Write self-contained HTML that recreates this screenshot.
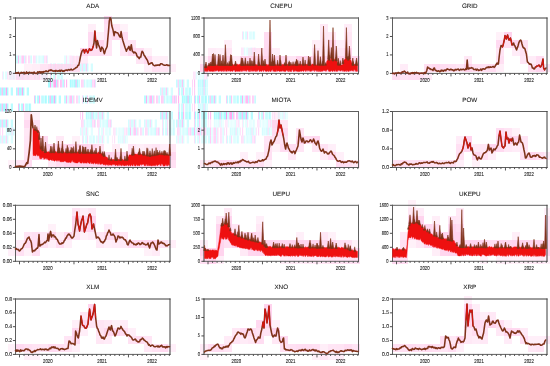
<!DOCTYPE html>
<html><head><meta charset="utf-8"><style>
html,body{margin:0;padding:0;background:#fff;width:550px;height:366px;overflow:hidden}
svg{display:block}
text{text-rendering:geometricPrecision}
</style></head><body>
<svg style="will-change:transform" width="550" height="366" viewBox="0 0 550 366">
<rect width="550" height="366" fill="#fff"/>
<defs><pattern id="art0" width="16" height="8" patternUnits="userSpaceOnUse"><rect x="0.0" y="0" width="1.7" height="8" fill="#9cfbff"/><rect x="1.7" y="0" width="1.1" height="8" fill="#ff9cee"/><rect x="2.9" y="0" width="1.2" height="8" fill="#9cfbff"/><rect x="4.0" y="0" width="1.7" height="8" fill="#9cfbff"/><rect x="5.8" y="0" width="1.1" height="8" fill="#ff86ea"/><rect x="6.9" y="0" width="1.5" height="8" fill="#9cfbff"/><rect x="10.7" y="0" width="2.3" height="8" fill="#aefcff"/></pattern><pattern id="art1" width="16" height="8" patternUnits="userSpaceOnUse"><rect x="0.0" y="0" width="0.8" height="8" fill="#ffb4f4"/><rect x="2.3" y="0" width="0.8" height="8" fill="#ff86ea"/><rect x="5.8" y="0" width="1.4" height="8" fill="#9cfbff"/><rect x="7.2" y="0" width="2.2" height="8" fill="#aefcff"/><rect x="9.5" y="0" width="2.3" height="8" fill="#9cfbff"/><rect x="11.7" y="0" width="0.9" height="8" fill="#ff86ea"/><rect x="12.7" y="0" width="1.7" height="8" fill="#9cfbff"/><rect x="14.4" y="0" width="1.6" height="8" fill="#c2feff"/></pattern><pattern id="art2" width="16" height="8" patternUnits="userSpaceOnUse"><rect x="0.0" y="0" width="2.0" height="8" fill="#9cfbff"/><rect x="2.0" y="0" width="1.1" height="8" fill="#ff86ea"/><rect x="3.1" y="0" width="2.0" height="8" fill="#c2feff"/><rect x="5.1" y="0" width="1.1" height="8" fill="#ffb4f4"/><rect x="6.2" y="0" width="1.0" height="8" fill="#ff86ea"/><rect x="7.2" y="0" width="0.9" height="8" fill="#ff86ea"/><rect x="8.1" y="0" width="1.1" height="8" fill="#9cfbff"/><rect x="9.3" y="0" width="1.1" height="8" fill="#ff9cee"/><rect x="12.3" y="0" width="1.0" height="8" fill="#ff9cee"/><rect x="13.3" y="0" width="1.1" height="8" fill="#ffb4f4"/><rect x="14.4" y="0" width="1.6" height="8" fill="#aefcff"/></pattern><pattern id="art3" width="16" height="8" patternUnits="userSpaceOnUse"><rect x="1.4" y="0" width="1.1" height="8" fill="#ff86ea"/><rect x="2.6" y="0" width="1.2" height="8" fill="#ffb4f4"/><rect x="3.8" y="0" width="1.6" height="8" fill="#aefcff"/><rect x="6.4" y="0" width="1.4" height="8" fill="#9cfbff"/><rect x="7.8" y="0" width="2.5" height="8" fill="#c2feff"/><rect x="10.3" y="0" width="1.8" height="8" fill="#9cfbff"/><rect x="12.1" y="0" width="1.2" height="8" fill="#ffb4f4"/><rect x="13.4" y="0" width="0.9" height="8" fill="#ffb4f4"/><rect x="14.3" y="0" width="1.2" height="8" fill="#ff86ea"/><rect x="15.5" y="0" width="0.5" height="8" fill="#9cfbff"/></pattern><pattern id="art4" width="16" height="8" patternUnits="userSpaceOnUse"><rect x="2.0" y="0" width="0.8" height="8" fill="#ff9cee"/><rect x="2.9" y="0" width="1.2" height="8" fill="#9cfbff"/><rect x="5.0" y="0" width="1.1" height="8" fill="#aefcff"/><rect x="6.1" y="0" width="1.1" height="8" fill="#9cfbff"/><rect x="7.2" y="0" width="0.9" height="8" fill="#ff9cee"/><rect x="9.2" y="0" width="1.1" height="8" fill="#aefcff"/><rect x="10.3" y="0" width="1.4" height="8" fill="#9cfbff"/><rect x="12.5" y="0" width="2.3" height="8" fill="#9cfbff"/><rect x="15.9" y="0" width="0.1" height="8" fill="#aefcff"/></pattern></defs>
<rect x="48" y="79.5" width="16" height="8" fill="url(#art2)" opacity="0.85"/>
<rect x="64" y="79.5" width="16" height="8" fill="url(#art1)" opacity="0.85"/>
<rect x="80" y="79.5" width="16" height="8" fill="url(#art3)" opacity="0.59"/>
<rect x="0" y="87.5" width="16" height="8" fill="url(#art0)" opacity="0.85"/>
<rect x="16" y="87.5" width="16" height="8" fill="url(#art0)" opacity="0.85"/>
<rect x="32" y="95.5" width="16" height="8" fill="url(#art4)" opacity="0.85"/>
<rect x="48" y="95.5" width="16" height="8" fill="url(#art0)" opacity="0.85"/>
<rect x="64" y="95.5" width="16" height="8" fill="url(#art2)" opacity="0.59"/>
<rect x="80" y="95.5" width="16" height="8" fill="url(#art4)" opacity="0.59"/>
<rect x="0" y="103.5" width="16" height="8" fill="url(#art0)" opacity="0.85"/>
<rect x="16" y="103.5" width="16" height="8" fill="url(#art4)" opacity="0.85"/>
<rect x="80" y="111.5" width="16" height="8" fill="url(#art1)" opacity="0.68"/>
<rect x="96" y="111.5" width="16" height="8" fill="url(#art0)" opacity="0.51"/>
<rect x="0" y="119.5" width="16" height="8" fill="url(#art0)" opacity="0.68"/>
<rect x="80" y="119.5" width="16" height="8" fill="url(#art3)" opacity="0.51"/>
<rect x="96" y="119.5" width="16" height="8" fill="url(#art3)" opacity="0.51"/>
<rect x="128" y="119.5" width="16" height="8" fill="url(#art0)" opacity="0.42"/>
<rect x="0" y="127.5" width="16" height="8" fill="url(#art1)" opacity="0.42"/>
<rect x="80" y="127.5" width="16" height="8" fill="url(#art0)" opacity="0.34"/>
<rect x="96" y="127.5" width="16" height="8" fill="url(#art4)" opacity="0.34"/>
<rect x="112" y="127.5" width="16" height="8" fill="url(#art3)" opacity="0.34"/>
<rect x="0" y="135.5" width="16" height="8" fill="url(#art0)" opacity="0.42"/>
<rect x="80" y="135.5" width="16" height="8" fill="url(#art4)" opacity="0.42"/>
<rect x="96" y="135.5" width="16" height="8" fill="url(#art0)" opacity="0.34"/>
<rect x="112" y="135.5" width="16" height="8" fill="url(#art1)" opacity="0.34"/>
<rect x="0" y="71.5" width="16" height="8" fill="url(#art4)" opacity="0.34"/>
<rect x="16" y="71.5" width="16" height="8" fill="url(#art0)" opacity="0.34"/>
<rect x="32" y="71.5" width="16" height="8" fill="url(#art4)" opacity="0.34"/>
<rect x="48" y="71.5" width="16" height="8" fill="url(#art4)" opacity="0.51"/>
<rect x="192" y="71.5" width="16" height="8" fill="url(#art3)" opacity="0.34"/>
<rect x="176" y="79.5" width="16" height="8" fill="url(#art0)" opacity="0.59"/>
<rect x="192" y="79.5" width="16" height="8" fill="url(#art1)" opacity="0.68"/>
<rect x="160" y="87.5" width="16" height="8" fill="url(#art0)" opacity="0.51"/>
<rect x="176" y="87.5" width="16" height="8" fill="url(#art4)" opacity="0.68"/>
<rect x="192" y="87.5" width="16" height="8" fill="url(#art1)" opacity="0.59"/>
<rect x="144" y="95.5" width="16" height="8" fill="url(#art2)" opacity="0.68"/>
<rect x="160" y="95.5" width="16" height="8" fill="url(#art3)" opacity="0.68"/>
<rect x="176" y="95.5" width="16" height="8" fill="url(#art1)" opacity="0.85"/>
<rect x="192" y="95.5" width="16" height="8" fill="url(#art4)" opacity="0.85"/>
<rect x="208" y="95.5" width="16" height="8" fill="url(#art0)" opacity="0.68"/>
<rect x="224" y="95.5" width="16" height="8" fill="url(#art4)" opacity="0.68"/>
<rect x="240" y="95.5" width="16" height="8" fill="url(#art2)" opacity="0.68"/>
<rect x="176" y="103.5" width="16" height="8" fill="url(#art4)" opacity="0.59"/>
<rect x="192" y="103.5" width="16" height="8" fill="url(#art1)" opacity="0.51"/>
<rect x="160" y="111.5" width="16" height="8" fill="url(#art0)" opacity="0.68"/>
<rect x="176" y="111.5" width="16" height="8" fill="url(#art4)" opacity="0.85"/>
<rect x="192" y="111.5" width="16" height="8" fill="url(#art4)" opacity="0.85"/>
<rect x="208" y="111.5" width="16" height="8" fill="url(#art1)" opacity="0.85"/>
<rect x="224" y="111.5" width="16" height="8" fill="url(#art2)" opacity="0.85"/>
<rect x="240" y="111.5" width="16" height="8" fill="url(#art0)" opacity="0.85"/>
<rect x="256" y="111.5" width="16" height="8" fill="url(#art4)" opacity="0.68"/>
<rect x="144" y="119.5" width="16" height="8" fill="url(#art0)" opacity="0.42"/>
<rect x="160" y="119.5" width="16" height="8" fill="url(#art4)" opacity="0.42"/>
<rect x="176" y="119.5" width="16" height="8" fill="url(#art0)" opacity="0.59"/>
<rect x="192" y="119.5" width="16" height="8" fill="url(#art4)" opacity="0.59"/>
<rect x="208" y="119.5" width="16" height="8" fill="url(#art1)" opacity="0.3"/>
<rect x="224" y="119.5" width="16" height="8" fill="url(#art3)" opacity="0.3"/>
<rect x="240" y="119.5" width="16" height="8" fill="url(#art4)" opacity="0.3"/>
<rect x="256" y="119.5" width="16" height="8" fill="url(#art3)" opacity="0.34"/>
<rect x="128" y="127.5" width="16" height="8" fill="url(#art2)" opacity="0.51"/>
<rect x="144" y="127.5" width="16" height="8" fill="url(#art3)" opacity="0.51"/>
<rect x="160" y="127.5" width="16" height="8" fill="url(#art4)" opacity="0.51"/>
<rect x="176" y="127.5" width="16" height="8" fill="url(#art3)" opacity="0.51"/>
<rect x="192" y="127.5" width="16" height="8" fill="url(#art2)" opacity="0.59"/>
<rect x="208" y="127.5" width="16" height="8" fill="url(#art2)" opacity="0.42"/>
<rect x="224" y="127.5" width="16" height="8" fill="url(#art1)" opacity="0.42"/>
<rect x="240" y="127.5" width="16" height="8" fill="url(#art1)" opacity="0.42"/>
<rect x="256" y="127.5" width="16" height="8" fill="url(#art1)" opacity="0.42"/>
<rect x="176" y="135.5" width="16" height="8" fill="url(#art0)" opacity="0.34"/>
<rect x="192" y="135.5" width="16" height="8" fill="url(#art4)" opacity="0.42"/>
<rect x="208" y="135.5" width="16" height="8" fill="url(#art2)" opacity="0.42"/>
<rect x="224" y="135.5" width="16" height="8" fill="url(#art4)" opacity="0.42"/>
<rect x="240" y="135.5" width="16" height="8" fill="url(#art3)" opacity="0.42"/>
<rect x="16" y="55.5" width="16" height="8" fill="url(#art2)" opacity="0.51"/>
<rect x="32" y="55.5" width="16" height="8" fill="url(#art3)" opacity="0.42"/>
<rect x="64" y="55.5" width="16" height="8" fill="url(#art2)" opacity="0.26"/>
<rect x="48" y="63.5" width="16" height="8" fill="url(#art4)" opacity="0.51"/>
<rect x="64" y="63.5" width="16" height="8" fill="url(#art0)" opacity="0.42"/>
<rect x="80" y="63.5" width="16" height="8" fill="url(#art0)" opacity="0.51"/>
<rect x="240" y="31.5" width="16" height="8" fill="url(#art4)" opacity="0.42"/>
<rect x="240" y="47.5" width="16" height="8" fill="url(#art3)" opacity="0.34"/>
<rect x="272" y="111.5" width="16" height="8" fill="url(#art1)" opacity="0.34"/>
<rect x="104" y="16" width="8" height="8" fill="#ffd4ee" opacity="0.85"/>
<rect x="88" y="24" width="8" height="8" fill="#ffd4ee" opacity="0.40"/>
<rect x="104" y="24" width="8" height="8" fill="#ffd4ee" opacity="0.75"/>
<rect x="112" y="24" width="8" height="8" fill="#ffd4ee" opacity="0.64"/>
<rect x="120" y="24" width="8" height="8" fill="#ffd4ee" opacity="0.33"/>
<rect x="320" y="24" width="8" height="8" fill="#ffd4ee" opacity="0.51"/>
<rect x="344" y="24" width="8" height="8" fill="#ffd4ee" opacity="0.44"/>
<rect x="88" y="32" width="8" height="8" fill="#ffd4ee" opacity="0.85"/>
<rect x="96" y="32" width="8" height="8" fill="#ffd4ee" opacity="0.33"/>
<rect x="104" y="32" width="8" height="8" fill="#ffd4ee" opacity="0.68"/>
<rect x="112" y="32" width="8" height="8" fill="#ffd4ee" opacity="0.88"/>
<rect x="120" y="32" width="8" height="8" fill="#ffd4ee" opacity="0.82"/>
<rect x="264" y="32" width="8" height="8" fill="#ffd4ee" opacity="0.82"/>
<rect x="320" y="32" width="8" height="8" fill="#ffd4ee" opacity="0.57"/>
<rect x="328" y="32" width="8" height="8" fill="#ffd4ee" opacity="0.51"/>
<rect x="344" y="32" width="8" height="8" fill="#ffd4ee" opacity="0.57"/>
<rect x="496" y="32" width="8" height="8" fill="#ffd4ee" opacity="0.33"/>
<rect x="504" y="32" width="8" height="8" fill="#ffd4ee" opacity="1.00"/>
<rect x="88" y="40" width="8" height="8" fill="#ffd4ee" opacity="0.88"/>
<rect x="96" y="40" width="8" height="8" fill="#ffd4ee" opacity="1.00"/>
<rect x="104" y="40" width="8" height="8" fill="#ffd4ee" opacity="0.61"/>
<rect x="120" y="40" width="8" height="8" fill="#ffd4ee" opacity="0.64"/>
<rect x="128" y="40" width="8" height="8" fill="#ffd4ee" opacity="0.64"/>
<rect x="224" y="40" width="8" height="8" fill="#ffd4ee" opacity="0.40"/>
<rect x="264" y="40" width="8" height="8" fill="#ffd4ee" opacity="0.85"/>
<rect x="312" y="40" width="8" height="8" fill="#ffd4ee" opacity="0.40"/>
<rect x="320" y="40" width="8" height="8" fill="#ffd4ee" opacity="0.57"/>
<rect x="328" y="40" width="8" height="8" fill="#ffd4ee" opacity="1.00"/>
<rect x="336" y="40" width="8" height="8" fill="#ffd4ee" opacity="0.37"/>
<rect x="344" y="40" width="8" height="8" fill="#ffd4ee" opacity="0.64"/>
<rect x="496" y="40" width="8" height="8" fill="#ffd4ee" opacity="0.85"/>
<rect x="504" y="40" width="8" height="8" fill="#ffd4ee" opacity="0.75"/>
<rect x="512" y="40" width="8" height="8" fill="#ffd4ee" opacity="0.99"/>
<rect x="520" y="40" width="8" height="8" fill="#ffd4ee" opacity="0.71"/>
<rect x="80" y="48" width="8" height="8" fill="#ffd4ee" opacity="1.00"/>
<rect x="88" y="48" width="8" height="8" fill="#ffd4ee" opacity="0.78"/>
<rect x="96" y="48" width="8" height="8" fill="#ffd4ee" opacity="0.78"/>
<rect x="104" y="48" width="8" height="8" fill="#ffd4ee" opacity="0.61"/>
<rect x="120" y="48" width="8" height="8" fill="#ffd4ee" opacity="0.57"/>
<rect x="128" y="48" width="8" height="8" fill="#ffd4ee" opacity="0.88"/>
<rect x="136" y="48" width="8" height="8" fill="#ffd4ee" opacity="0.82"/>
<rect x="144" y="48" width="8" height="8" fill="#ffd4ee" opacity="0.33"/>
<rect x="208" y="48" width="8" height="8" fill="#ffd4ee" opacity="0.44"/>
<rect x="216" y="48" width="8" height="8" fill="#ffd4ee" opacity="0.37"/>
<rect x="224" y="48" width="8" height="8" fill="#ffd4ee" opacity="0.64"/>
<rect x="248" y="48" width="8" height="8" fill="#ffd4ee" opacity="0.44"/>
<rect x="256" y="48" width="8" height="8" fill="#ffd4ee" opacity="0.64"/>
<rect x="264" y="48" width="8" height="8" fill="#ffd4ee" opacity="0.85"/>
<rect x="272" y="48" width="8" height="8" fill="#ffd4ee" opacity="0.40"/>
<rect x="312" y="48" width="8" height="8" fill="#ffd4ee" opacity="0.64"/>
<rect x="320" y="48" width="8" height="8" fill="#ffd4ee" opacity="0.57"/>
<rect x="328" y="48" width="8" height="8" fill="#ffd4ee" opacity="1.00"/>
<rect x="336" y="48" width="8" height="8" fill="#ffd4ee" opacity="0.57"/>
<rect x="344" y="48" width="8" height="8" fill="#ffd4ee" opacity="1.00"/>
<rect x="496" y="48" width="8" height="8" fill="#ffd4ee" opacity="0.64"/>
<rect x="512" y="48" width="8" height="8" fill="#ffd4ee" opacity="0.44"/>
<rect x="520" y="48" width="8" height="8" fill="#ffd4ee" opacity="0.68"/>
<rect x="72" y="56" width="8" height="8" fill="#ffd4ee" opacity="0.51"/>
<rect x="80" y="56" width="8" height="8" fill="#ffd4ee" opacity="0.44"/>
<rect x="136" y="56" width="8" height="8" fill="#ffd4ee" opacity="0.61"/>
<rect x="144" y="56" width="8" height="8" fill="#ffd4ee" opacity="0.85"/>
<rect x="152" y="56" width="8" height="8" fill="#ffd4ee" opacity="0.37"/>
<rect x="160" y="56" width="8" height="8" fill="#ffd4ee" opacity="0.40"/>
<rect x="200" y="56" width="8" height="8" fill="#ffd4ee" opacity="0.33"/>
<rect x="208" y="56" width="8" height="8" fill="#ffd4ee" opacity="1.00"/>
<rect x="216" y="56" width="8" height="8" fill="#ffd4ee" opacity="1.00"/>
<rect x="224" y="56" width="8" height="8" fill="#ffd4ee" opacity="1.00"/>
<rect x="232" y="56" width="8" height="8" fill="#ffd4ee" opacity="0.44"/>
<rect x="240" y="56" width="8" height="8" fill="#ffd4ee" opacity="1.00"/>
<rect x="248" y="56" width="8" height="8" fill="#ffd4ee" opacity="1.00"/>
<rect x="256" y="56" width="8" height="8" fill="#ffd4ee" opacity="1.00"/>
<rect x="264" y="56" width="8" height="8" fill="#ffd4ee" opacity="1.00"/>
<rect x="272" y="56" width="8" height="8" fill="#ffd4ee" opacity="1.00"/>
<rect x="280" y="56" width="8" height="8" fill="#ffd4ee" opacity="0.95"/>
<rect x="288" y="56" width="8" height="8" fill="#ffd4ee" opacity="0.61"/>
<rect x="296" y="56" width="8" height="8" fill="#ffd4ee" opacity="1.00"/>
<rect x="304" y="56" width="8" height="8" fill="#ffd4ee" opacity="1.00"/>
<rect x="312" y="56" width="8" height="8" fill="#ffd4ee" opacity="1.00"/>
<rect x="320" y="56" width="8" height="8" fill="#ffd4ee" opacity="1.00"/>
<rect x="328" y="56" width="8" height="8" fill="#ffd4ee" opacity="1.00"/>
<rect x="336" y="56" width="8" height="8" fill="#ffd4ee" opacity="1.00"/>
<rect x="344" y="56" width="8" height="8" fill="#ffd4ee" opacity="1.00"/>
<rect x="352" y="56" width="8" height="8" fill="#ffd4ee" opacity="0.88"/>
<rect x="464" y="56" width="8" height="8" fill="#ffd4ee" opacity="0.54"/>
<rect x="496" y="56" width="8" height="8" fill="#ffd4ee" opacity="0.75"/>
<rect x="520" y="56" width="8" height="8" fill="#ffd4ee" opacity="0.61"/>
<rect x="528" y="56" width="8" height="8" fill="#ffd4ee" opacity="0.44"/>
<rect x="536" y="56" width="8" height="8" fill="#ffd4ee" opacity="0.78"/>
<rect x="24" y="64" width="8" height="8" fill="#ffd4ee" opacity="0.33"/>
<rect x="32" y="64" width="8" height="8" fill="#ffd4ee" opacity="0.40"/>
<rect x="40" y="64" width="8" height="8" fill="#ffd4ee" opacity="0.64"/>
<rect x="48" y="64" width="8" height="8" fill="#ffd4ee" opacity="0.78"/>
<rect x="56" y="64" width="8" height="8" fill="#ffd4ee" opacity="0.82"/>
<rect x="64" y="64" width="8" height="8" fill="#ffd4ee" opacity="0.75"/>
<rect x="72" y="64" width="8" height="8" fill="#ffd4ee" opacity="0.78"/>
<rect x="144" y="64" width="8" height="8" fill="#ffd4ee" opacity="0.37"/>
<rect x="152" y="64" width="8" height="8" fill="#ffd4ee" opacity="0.71"/>
<rect x="160" y="64" width="8" height="8" fill="#ffd4ee" opacity="0.64"/>
<rect x="168" y="64" width="8" height="8" fill="#ffd4ee" opacity="0.37"/>
<rect x="200" y="64" width="8" height="8" fill="#ffd4ee" opacity="1.00"/>
<rect x="208" y="64" width="8" height="8" fill="#ffd4ee" opacity="1.00"/>
<rect x="216" y="64" width="8" height="8" fill="#ffd4ee" opacity="1.00"/>
<rect x="224" y="64" width="8" height="8" fill="#ffd4ee" opacity="1.00"/>
<rect x="232" y="64" width="8" height="8" fill="#ffd4ee" opacity="1.00"/>
<rect x="240" y="64" width="8" height="8" fill="#ffd4ee" opacity="1.00"/>
<rect x="248" y="64" width="8" height="8" fill="#ffd4ee" opacity="1.00"/>
<rect x="256" y="64" width="8" height="8" fill="#ffd4ee" opacity="1.00"/>
<rect x="264" y="64" width="8" height="8" fill="#ffd4ee" opacity="1.00"/>
<rect x="272" y="64" width="8" height="8" fill="#ffd4ee" opacity="1.00"/>
<rect x="280" y="64" width="8" height="8" fill="#ffd4ee" opacity="1.00"/>
<rect x="288" y="64" width="8" height="8" fill="#ffd4ee" opacity="1.00"/>
<rect x="296" y="64" width="8" height="8" fill="#ffd4ee" opacity="1.00"/>
<rect x="304" y="64" width="8" height="8" fill="#ffd4ee" opacity="1.00"/>
<rect x="312" y="64" width="8" height="8" fill="#ffd4ee" opacity="1.00"/>
<rect x="320" y="64" width="8" height="8" fill="#ffd4ee" opacity="1.00"/>
<rect x="328" y="64" width="8" height="8" fill="#ffd4ee" opacity="1.00"/>
<rect x="336" y="64" width="8" height="8" fill="#ffd4ee" opacity="1.00"/>
<rect x="344" y="64" width="8" height="8" fill="#ffd4ee" opacity="1.00"/>
<rect x="352" y="64" width="8" height="8" fill="#ffd4ee" opacity="1.00"/>
<rect x="400" y="64" width="8" height="8" fill="#ffd4ee" opacity="0.44"/>
<rect x="424" y="64" width="8" height="8" fill="#ffd4ee" opacity="0.75"/>
<rect x="432" y="64" width="8" height="8" fill="#ffd4ee" opacity="0.88"/>
<rect x="440" y="64" width="8" height="8" fill="#ffd4ee" opacity="0.78"/>
<rect x="448" y="64" width="8" height="8" fill="#ffd4ee" opacity="0.71"/>
<rect x="456" y="64" width="8" height="8" fill="#ffd4ee" opacity="0.61"/>
<rect x="464" y="64" width="8" height="8" fill="#ffd4ee" opacity="1.00"/>
<rect x="472" y="64" width="8" height="8" fill="#ffd4ee" opacity="0.75"/>
<rect x="480" y="64" width="8" height="8" fill="#ffd4ee" opacity="0.71"/>
<rect x="488" y="64" width="8" height="8" fill="#ffd4ee" opacity="0.82"/>
<rect x="496" y="64" width="8" height="8" fill="#ffd4ee" opacity="0.40"/>
<rect x="528" y="64" width="8" height="8" fill="#ffd4ee" opacity="0.75"/>
<rect x="536" y="64" width="8" height="8" fill="#ffd4ee" opacity="1.00"/>
<rect x="544" y="64" width="8" height="8" fill="#ffd4ee" opacity="0.53"/>
<rect x="8" y="72" width="8" height="8" fill="#ffd4ee" opacity="0.37"/>
<rect x="16" y="72" width="8" height="8" fill="#ffd4ee" opacity="0.71"/>
<rect x="24" y="72" width="8" height="8" fill="#ffd4ee" opacity="0.71"/>
<rect x="32" y="72" width="8" height="8" fill="#ffd4ee" opacity="0.68"/>
<rect x="40" y="72" width="8" height="8" fill="#ffd4ee" opacity="0.44"/>
<rect x="392" y="72" width="8" height="8" fill="#ffd4ee" opacity="0.75"/>
<rect x="400" y="72" width="8" height="8" fill="#ffd4ee" opacity="0.64"/>
<rect x="408" y="72" width="8" height="8" fill="#ffd4ee" opacity="0.71"/>
<rect x="416" y="72" width="8" height="8" fill="#ffd4ee" opacity="0.75"/>
<rect x="424" y="72" width="8" height="8" fill="#ffd4ee" opacity="0.47"/>
<rect x="24" y="112" width="8" height="8" fill="#ffd4ee" opacity="0.57"/>
<rect x="32" y="112" width="8" height="8" fill="#ffd4ee" opacity="0.33"/>
<rect x="272" y="112" width="8" height="8" fill="#ffd4ee" opacity="0.37"/>
<rect x="24" y="120" width="8" height="8" fill="#ffd4ee" opacity="0.85"/>
<rect x="32" y="120" width="8" height="8" fill="#ffd4ee" opacity="0.71"/>
<rect x="272" y="120" width="8" height="8" fill="#ffd4ee" opacity="0.92"/>
<rect x="280" y="120" width="8" height="8" fill="#ffd4ee" opacity="0.57"/>
<rect x="24" y="128" width="8" height="8" fill="#ffd4ee" opacity="0.57"/>
<rect x="32" y="128" width="8" height="8" fill="#ffd4ee" opacity="1.00"/>
<rect x="272" y="128" width="8" height="8" fill="#ffd4ee" opacity="0.82"/>
<rect x="280" y="128" width="8" height="8" fill="#ffd4ee" opacity="0.85"/>
<rect x="296" y="128" width="8" height="8" fill="#ffd4ee" opacity="0.68"/>
<rect x="496" y="128" width="8" height="8" fill="#ffd4ee" opacity="0.78"/>
<rect x="504" y="128" width="8" height="8" fill="#ffd4ee" opacity="0.64"/>
<rect x="512" y="128" width="8" height="8" fill="#ffd4ee" opacity="0.33"/>
<rect x="24" y="136" width="8" height="8" fill="#ffd4ee" opacity="0.61"/>
<rect x="32" y="136" width="8" height="8" fill="#ffd4ee" opacity="1.00"/>
<rect x="40" y="136" width="8" height="8" fill="#ffd4ee" opacity="0.85"/>
<rect x="56" y="136" width="8" height="8" fill="#ffd4ee" opacity="0.51"/>
<rect x="72" y="136" width="8" height="8" fill="#ffd4ee" opacity="0.33"/>
<rect x="264" y="136" width="8" height="8" fill="#ffd4ee" opacity="0.61"/>
<rect x="272" y="136" width="8" height="8" fill="#ffd4ee" opacity="0.68"/>
<rect x="280" y="136" width="8" height="8" fill="#ffd4ee" opacity="0.68"/>
<rect x="296" y="136" width="8" height="8" fill="#ffd4ee" opacity="1.00"/>
<rect x="304" y="136" width="8" height="8" fill="#ffd4ee" opacity="0.82"/>
<rect x="312" y="136" width="8" height="8" fill="#ffd4ee" opacity="0.92"/>
<rect x="456" y="136" width="8" height="8" fill="#ffd4ee" opacity="0.44"/>
<rect x="464" y="136" width="8" height="8" fill="#ffd4ee" opacity="1.00"/>
<rect x="496" y="136" width="8" height="8" fill="#ffd4ee" opacity="1.00"/>
<rect x="504" y="136" width="8" height="8" fill="#ffd4ee" opacity="1.00"/>
<rect x="512" y="136" width="8" height="8" fill="#ffd4ee" opacity="1.00"/>
<rect x="520" y="136" width="8" height="8" fill="#ffd4ee" opacity="0.64"/>
<rect x="24" y="144" width="8" height="8" fill="#ffd4ee" opacity="0.64"/>
<rect x="32" y="144" width="8" height="8" fill="#ffd4ee" opacity="1.00"/>
<rect x="40" y="144" width="8" height="8" fill="#ffd4ee" opacity="1.00"/>
<rect x="48" y="144" width="8" height="8" fill="#ffd4ee" opacity="1.00"/>
<rect x="56" y="144" width="8" height="8" fill="#ffd4ee" opacity="1.00"/>
<rect x="64" y="144" width="8" height="8" fill="#ffd4ee" opacity="0.99"/>
<rect x="72" y="144" width="8" height="8" fill="#ffd4ee" opacity="1.00"/>
<rect x="80" y="144" width="8" height="8" fill="#ffd4ee" opacity="1.00"/>
<rect x="88" y="144" width="8" height="8" fill="#ffd4ee" opacity="0.88"/>
<rect x="96" y="144" width="8" height="8" fill="#ffd4ee" opacity="0.68"/>
<rect x="112" y="144" width="8" height="8" fill="#ffd4ee" opacity="0.40"/>
<rect x="128" y="144" width="8" height="8" fill="#ffd4ee" opacity="0.61"/>
<rect x="136" y="144" width="8" height="8" fill="#ffd4ee" opacity="0.40"/>
<rect x="144" y="144" width="8" height="8" fill="#ffd4ee" opacity="0.51"/>
<rect x="152" y="144" width="8" height="8" fill="#ffd4ee" opacity="0.61"/>
<rect x="160" y="144" width="8" height="8" fill="#ffd4ee" opacity="0.40"/>
<rect x="168" y="144" width="8" height="8" fill="#ffd4ee" opacity="0.57"/>
<rect x="264" y="144" width="8" height="8" fill="#ffd4ee" opacity="0.68"/>
<rect x="272" y="144" width="8" height="8" fill="#ffd4ee" opacity="0.33"/>
<rect x="280" y="144" width="8" height="8" fill="#ffd4ee" opacity="0.82"/>
<rect x="288" y="144" width="8" height="8" fill="#ffd4ee" opacity="0.78"/>
<rect x="296" y="144" width="8" height="8" fill="#ffd4ee" opacity="0.61"/>
<rect x="312" y="144" width="8" height="8" fill="#ffd4ee" opacity="0.61"/>
<rect x="320" y="144" width="8" height="8" fill="#ffd4ee" opacity="0.68"/>
<rect x="328" y="144" width="8" height="8" fill="#ffd4ee" opacity="0.37"/>
<rect x="456" y="144" width="8" height="8" fill="#ffd4ee" opacity="0.71"/>
<rect x="464" y="144" width="8" height="8" fill="#ffd4ee" opacity="1.00"/>
<rect x="472" y="144" width="8" height="8" fill="#ffd4ee" opacity="0.47"/>
<rect x="480" y="144" width="8" height="8" fill="#ffd4ee" opacity="0.57"/>
<rect x="488" y="144" width="8" height="8" fill="#ffd4ee" opacity="1.00"/>
<rect x="496" y="144" width="8" height="8" fill="#ffd4ee" opacity="0.88"/>
<rect x="504" y="144" width="8" height="8" fill="#ffd4ee" opacity="0.54"/>
<rect x="512" y="144" width="8" height="8" fill="#ffd4ee" opacity="0.44"/>
<rect x="520" y="144" width="8" height="8" fill="#ffd4ee" opacity="0.64"/>
<rect x="24" y="152" width="8" height="8" fill="#ffd4ee" opacity="0.68"/>
<rect x="32" y="152" width="8" height="8" fill="#ffd4ee" opacity="1.00"/>
<rect x="40" y="152" width="8" height="8" fill="#ffd4ee" opacity="1.00"/>
<rect x="48" y="152" width="8" height="8" fill="#ffd4ee" opacity="1.00"/>
<rect x="56" y="152" width="8" height="8" fill="#ffd4ee" opacity="1.00"/>
<rect x="64" y="152" width="8" height="8" fill="#ffd4ee" opacity="1.00"/>
<rect x="72" y="152" width="8" height="8" fill="#ffd4ee" opacity="1.00"/>
<rect x="80" y="152" width="8" height="8" fill="#ffd4ee" opacity="1.00"/>
<rect x="88" y="152" width="8" height="8" fill="#ffd4ee" opacity="1.00"/>
<rect x="96" y="152" width="8" height="8" fill="#ffd4ee" opacity="1.00"/>
<rect x="104" y="152" width="8" height="8" fill="#ffd4ee" opacity="1.00"/>
<rect x="112" y="152" width="8" height="8" fill="#ffd4ee" opacity="0.92"/>
<rect x="120" y="152" width="8" height="8" fill="#ffd4ee" opacity="1.00"/>
<rect x="128" y="152" width="8" height="8" fill="#ffd4ee" opacity="1.00"/>
<rect x="136" y="152" width="8" height="8" fill="#ffd4ee" opacity="1.00"/>
<rect x="144" y="152" width="8" height="8" fill="#ffd4ee" opacity="1.00"/>
<rect x="152" y="152" width="8" height="8" fill="#ffd4ee" opacity="1.00"/>
<rect x="160" y="152" width="8" height="8" fill="#ffd4ee" opacity="1.00"/>
<rect x="168" y="152" width="8" height="8" fill="#ffd4ee" opacity="0.92"/>
<rect x="240" y="152" width="8" height="8" fill="#ffd4ee" opacity="0.37"/>
<rect x="256" y="152" width="8" height="8" fill="#ffd4ee" opacity="0.37"/>
<rect x="264" y="152" width="8" height="8" fill="#ffd4ee" opacity="0.71"/>
<rect x="288" y="152" width="8" height="8" fill="#ffd4ee" opacity="0.51"/>
<rect x="320" y="152" width="8" height="8" fill="#ffd4ee" opacity="0.47"/>
<rect x="328" y="152" width="8" height="8" fill="#ffd4ee" opacity="0.85"/>
<rect x="336" y="152" width="8" height="8" fill="#ffd4ee" opacity="0.37"/>
<rect x="456" y="152" width="8" height="8" fill="#ffd4ee" opacity="0.71"/>
<rect x="472" y="152" width="8" height="8" fill="#ffd4ee" opacity="0.88"/>
<rect x="480" y="152" width="8" height="8" fill="#ffd4ee" opacity="0.71"/>
<rect x="488" y="152" width="8" height="8" fill="#ffd4ee" opacity="0.37"/>
<rect x="520" y="152" width="8" height="8" fill="#ffd4ee" opacity="0.75"/>
<rect x="528" y="152" width="8" height="8" fill="#ffd4ee" opacity="0.92"/>
<rect x="536" y="152" width="8" height="8" fill="#ffd4ee" opacity="0.75"/>
<rect x="544" y="152" width="8" height="8" fill="#ffd4ee" opacity="0.48"/>
<rect x="8" y="160" width="8" height="8" fill="#ffd4ee" opacity="0.33"/>
<rect x="16" y="160" width="8" height="8" fill="#ffd4ee" opacity="0.64"/>
<rect x="24" y="160" width="8" height="8" fill="#ffd4ee" opacity="0.78"/>
<rect x="48" y="160" width="8" height="8" fill="#ffd4ee" opacity="0.57"/>
<rect x="56" y="160" width="8" height="8" fill="#ffd4ee" opacity="0.82"/>
<rect x="64" y="160" width="8" height="8" fill="#ffd4ee" opacity="1.00"/>
<rect x="72" y="160" width="8" height="8" fill="#ffd4ee" opacity="1.00"/>
<rect x="80" y="160" width="8" height="8" fill="#ffd4ee" opacity="1.00"/>
<rect x="88" y="160" width="8" height="8" fill="#ffd4ee" opacity="1.00"/>
<rect x="96" y="160" width="8" height="8" fill="#ffd4ee" opacity="1.00"/>
<rect x="104" y="160" width="8" height="8" fill="#ffd4ee" opacity="1.00"/>
<rect x="112" y="160" width="8" height="8" fill="#ffd4ee" opacity="1.00"/>
<rect x="120" y="160" width="8" height="8" fill="#ffd4ee" opacity="1.00"/>
<rect x="128" y="160" width="8" height="8" fill="#ffd4ee" opacity="1.00"/>
<rect x="136" y="160" width="8" height="8" fill="#ffd4ee" opacity="1.00"/>
<rect x="144" y="160" width="8" height="8" fill="#ffd4ee" opacity="1.00"/>
<rect x="152" y="160" width="8" height="8" fill="#ffd4ee" opacity="1.00"/>
<rect x="160" y="160" width="8" height="8" fill="#ffd4ee" opacity="1.00"/>
<rect x="168" y="160" width="8" height="8" fill="#ffd4ee" opacity="0.71"/>
<rect x="200" y="160" width="8" height="8" fill="#ffd4ee" opacity="0.47"/>
<rect x="208" y="160" width="8" height="8" fill="#ffd4ee" opacity="0.68"/>
<rect x="216" y="160" width="8" height="8" fill="#ffd4ee" opacity="0.85"/>
<rect x="224" y="160" width="8" height="8" fill="#ffd4ee" opacity="0.88"/>
<rect x="232" y="160" width="8" height="8" fill="#ffd4ee" opacity="0.78"/>
<rect x="240" y="160" width="8" height="8" fill="#ffd4ee" opacity="0.68"/>
<rect x="248" y="160" width="8" height="8" fill="#ffd4ee" opacity="0.71"/>
<rect x="256" y="160" width="8" height="8" fill="#ffd4ee" opacity="0.71"/>
<rect x="264" y="160" width="8" height="8" fill="#ffd4ee" opacity="0.33"/>
<rect x="336" y="160" width="8" height="8" fill="#ffd4ee" opacity="0.78"/>
<rect x="344" y="160" width="8" height="8" fill="#ffd4ee" opacity="0.75"/>
<rect x="352" y="160" width="8" height="8" fill="#ffd4ee" opacity="0.57"/>
<rect x="392" y="160" width="8" height="8" fill="#ffd4ee" opacity="0.68"/>
<rect x="400" y="160" width="8" height="8" fill="#ffd4ee" opacity="0.78"/>
<rect x="408" y="160" width="8" height="8" fill="#ffd4ee" opacity="0.71"/>
<rect x="416" y="160" width="8" height="8" fill="#ffd4ee" opacity="0.78"/>
<rect x="424" y="160" width="8" height="8" fill="#ffd4ee" opacity="0.71"/>
<rect x="432" y="160" width="8" height="8" fill="#ffd4ee" opacity="0.68"/>
<rect x="440" y="160" width="8" height="8" fill="#ffd4ee" opacity="0.64"/>
<rect x="448" y="160" width="8" height="8" fill="#ffd4ee" opacity="0.71"/>
<rect x="456" y="160" width="8" height="8" fill="#ffd4ee" opacity="0.37"/>
<rect x="472" y="160" width="8" height="8" fill="#ffd4ee" opacity="0.33"/>
<rect x="408" y="200" width="8" height="8" fill="#ffd4ee" opacity="0.33"/>
<rect x="72" y="208" width="8" height="8" fill="#ffd4ee" opacity="0.64"/>
<rect x="80" y="208" width="8" height="8" fill="#ffd4ee" opacity="0.37"/>
<rect x="88" y="208" width="8" height="8" fill="#ffd4ee" opacity="0.57"/>
<rect x="224" y="208" width="8" height="8" fill="#ffd4ee" opacity="0.51"/>
<rect x="408" y="208" width="8" height="8" fill="#ffd4ee" opacity="0.57"/>
<rect x="416" y="208" width="8" height="8" fill="#ffd4ee" opacity="0.44"/>
<rect x="456" y="208" width="8" height="8" fill="#ffd4ee" opacity="0.51"/>
<rect x="544" y="208" width="8" height="8" fill="#ffd4ee" opacity="0.35"/>
<rect x="72" y="216" width="8" height="8" fill="#ffd4ee" opacity="1.00"/>
<rect x="80" y="216" width="8" height="8" fill="#ffd4ee" opacity="1.00"/>
<rect x="88" y="216" width="8" height="8" fill="#ffd4ee" opacity="1.00"/>
<rect x="216" y="216" width="8" height="8" fill="#ffd4ee" opacity="0.54"/>
<rect x="224" y="216" width="8" height="8" fill="#ffd4ee" opacity="1.00"/>
<rect x="256" y="216" width="8" height="8" fill="#ffd4ee" opacity="0.37"/>
<rect x="408" y="216" width="8" height="8" fill="#ffd4ee" opacity="1.00"/>
<rect x="416" y="216" width="8" height="8" fill="#ffd4ee" opacity="1.00"/>
<rect x="432" y="216" width="8" height="8" fill="#ffd4ee" opacity="0.40"/>
<rect x="448" y="216" width="8" height="8" fill="#ffd4ee" opacity="0.61"/>
<rect x="456" y="216" width="8" height="8" fill="#ffd4ee" opacity="0.57"/>
<rect x="544" y="216" width="8" height="8" fill="#ffd4ee" opacity="0.67"/>
<rect x="48" y="224" width="8" height="8" fill="#ffd4ee" opacity="0.33"/>
<rect x="72" y="224" width="8" height="8" fill="#ffd4ee" opacity="1.00"/>
<rect x="80" y="224" width="8" height="8" fill="#ffd4ee" opacity="1.00"/>
<rect x="88" y="224" width="8" height="8" fill="#ffd4ee" opacity="1.00"/>
<rect x="104" y="224" width="8" height="8" fill="#ffd4ee" opacity="0.44"/>
<rect x="216" y="224" width="8" height="8" fill="#ffd4ee" opacity="1.00"/>
<rect x="224" y="224" width="8" height="8" fill="#ffd4ee" opacity="1.00"/>
<rect x="232" y="224" width="8" height="8" fill="#ffd4ee" opacity="0.61"/>
<rect x="256" y="224" width="8" height="8" fill="#ffd4ee" opacity="0.57"/>
<rect x="408" y="224" width="8" height="8" fill="#ffd4ee" opacity="1.00"/>
<rect x="416" y="224" width="8" height="8" fill="#ffd4ee" opacity="1.00"/>
<rect x="424" y="224" width="8" height="8" fill="#ffd4ee" opacity="0.95"/>
<rect x="432" y="224" width="8" height="8" fill="#ffd4ee" opacity="0.78"/>
<rect x="448" y="224" width="8" height="8" fill="#ffd4ee" opacity="0.95"/>
<rect x="456" y="224" width="8" height="8" fill="#ffd4ee" opacity="0.78"/>
<rect x="544" y="224" width="8" height="8" fill="#ffd4ee" opacity="0.67"/>
<rect x="24" y="232" width="8" height="8" fill="#ffd4ee" opacity="0.64"/>
<rect x="32" y="232" width="8" height="8" fill="#ffd4ee" opacity="0.71"/>
<rect x="40" y="232" width="8" height="8" fill="#ffd4ee" opacity="0.51"/>
<rect x="48" y="232" width="8" height="8" fill="#ffd4ee" opacity="1.00"/>
<rect x="56" y="232" width="8" height="8" fill="#ffd4ee" opacity="0.40"/>
<rect x="64" y="232" width="8" height="8" fill="#ffd4ee" opacity="0.92"/>
<rect x="72" y="232" width="8" height="8" fill="#ffd4ee" opacity="0.61"/>
<rect x="80" y="232" width="8" height="8" fill="#ffd4ee" opacity="0.33"/>
<rect x="88" y="232" width="8" height="8" fill="#ffd4ee" opacity="0.47"/>
<rect x="96" y="232" width="8" height="8" fill="#ffd4ee" opacity="0.61"/>
<rect x="104" y="232" width="8" height="8" fill="#ffd4ee" opacity="0.88"/>
<rect x="112" y="232" width="8" height="8" fill="#ffd4ee" opacity="0.95"/>
<rect x="120" y="232" width="8" height="8" fill="#ffd4ee" opacity="0.57"/>
<rect x="216" y="232" width="8" height="8" fill="#ffd4ee" opacity="1.00"/>
<rect x="224" y="232" width="8" height="8" fill="#ffd4ee" opacity="1.00"/>
<rect x="232" y="232" width="8" height="8" fill="#ffd4ee" opacity="1.00"/>
<rect x="240" y="232" width="8" height="8" fill="#ffd4ee" opacity="1.00"/>
<rect x="248" y="232" width="8" height="8" fill="#ffd4ee" opacity="1.00"/>
<rect x="256" y="232" width="8" height="8" fill="#ffd4ee" opacity="0.78"/>
<rect x="296" y="232" width="8" height="8" fill="#ffd4ee" opacity="0.37"/>
<rect x="320" y="232" width="8" height="8" fill="#ffd4ee" opacity="0.57"/>
<rect x="328" y="232" width="8" height="8" fill="#ffd4ee" opacity="0.33"/>
<rect x="400" y="232" width="8" height="8" fill="#ffd4ee" opacity="0.57"/>
<rect x="408" y="232" width="8" height="8" fill="#ffd4ee" opacity="1.00"/>
<rect x="416" y="232" width="8" height="8" fill="#ffd4ee" opacity="1.00"/>
<rect x="424" y="232" width="8" height="8" fill="#ffd4ee" opacity="1.00"/>
<rect x="432" y="232" width="8" height="8" fill="#ffd4ee" opacity="1.00"/>
<rect x="440" y="232" width="8" height="8" fill="#ffd4ee" opacity="1.00"/>
<rect x="448" y="232" width="8" height="8" fill="#ffd4ee" opacity="1.00"/>
<rect x="456" y="232" width="8" height="8" fill="#ffd4ee" opacity="1.00"/>
<rect x="512" y="232" width="8" height="8" fill="#ffd4ee" opacity="0.40"/>
<rect x="544" y="232" width="8" height="8" fill="#ffd4ee" opacity="0.71"/>
<rect x="16" y="240" width="8" height="8" fill="#ffd4ee" opacity="0.44"/>
<rect x="24" y="240" width="8" height="8" fill="#ffd4ee" opacity="0.85"/>
<rect x="32" y="240" width="8" height="8" fill="#ffd4ee" opacity="0.85"/>
<rect x="40" y="240" width="8" height="8" fill="#ffd4ee" opacity="0.68"/>
<rect x="48" y="240" width="8" height="8" fill="#ffd4ee" opacity="0.37"/>
<rect x="56" y="240" width="8" height="8" fill="#ffd4ee" opacity="0.78"/>
<rect x="64" y="240" width="8" height="8" fill="#ffd4ee" opacity="0.37"/>
<rect x="96" y="240" width="8" height="8" fill="#ffd4ee" opacity="0.54"/>
<rect x="104" y="240" width="8" height="8" fill="#ffd4ee" opacity="0.37"/>
<rect x="112" y="240" width="8" height="8" fill="#ffd4ee" opacity="0.44"/>
<rect x="120" y="240" width="8" height="8" fill="#ffd4ee" opacity="0.51"/>
<rect x="128" y="240" width="8" height="8" fill="#ffd4ee" opacity="0.85"/>
<rect x="136" y="240" width="8" height="8" fill="#ffd4ee" opacity="0.85"/>
<rect x="144" y="240" width="8" height="8" fill="#ffd4ee" opacity="0.95"/>
<rect x="152" y="240" width="8" height="8" fill="#ffd4ee" opacity="1.00"/>
<rect x="160" y="240" width="8" height="8" fill="#ffd4ee" opacity="0.75"/>
<rect x="168" y="240" width="8" height="8" fill="#ffd4ee" opacity="0.40"/>
<rect x="200" y="240" width="8" height="8" fill="#ffd4ee" opacity="0.37"/>
<rect x="216" y="240" width="8" height="8" fill="#ffd4ee" opacity="0.99"/>
<rect x="224" y="240" width="8" height="8" fill="#ffd4ee" opacity="0.71"/>
<rect x="232" y="240" width="8" height="8" fill="#ffd4ee" opacity="1.00"/>
<rect x="240" y="240" width="8" height="8" fill="#ffd4ee" opacity="1.00"/>
<rect x="248" y="240" width="8" height="8" fill="#ffd4ee" opacity="1.00"/>
<rect x="256" y="240" width="8" height="8" fill="#ffd4ee" opacity="1.00"/>
<rect x="264" y="240" width="8" height="8" fill="#ffd4ee" opacity="1.00"/>
<rect x="272" y="240" width="8" height="8" fill="#ffd4ee" opacity="1.00"/>
<rect x="280" y="240" width="8" height="8" fill="#ffd4ee" opacity="0.95"/>
<rect x="288" y="240" width="8" height="8" fill="#ffd4ee" opacity="0.99"/>
<rect x="296" y="240" width="8" height="8" fill="#ffd4ee" opacity="1.00"/>
<rect x="304" y="240" width="8" height="8" fill="#ffd4ee" opacity="0.99"/>
<rect x="312" y="240" width="8" height="8" fill="#ffd4ee" opacity="1.00"/>
<rect x="320" y="240" width="8" height="8" fill="#ffd4ee" opacity="0.95"/>
<rect x="328" y="240" width="8" height="8" fill="#ffd4ee" opacity="1.00"/>
<rect x="336" y="240" width="8" height="8" fill="#ffd4ee" opacity="0.71"/>
<rect x="344" y="240" width="8" height="8" fill="#ffd4ee" opacity="0.75"/>
<rect x="352" y="240" width="8" height="8" fill="#ffd4ee" opacity="0.33"/>
<rect x="400" y="240" width="8" height="8" fill="#ffd4ee" opacity="0.71"/>
<rect x="408" y="240" width="8" height="8" fill="#ffd4ee" opacity="0.33"/>
<rect x="416" y="240" width="8" height="8" fill="#ffd4ee" opacity="0.57"/>
<rect x="424" y="240" width="8" height="8" fill="#ffd4ee" opacity="1.00"/>
<rect x="432" y="240" width="8" height="8" fill="#ffd4ee" opacity="1.00"/>
<rect x="440" y="240" width="8" height="8" fill="#ffd4ee" opacity="1.00"/>
<rect x="448" y="240" width="8" height="8" fill="#ffd4ee" opacity="1.00"/>
<rect x="456" y="240" width="8" height="8" fill="#ffd4ee" opacity="1.00"/>
<rect x="464" y="240" width="8" height="8" fill="#ffd4ee" opacity="1.00"/>
<rect x="472" y="240" width="8" height="8" fill="#ffd4ee" opacity="1.00"/>
<rect x="480" y="240" width="8" height="8" fill="#ffd4ee" opacity="1.00"/>
<rect x="488" y="240" width="8" height="8" fill="#ffd4ee" opacity="0.78"/>
<rect x="496" y="240" width="8" height="8" fill="#ffd4ee" opacity="1.00"/>
<rect x="504" y="240" width="8" height="8" fill="#ffd4ee" opacity="0.95"/>
<rect x="512" y="240" width="8" height="8" fill="#ffd4ee" opacity="1.00"/>
<rect x="520" y="240" width="8" height="8" fill="#ffd4ee" opacity="1.00"/>
<rect x="528" y="240" width="8" height="8" fill="#ffd4ee" opacity="0.99"/>
<rect x="536" y="240" width="8" height="8" fill="#ffd4ee" opacity="1.00"/>
<rect x="544" y="240" width="8" height="8" fill="#ffd4ee" opacity="1.00"/>
<rect x="8" y="248" width="8" height="8" fill="#ffd4ee" opacity="0.37"/>
<rect x="16" y="248" width="8" height="8" fill="#ffd4ee" opacity="0.71"/>
<rect x="24" y="248" width="8" height="8" fill="#ffd4ee" opacity="0.33"/>
<rect x="32" y="248" width="8" height="8" fill="#ffd4ee" opacity="0.75"/>
<rect x="144" y="248" width="8" height="8" fill="#ffd4ee" opacity="0.33"/>
<rect x="152" y="248" width="8" height="8" fill="#ffd4ee" opacity="0.47"/>
<rect x="200" y="248" width="8" height="8" fill="#ffd4ee" opacity="1.00"/>
<rect x="208" y="248" width="8" height="8" fill="#ffd4ee" opacity="1.00"/>
<rect x="216" y="248" width="8" height="8" fill="#ffd4ee" opacity="1.00"/>
<rect x="240" y="248" width="8" height="8" fill="#ffd4ee" opacity="0.51"/>
<rect x="248" y="248" width="8" height="8" fill="#ffd4ee" opacity="0.95"/>
<rect x="256" y="248" width="8" height="8" fill="#ffd4ee" opacity="1.00"/>
<rect x="264" y="248" width="8" height="8" fill="#ffd4ee" opacity="1.00"/>
<rect x="272" y="248" width="8" height="8" fill="#ffd4ee" opacity="1.00"/>
<rect x="280" y="248" width="8" height="8" fill="#ffd4ee" opacity="1.00"/>
<rect x="288" y="248" width="8" height="8" fill="#ffd4ee" opacity="1.00"/>
<rect x="296" y="248" width="8" height="8" fill="#ffd4ee" opacity="1.00"/>
<rect x="304" y="248" width="8" height="8" fill="#ffd4ee" opacity="1.00"/>
<rect x="312" y="248" width="8" height="8" fill="#ffd4ee" opacity="1.00"/>
<rect x="320" y="248" width="8" height="8" fill="#ffd4ee" opacity="1.00"/>
<rect x="328" y="248" width="8" height="8" fill="#ffd4ee" opacity="1.00"/>
<rect x="336" y="248" width="8" height="8" fill="#ffd4ee" opacity="1.00"/>
<rect x="344" y="248" width="8" height="8" fill="#ffd4ee" opacity="1.00"/>
<rect x="352" y="248" width="8" height="8" fill="#ffd4ee" opacity="1.00"/>
<rect x="392" y="248" width="8" height="8" fill="#ffd4ee" opacity="1.00"/>
<rect x="400" y="248" width="8" height="8" fill="#ffd4ee" opacity="1.00"/>
<rect x="432" y="248" width="8" height="8" fill="#ffd4ee" opacity="0.40"/>
<rect x="440" y="248" width="8" height="8" fill="#ffd4ee" opacity="0.95"/>
<rect x="448" y="248" width="8" height="8" fill="#ffd4ee" opacity="1.00"/>
<rect x="456" y="248" width="8" height="8" fill="#ffd4ee" opacity="1.00"/>
<rect x="464" y="248" width="8" height="8" fill="#ffd4ee" opacity="1.00"/>
<rect x="472" y="248" width="8" height="8" fill="#ffd4ee" opacity="1.00"/>
<rect x="480" y="248" width="8" height="8" fill="#ffd4ee" opacity="1.00"/>
<rect x="488" y="248" width="8" height="8" fill="#ffd4ee" opacity="1.00"/>
<rect x="496" y="248" width="8" height="8" fill="#ffd4ee" opacity="1.00"/>
<rect x="504" y="248" width="8" height="8" fill="#ffd4ee" opacity="1.00"/>
<rect x="512" y="248" width="8" height="8" fill="#ffd4ee" opacity="1.00"/>
<rect x="520" y="248" width="8" height="8" fill="#ffd4ee" opacity="1.00"/>
<rect x="528" y="248" width="8" height="8" fill="#ffd4ee" opacity="1.00"/>
<rect x="536" y="248" width="8" height="8" fill="#ffd4ee" opacity="1.00"/>
<rect x="544" y="248" width="8" height="8" fill="#ffd4ee" opacity="1.00"/>
<rect x="200" y="256" width="8" height="8" fill="#ffd4ee" opacity="0.71"/>
<rect x="208" y="256" width="8" height="8" fill="#ffd4ee" opacity="1.00"/>
<rect x="216" y="256" width="8" height="8" fill="#ffd4ee" opacity="0.40"/>
<rect x="280" y="256" width="8" height="8" fill="#ffd4ee" opacity="0.40"/>
<rect x="288" y="256" width="8" height="8" fill="#ffd4ee" opacity="0.47"/>
<rect x="296" y="256" width="8" height="8" fill="#ffd4ee" opacity="0.44"/>
<rect x="304" y="256" width="8" height="8" fill="#ffd4ee" opacity="0.51"/>
<rect x="312" y="256" width="8" height="8" fill="#ffd4ee" opacity="0.51"/>
<rect x="320" y="256" width="8" height="8" fill="#ffd4ee" opacity="0.57"/>
<rect x="328" y="256" width="8" height="8" fill="#ffd4ee" opacity="0.68"/>
<rect x="336" y="256" width="8" height="8" fill="#ffd4ee" opacity="0.68"/>
<rect x="344" y="256" width="8" height="8" fill="#ffd4ee" opacity="0.71"/>
<rect x="352" y="256" width="8" height="8" fill="#ffd4ee" opacity="0.71"/>
<rect x="392" y="256" width="8" height="8" fill="#ffd4ee" opacity="0.85"/>
<rect x="400" y="256" width="8" height="8" fill="#ffd4ee" opacity="0.78"/>
<rect x="480" y="256" width="8" height="8" fill="#ffd4ee" opacity="0.37"/>
<rect x="496" y="256" width="8" height="8" fill="#ffd4ee" opacity="0.37"/>
<rect x="504" y="256" width="8" height="8" fill="#ffd4ee" opacity="0.40"/>
<rect x="512" y="256" width="8" height="8" fill="#ffd4ee" opacity="0.33"/>
<rect x="520" y="256" width="8" height="8" fill="#ffd4ee" opacity="0.40"/>
<rect x="528" y="256" width="8" height="8" fill="#ffd4ee" opacity="0.47"/>
<rect x="536" y="256" width="8" height="8" fill="#ffd4ee" opacity="0.54"/>
<rect x="544" y="256" width="8" height="8" fill="#ffd4ee" opacity="0.35"/>
<rect x="464" y="296" width="8" height="8" fill="#ffd4ee" opacity="0.37"/>
<rect x="88" y="304" width="8" height="8" fill="#ffd4ee" opacity="1.00"/>
<rect x="264" y="304" width="8" height="8" fill="#ffd4ee" opacity="1.00"/>
<rect x="464" y="304" width="8" height="8" fill="#ffd4ee" opacity="1.00"/>
<rect x="472" y="304" width="8" height="8" fill="#ffd4ee" opacity="0.40"/>
<rect x="80" y="312" width="8" height="8" fill="#ffd4ee" opacity="0.64"/>
<rect x="88" y="312" width="8" height="8" fill="#ffd4ee" opacity="1.00"/>
<rect x="264" y="312" width="8" height="8" fill="#ffd4ee" opacity="1.00"/>
<rect x="464" y="312" width="8" height="8" fill="#ffd4ee" opacity="1.00"/>
<rect x="472" y="312" width="8" height="8" fill="#ffd4ee" opacity="0.57"/>
<rect x="480" y="312" width="8" height="8" fill="#ffd4ee" opacity="0.37"/>
<rect x="488" y="312" width="8" height="8" fill="#ffd4ee" opacity="0.54"/>
<rect x="72" y="320" width="8" height="8" fill="#ffd4ee" opacity="0.37"/>
<rect x="80" y="320" width="8" height="8" fill="#ffd4ee" opacity="1.00"/>
<rect x="88" y="320" width="8" height="8" fill="#ffd4ee" opacity="0.61"/>
<rect x="96" y="320" width="8" height="8" fill="#ffd4ee" opacity="0.61"/>
<rect x="104" y="320" width="8" height="8" fill="#ffd4ee" opacity="0.51"/>
<rect x="112" y="320" width="8" height="8" fill="#ffd4ee" opacity="0.33"/>
<rect x="120" y="320" width="8" height="8" fill="#ffd4ee" opacity="0.44"/>
<rect x="256" y="320" width="8" height="8" fill="#ffd4ee" opacity="0.88"/>
<rect x="264" y="320" width="8" height="8" fill="#ffd4ee" opacity="1.00"/>
<rect x="272" y="320" width="8" height="8" fill="#ffd4ee" opacity="0.33"/>
<rect x="464" y="320" width="8" height="8" fill="#ffd4ee" opacity="1.00"/>
<rect x="472" y="320" width="8" height="8" fill="#ffd4ee" opacity="0.85"/>
<rect x="480" y="320" width="8" height="8" fill="#ffd4ee" opacity="0.78"/>
<rect x="488" y="320" width="8" height="8" fill="#ffd4ee" opacity="1.00"/>
<rect x="496" y="320" width="8" height="8" fill="#ffd4ee" opacity="0.75"/>
<rect x="504" y="320" width="8" height="8" fill="#ffd4ee" opacity="0.33"/>
<rect x="72" y="328" width="8" height="8" fill="#ffd4ee" opacity="0.99"/>
<rect x="80" y="328" width="8" height="8" fill="#ffd4ee" opacity="0.40"/>
<rect x="96" y="328" width="8" height="8" fill="#ffd4ee" opacity="0.64"/>
<rect x="104" y="328" width="8" height="8" fill="#ffd4ee" opacity="0.92"/>
<rect x="112" y="328" width="8" height="8" fill="#ffd4ee" opacity="1.00"/>
<rect x="120" y="328" width="8" height="8" fill="#ffd4ee" opacity="0.78"/>
<rect x="128" y="328" width="8" height="8" fill="#ffd4ee" opacity="0.40"/>
<rect x="232" y="328" width="8" height="8" fill="#ffd4ee" opacity="0.57"/>
<rect x="240" y="328" width="8" height="8" fill="#ffd4ee" opacity="0.85"/>
<rect x="248" y="328" width="8" height="8" fill="#ffd4ee" opacity="0.82"/>
<rect x="256" y="328" width="8" height="8" fill="#ffd4ee" opacity="0.68"/>
<rect x="264" y="328" width="8" height="8" fill="#ffd4ee" opacity="0.64"/>
<rect x="272" y="328" width="8" height="8" fill="#ffd4ee" opacity="1.00"/>
<rect x="464" y="328" width="8" height="8" fill="#ffd4ee" opacity="0.57"/>
<rect x="472" y="328" width="8" height="8" fill="#ffd4ee" opacity="0.78"/>
<rect x="480" y="328" width="8" height="8" fill="#ffd4ee" opacity="0.68"/>
<rect x="496" y="328" width="8" height="8" fill="#ffd4ee" opacity="0.54"/>
<rect x="504" y="328" width="8" height="8" fill="#ffd4ee" opacity="0.95"/>
<rect x="512" y="328" width="8" height="8" fill="#ffd4ee" opacity="0.88"/>
<rect x="520" y="328" width="8" height="8" fill="#ffd4ee" opacity="0.51"/>
<rect x="64" y="336" width="8" height="8" fill="#ffd4ee" opacity="0.61"/>
<rect x="72" y="336" width="8" height="8" fill="#ffd4ee" opacity="0.88"/>
<rect x="96" y="336" width="8" height="8" fill="#ffd4ee" opacity="0.57"/>
<rect x="104" y="336" width="8" height="8" fill="#ffd4ee" opacity="0.47"/>
<rect x="128" y="336" width="8" height="8" fill="#ffd4ee" opacity="0.68"/>
<rect x="136" y="336" width="8" height="8" fill="#ffd4ee" opacity="0.82"/>
<rect x="144" y="336" width="8" height="8" fill="#ffd4ee" opacity="0.61"/>
<rect x="224" y="336" width="8" height="8" fill="#ffd4ee" opacity="0.47"/>
<rect x="232" y="336" width="8" height="8" fill="#ffd4ee" opacity="0.61"/>
<rect x="240" y="336" width="8" height="8" fill="#ffd4ee" opacity="0.47"/>
<rect x="248" y="336" width="8" height="8" fill="#ffd4ee" opacity="0.57"/>
<rect x="256" y="336" width="8" height="8" fill="#ffd4ee" opacity="0.78"/>
<rect x="272" y="336" width="8" height="8" fill="#ffd4ee" opacity="0.57"/>
<rect x="280" y="336" width="8" height="8" fill="#ffd4ee" opacity="0.88"/>
<rect x="440" y="336" width="8" height="8" fill="#ffd4ee" opacity="0.75"/>
<rect x="448" y="336" width="8" height="8" fill="#ffd4ee" opacity="0.57"/>
<rect x="456" y="336" width="8" height="8" fill="#ffd4ee" opacity="0.95"/>
<rect x="464" y="336" width="8" height="8" fill="#ffd4ee" opacity="0.54"/>
<rect x="472" y="336" width="8" height="8" fill="#ffd4ee" opacity="0.44"/>
<rect x="480" y="336" width="8" height="8" fill="#ffd4ee" opacity="0.54"/>
<rect x="504" y="336" width="8" height="8" fill="#ffd4ee" opacity="0.44"/>
<rect x="520" y="336" width="8" height="8" fill="#ffd4ee" opacity="0.71"/>
<rect x="528" y="336" width="8" height="8" fill="#ffd4ee" opacity="0.37"/>
<rect x="536" y="336" width="8" height="8" fill="#ffd4ee" opacity="0.37"/>
<rect x="544" y="336" width="8" height="8" fill="#ffd4ee" opacity="0.48"/>
<rect x="8" y="344" width="8" height="8" fill="#ffd4ee" opacity="0.33"/>
<rect x="16" y="344" width="8" height="8" fill="#ffd4ee" opacity="0.85"/>
<rect x="24" y="344" width="8" height="8" fill="#ffd4ee" opacity="0.71"/>
<rect x="32" y="344" width="8" height="8" fill="#ffd4ee" opacity="0.64"/>
<rect x="40" y="344" width="8" height="8" fill="#ffd4ee" opacity="0.64"/>
<rect x="48" y="344" width="8" height="8" fill="#ffd4ee" opacity="0.85"/>
<rect x="56" y="344" width="8" height="8" fill="#ffd4ee" opacity="0.75"/>
<rect x="64" y="344" width="8" height="8" fill="#ffd4ee" opacity="0.64"/>
<rect x="72" y="344" width="8" height="8" fill="#ffd4ee" opacity="0.40"/>
<rect x="144" y="344" width="8" height="8" fill="#ffd4ee" opacity="0.54"/>
<rect x="152" y="344" width="8" height="8" fill="#ffd4ee" opacity="0.68"/>
<rect x="160" y="344" width="8" height="8" fill="#ffd4ee" opacity="0.88"/>
<rect x="168" y="344" width="8" height="8" fill="#ffd4ee" opacity="0.37"/>
<rect x="200" y="344" width="8" height="8" fill="#ffd4ee" opacity="0.47"/>
<rect x="208" y="344" width="8" height="8" fill="#ffd4ee" opacity="0.78"/>
<rect x="216" y="344" width="8" height="8" fill="#ffd4ee" opacity="0.82"/>
<rect x="224" y="344" width="8" height="8" fill="#ffd4ee" opacity="0.64"/>
<rect x="280" y="344" width="8" height="8" fill="#ffd4ee" opacity="0.71"/>
<rect x="288" y="344" width="8" height="8" fill="#ffd4ee" opacity="0.71"/>
<rect x="296" y="344" width="8" height="8" fill="#ffd4ee" opacity="0.78"/>
<rect x="304" y="344" width="8" height="8" fill="#ffd4ee" opacity="0.78"/>
<rect x="312" y="344" width="8" height="8" fill="#ffd4ee" opacity="0.71"/>
<rect x="320" y="344" width="8" height="8" fill="#ffd4ee" opacity="0.40"/>
<rect x="328" y="344" width="8" height="8" fill="#ffd4ee" opacity="0.61"/>
<rect x="336" y="344" width="8" height="8" fill="#ffd4ee" opacity="0.64"/>
<rect x="344" y="344" width="8" height="8" fill="#ffd4ee" opacity="0.78"/>
<rect x="352" y="344" width="8" height="8" fill="#ffd4ee" opacity="0.64"/>
<rect x="392" y="344" width="8" height="8" fill="#ffd4ee" opacity="0.75"/>
<rect x="400" y="344" width="8" height="8" fill="#ffd4ee" opacity="0.75"/>
<rect x="408" y="344" width="8" height="8" fill="#ffd4ee" opacity="0.82"/>
<rect x="416" y="344" width="8" height="8" fill="#ffd4ee" opacity="0.71"/>
<rect x="424" y="344" width="8" height="8" fill="#ffd4ee" opacity="0.82"/>
<rect x="432" y="344" width="8" height="8" fill="#ffd4ee" opacity="0.75"/>
<rect x="440" y="344" width="8" height="8" fill="#ffd4ee" opacity="0.61"/>
<rect x="448" y="344" width="8" height="8" fill="#ffd4ee" opacity="0.78"/>
<rect x="456" y="344" width="8" height="8" fill="#ffd4ee" opacity="0.37"/>
<rect x="528" y="344" width="8" height="8" fill="#ffd4ee" opacity="0.54"/>
<rect x="536" y="344" width="8" height="8" fill="#ffd4ee" opacity="0.64"/>
<rect x="24" y="352" width="8" height="8" fill="#ffd4ee" opacity="0.33"/>
<rect x="32" y="352" width="8" height="8" fill="#ffd4ee" opacity="0.33"/>
<rect x="200" y="352" width="8" height="8" fill="#ffd4ee" opacity="0.33"/>
<rect x="312" y="352" width="8" height="8" fill="#ffd4ee" opacity="0.33"/>
<rect x="320" y="352" width="8" height="8" fill="#ffd4ee" opacity="0.57"/>
<rect x="328" y="352" width="8" height="8" fill="#ffd4ee" opacity="0.37"/>
<rect x="336" y="352" width="8" height="8" fill="#ffd4ee" opacity="0.44"/>

<text x="92.75" y="8.3" font-size="6.3" text-anchor="middle" fill="#1a1a1a" stroke="#1a1a1a" stroke-width="0.08" font-family="Liberation Sans, sans-serif">ADA</text>
<path d="M15 18 H170.5" stroke="#3c3c3c" stroke-width="1"/>
<path d="M15 73.4 H170.5" stroke="#5e5e5e" stroke-width="1"/>
<path d="M15.5 17.5 V73.9" stroke="#5e5e5e" stroke-width="1"/>
<path d="M170 17.5 V73.9" stroke="#3c3c3c" stroke-width="1"/>
<path d="M12.9 73.4 H15.5" stroke="#4a4a4a" stroke-width="1"/>
<text x="11.6" y="74.9" font-size="5.6" text-anchor="end" fill="#2a2a2a" stroke="#2a2a2a" stroke-width="0.12" textLength="2.25" lengthAdjust="spacingAndGlyphs" font-family="Liberation Sans, sans-serif">0</text>
<path d="M12.9 54.93 H15.5" stroke="#4a4a4a" stroke-width="1"/>
<text x="11.6" y="56.43" font-size="5.6" text-anchor="end" fill="#2a2a2a" stroke="#2a2a2a" stroke-width="0.12" textLength="2.25" lengthAdjust="spacingAndGlyphs" font-family="Liberation Sans, sans-serif">1</text>
<path d="M12.9 36.47 H15.5" stroke="#4a4a4a" stroke-width="1"/>
<text x="11.6" y="37.97" font-size="5.6" text-anchor="end" fill="#2a2a2a" stroke="#2a2a2a" stroke-width="0.12" textLength="2.25" lengthAdjust="spacingAndGlyphs" font-family="Liberation Sans, sans-serif">2</text>
<path d="M12.9 18 H15.5" stroke="#4a4a4a" stroke-width="1"/>
<text x="11.6" y="19.5" font-size="5.6" text-anchor="end" fill="#2a2a2a" stroke="#2a2a2a" stroke-width="0.12" textLength="2.25" lengthAdjust="spacingAndGlyphs" font-family="Liberation Sans, sans-serif">3</text>
<path d="M19.5 73.4 V76.4 M24.04 73.4 V75 M28.58 73.4 V75 M33.12 73.4 V75 M37.66 73.4 V75 M42.2 73.4 V75 M46.74 73.4 V75 M51.28 73.4 V75 M55.82 73.4 V75 M60.36 73.4 V75 M64.9 73.4 V75 M69.44 73.4 V75 M73.98 73.4 V76.4 M78.52 73.4 V75 M83.06 73.4 V75 M87.6 73.4 V75 M92.14 73.4 V75 M96.68 73.4 V75 M101.22 73.4 V75 M105.76 73.4 V75 M110.3 73.4 V75 M114.84 73.4 V75 M119.38 73.4 V75 M123.92 73.4 V75 M128.46 73.4 V76.4 M133 73.4 V75 M137.54 73.4 V75 M142.08 73.4 V75 M146.62 73.4 V75 M151.16 73.4 V75 M155.7 73.4 V75 M160.24 73.4 V75 M164.78 73.4 V75 M169.32 73.4 V75" stroke="#444" stroke-width="0.9"/>
<text x="47.8" y="82.3" font-size="5.6" text-anchor="middle" fill="#2a2a2a" stroke="#2a2a2a" stroke-width="0.12" textLength="9.6" lengthAdjust="spacingAndGlyphs" font-family="Liberation Sans, sans-serif">2020</text>
<text x="102.1" y="82.3" font-size="5.6" text-anchor="middle" fill="#2a2a2a" stroke="#2a2a2a" stroke-width="0.12" textLength="9.6" lengthAdjust="spacingAndGlyphs" font-family="Liberation Sans, sans-serif">2021</text>
<text x="152.1" y="82.3" font-size="5.6" text-anchor="middle" fill="#2a2a2a" stroke="#2a2a2a" stroke-width="0.12" textLength="9.6" lengthAdjust="spacingAndGlyphs" font-family="Liberation Sans, sans-serif">2022</text>
<path d="M15.5 73 L16.22 73.1 L16.94 72.83 L17.67 73.07 L18.39 72.41 L19.11 73.42 L19.83 73.42 L20.56 73.11 L21.28 72.24 L22 72.8 L22.76 72.82 L23.53 72.47 L24.29 72.32 L25.05 73.5 L25.82 73.55 L26.58 71.92 L27.35 73.29 L28.11 72.83 L28.87 72.44 L29.64 72.25 L30.4 72.6 L31.15 72.9 L31.89 72.53 L32.64 72.92 L33.38 72.88 L34.13 71.98 L34.87 73.06 L35.62 73.42 L36.36 73.4 L37.11 72.79 L37.85 71.83 L38.6 72.6 L39.35 71.65 L40.09 71.76 L40.84 73.02 L41.58 71.83 L42.33 71.83 L43.07 72.62 L43.82 71.52 L44.56 71.81 L45.31 71.51 L46.05 70.77 L46.8 71.4 L47.5 71.4 L48.2 71.7 L48.9 70.39 L49.6 70.36 L50.3 70.54 L51 69.76 L51.7 70.4 L52.4 70.49 L53.1 71.14 L53.8 70.97 L54.5 70.86 L55.2 71.5 L55.9 70.4 L56.6 71.1 L57.33 71.18 L58.07 70.82 L58.8 71.17 L59.53 70.31 L60.27 71.4 L61 70.21 L61.73 70.3 L62.47 71.36 L63.2 70.8 L63.92 71.48 L64.64 70.53 L65.37 70.42 L66.09 70.06 L66.81 70.03 L67.53 70.53 L68.26 69.71 L68.98 69.53 L69.7 70.1 L70.41 69.84 L71.13 69.16 L71.84 69.8 L72.56 69.9 L73.27 69.64 L73.99 68.95 L74.7 68.8 L75.5 67.97 L76.3 67.56 L77.1 67.1 L77.95 65.31 L78.8 65.2 L79.6 61.46 L80.4 57 L81.2 53.81 L82 51.2 L82.85 50.09 L83.7 49.6 L84.5 52.9 L85.3 50.54 L86.1 49.6 L86.95 51.16 L87.8 52.9 L88.6 50.99 L89.4 48.8 L90.2 49.41 L91 50.4 L91.85 49.83 L92.7 48 L93.35 45.79 L94 43 L94.9 31.1 L95.7 40.6 L96.6 48 L97.4 40.6 L98.5 44.7 L99.5 47.1 L100.1 48.71 L100.7 51.2 L101.8 47.1 L102.45 47.99 L103.1 48.8 L103.75 51.95 L104.4 53.7 L105 51.68 L105.6 49.6 L106.4 48.12 L107.2 46.3 L107.8 38.61 L108.4 32.4 L109.3 20.9 L110 17.8 L111 19.3 L111.8 25.8 L112.4 27.83 L113 29.9 L114.1 35.7 L114.9 31.6 L115.55 31.93 L116.2 32.4 L117.05 32.63 L117.9 33.2 L118.55 34.31 L119.2 35.7 L120.3 37.3 L121.1 31.6 L122 37.3 L122.8 40.29 L123.6 43 L124.4 45.57 L125.2 48 L125.8 49.58 L126.4 51.2 L127.05 49.43 L127.7 48.8 L128.35 47.45 L129 46.3 L129.6 49.15 L130.2 50.4 L131.3 44.7 L132.3 51.2 L133.1 51.91 L133.9 52.9 L134.75 52.11 L135.6 52.9 L136.23 53.42 L136.87 55.69 L137.5 57 L138.35 57.04 L139.2 58.6 L140 57.11 L140.8 57 L141.45 53.43 L142.1 51.2 L142.7 51.97 L143.3 52.9 L144.1 55.37 L144.9 56.14 L145.7 57.8 L146.55 58.98 L147.4 60.3 L148.05 62.24 L148.7 64.4 L149.5 63.95 L150.3 63.5 L151.15 63.01 L152 62.7 L153.1 64.9 L153.93 65.38 L154.77 65.78 L155.6 65.2 L156.43 65.46 L157.25 64.92 L158.07 65.23 L158.9 64.9 L159.7 65.35 L160.5 63.81 L161.3 63.7 L162.1 63.9 L162.93 64.54 L163.77 65.08 L164.6 65.2 L165.4 65.28 L166.2 65.02 L167 64.7 L167.83 65.53 L168.67 65.2 L169.5 65.5" fill="none" stroke="#7e3219" stroke-width="1.55" stroke-linejoin="round" stroke-linecap="round" />
<path d="M83.7 49.6 L84.5 52.9 L85.3 50.54 L86.1 49.6 L86.95 51.16 L87.8 52.9 L88.6 50.99 L89.4 48.8 L90.2 49.41 L91 50.4 L91.85 49.83 L92.7 48 L93.35 45.79" fill="none" stroke="#d81410" stroke-width="1.05" stroke-linejoin="round" stroke-linecap="round" />
<path d="M94.9 31.1 L95.7 40.6" fill="none" stroke="#d81410" stroke-width="1.05" stroke-linejoin="round" stroke-linecap="round" />
<text x="281.25" y="8.3" font-size="6.3" text-anchor="middle" fill="#1a1a1a" stroke="#1a1a1a" stroke-width="0.08" font-family="Liberation Sans, sans-serif">CNEPU</text>
<path d="M203.5 18 H359" stroke="#3c3c3c" stroke-width="1"/>
<path d="M203.5 73.4 H359" stroke="#5e5e5e" stroke-width="1"/>
<path d="M204 17.5 V73.9" stroke="#3c3c3c" stroke-width="1"/>
<path d="M358.5 17.5 V73.9" stroke="#5e5e5e" stroke-width="1"/>
<path d="M201.4 73.4 H204" stroke="#4a4a4a" stroke-width="1"/>
<text x="200.1" y="74.9" font-size="5.6" text-anchor="end" fill="#2a2a2a" stroke="#2a2a2a" stroke-width="0.12" textLength="2.25" lengthAdjust="spacingAndGlyphs" font-family="Liberation Sans, sans-serif">0</text>
<path d="M201.4 54.93 H204" stroke="#4a4a4a" stroke-width="1"/>
<text x="200.1" y="56.43" font-size="5.6" text-anchor="end" fill="#2a2a2a" stroke="#2a2a2a" stroke-width="0.12" textLength="6.75" lengthAdjust="spacingAndGlyphs" font-family="Liberation Sans, sans-serif">400</text>
<path d="M201.4 36.47 H204" stroke="#4a4a4a" stroke-width="1"/>
<text x="200.1" y="37.97" font-size="5.6" text-anchor="end" fill="#2a2a2a" stroke="#2a2a2a" stroke-width="0.12" textLength="6.75" lengthAdjust="spacingAndGlyphs" font-family="Liberation Sans, sans-serif">800</text>
<path d="M201.4 18 H204" stroke="#4a4a4a" stroke-width="1"/>
<text x="200.1" y="19.5" font-size="5.6" text-anchor="end" fill="#2a2a2a" stroke="#2a2a2a" stroke-width="0.12" textLength="9" lengthAdjust="spacingAndGlyphs" font-family="Liberation Sans, sans-serif">1200</text>
<path d="M208 73.4 V76.4 M212.54 73.4 V75 M217.08 73.4 V75 M221.62 73.4 V75 M226.16 73.4 V75 M230.7 73.4 V75 M235.24 73.4 V75 M239.78 73.4 V75 M244.32 73.4 V75 M248.86 73.4 V75 M253.4 73.4 V75 M257.94 73.4 V75 M262.48 73.4 V76.4 M267.02 73.4 V75 M271.56 73.4 V75 M276.1 73.4 V75 M280.64 73.4 V75 M285.18 73.4 V75 M289.72 73.4 V75 M294.26 73.4 V75 M298.8 73.4 V75 M303.34 73.4 V75 M307.88 73.4 V75 M312.42 73.4 V75 M316.96 73.4 V76.4 M321.5 73.4 V75 M326.04 73.4 V75 M330.58 73.4 V75 M335.12 73.4 V75 M339.66 73.4 V75 M344.2 73.4 V75 M348.74 73.4 V75 M353.28 73.4 V75 M357.82 73.4 V75" stroke="#444" stroke-width="0.9"/>
<text x="236.3" y="82.3" font-size="5.6" text-anchor="middle" fill="#2a2a2a" stroke="#2a2a2a" stroke-width="0.12" textLength="9.6" lengthAdjust="spacingAndGlyphs" font-family="Liberation Sans, sans-serif">2020</text>
<text x="290.6" y="82.3" font-size="5.6" text-anchor="middle" fill="#2a2a2a" stroke="#2a2a2a" stroke-width="0.12" textLength="9.6" lengthAdjust="spacingAndGlyphs" font-family="Liberation Sans, sans-serif">2021</text>
<text x="340.6" y="82.3" font-size="5.6" text-anchor="middle" fill="#2a2a2a" stroke="#2a2a2a" stroke-width="0.12" textLength="9.6" lengthAdjust="spacingAndGlyphs" font-family="Liberation Sans, sans-serif">2022</text>
<path d="M204.5 66.73 L205 67.16 L205.5 66.67 L206 66.63 L206.5 65.77 L207 66.45 L207.5 66.16 L208 65.54 L208.5 65.02 L209 65.73 L209.5 64.27 L210 65.31 L210.5 64.3 L211 64.04 L211.5 64.61 L212 64.32 L212.5 64.3 L213 64.4 L213.5 65.17 L214 64.89 L214.5 65.38 L215 64.16 L215.5 65 L216 65.3 L216.5 65.15 L217 64.41 L217.5 65.22 L218 64.69 L218.5 64.03 L219 65.1 L219.5 64.23 L220 64.97 L220.5 64.51 L221 64.69 L221.5 64.71 L222 64.66 L222.5 64.04 L223 65.35 L223.5 64.53 L224 64.68 L224.5 65.05 L225 65.18 L225.5 64.69 L226 64.78 L226.5 64.35 L227 65.31 L227.5 65.07 L228 65.21 L228.5 65.1 L229 64.75 L229.5 64.04 L230 64.76 L230.5 64.67 L231 64.46 L231.5 64.72 L232 64.82 L232.5 64 L233 64.21 L233.5 65.16 L234 65.07 L234.5 64.32 L235 64.9 L235.5 63.98 L236 65.01 L236.5 64.11 L237 64.44 L237.5 64.18 L238 64.19 L238.5 64.95 L239 64.4 L239.5 63.98 L240 64.54 L240.5 64.1 L241 64.66 L241.5 64.79 L242 63.97 L242.5 64.15 L243 64.17 L243.5 64.89 L244 64.25 L244.5 65.06 L245 64.25 L245.5 64.49 L246 64.39 L246.5 64.02 L247 65.29 L247.5 64.36 L248 64.37 L248.5 64.97 L249 64.29 L249.5 65.16 L250 65.08 L250.5 64.73 L251 65.14 L251.5 64.91 L252 64.46 L252.5 64.21 L253 64.53 L253.5 64.07 L254 64.34 L254.5 64.38 L255 65.18 L255.5 64.2 L256 65.3 L256.5 64.39 L257 64.86 L257.5 65.22 L258 65.15 L258.5 64.59 L259 64.24 L259.5 64.03 L260 65.19 L260.5 64.98 L261 65.09 L261.5 64.39 L262 65.12 L262.5 65.25 L263 64.1 L263.5 64.05 L264 64.01 L264.5 65.01 L265 64.38 L265.5 65 L266 64.7 L266.5 64.02 L267 65.15 L267.5 65.2 L268 64.29 L268.5 65.06 L269 64.84 L269.5 64.06 L270 63.95 L270.5 65.28 L271 64.06 L271.5 64.23 L272 64.04 L272.5 64.42 L273 65.16 L273.5 64.25 L274 64.03 L274.5 63.94 L275 65.26 L275.5 64.72 L276 64.32 L276.5 65.16 L277 65.24 L277.5 64.18 L278 65.25 L278.5 64.85 L279 64.24 L279.5 64.31 L280 63.99 L280.5 65.26 L281 64.79 L281.5 65.19 L282 64.31 L282.5 64.32 L283 65.13 L283.5 64.34 L284 64.68 L284.5 64.21 L285 64.21 L285.5 64.64 L286 63.97 L286.5 64.28 L287 64.56 L287.5 64.08 L288 64.98 L288.5 65.19 L289 64.95 L289.5 65.01 L290 64.01 L290.5 65.15 L291 65.11 L291.5 65.13 L292 64.3 L292.5 64.98 L293 65.03 L293.5 64.82 L294 64.46 L294.5 64.86 L295 64.21 L295.5 65.2 L296 64.62 L296.5 65.04 L297 64.4 L297.5 64.21 L298 64.75 L298.5 64.65 L299 64.34 L299.5 64.02 L300 65.01 L300.5 64.41 L301 64.17 L301.5 64.58 L302 64.75 L302.5 64.8 L303 64.17 L303.5 64.51 L304 64.42 L304.5 65.11 L305 64.22 L305.5 63.9 L306 64.55 L306.5 64.06 L307 65.07 L307.5 64.8 L308 64.35 L308.5 64.86 L309 65.03 L309.5 65.17 L310 64.07 L310.5 64.13 L311 64.89 L311.5 64.78 L312 64.31 L312.5 64.05 L313 63.88 L313.5 64.95 L314 64.2 L314.5 65.16 L315 64.91 L315.5 64.74 L316 64.44 L316.5 65.18 L317 64.94 L317.5 64.05 L318 63.99 L318.5 65.16 L319 64.65 L319.5 63.98 L320 64.16 L320.5 63.82 L321 64.42 L321.5 64.69 L322 64.98 L322.5 64.2 L323 64.19 L323.5 64.16 L324 64.91 L324.5 65.17 L325 64.49 L325.5 64.88 L326 64.34 L326.5 62.3 L327 60.67 L327.5 60.26 L328 59.57 L328.5 57.69 L329 59.13 L329.5 59.87 L330 60.74 L330.5 59.45 L331 58.09 L331.5 57.6 L332 58.19 L332.5 59.03 L333 59.51 L333.5 59.84 L334 59.66 L334.5 59.38 L335 58.67 L335.5 59.29 L336 59.43 L336.5 60.62 L337 61 L337.5 62.14 L338 63.27 L338.5 64.62 L339 65.06 L339.5 64.49 L340 64.7 L340.5 64.68 L341 64.68 L341.5 65.11 L342 64.98 L342.5 64.94 L343 62.39 L343.5 60.99 L344 60.1 L344.5 59.83 L345 58.65 L345.5 58.21 L346 57.59 L346.5 57.42 L347 58.04 L347.5 59.13 L348 59.96 L348.5 58.79 L349 59.24 L349.5 57.6 L350 59.07 L350.5 59.88 L351 60.24 L351.5 62.27 L352 62.91 L352.5 64.12 L353 64.04 L353.5 65.01 L354 64.11 L354.5 64.79 L355 63.84 L355.5 64.67 L356 64.4 L356.5 64.9 L357 64.68 L357.5 65.16 L357.5 71.17 L357 71.54 L356.5 71.52 L356 70.32 L355.5 71.38 L355 69.82 L354.5 70.03 L354 69.56 L353.5 71.36 L353 70.23 L352.5 70.91 L352 70.78 L351.5 70.14 L351 70.66 L350.5 70.41 L350 71.3 L349.5 70.08 L349 71.44 L348.5 71.51 L348 70.79 L347.5 71.24 L347 69.63 L346.5 71.6 L346 71.32 L345.5 70.38 L345 71.6 L344.5 71.08 L344 71.55 L343.5 69.92 L343 71.45 L342.5 70.79 L342 70.3 L341.5 70.25 L341 70.72 L340.5 71.24 L340 70.67 L339.5 70.38 L339 70.37 L338.5 70.42 L338 69.97 L337.5 71.2 L337 71.6 L336.5 70.98 L336 71.54 L335.5 69.45 L335 71.23 L334.5 71.13 L334 71.03 L333.5 69.89 L333 71.43 L332.5 71.51 L332 70.68 L331.5 70.57 L331 71.25 L330.5 71.16 L330 71.6 L329.5 71.32 L329 71.39 L328.5 71.05 L328 69.51 L327.5 69.55 L327 70.37 L326.5 70.17 L326 71.42 L325.5 70.88 L325 69.99 L324.5 70.95 L324 70.16 L323.5 70.57 L323 70.85 L322.5 70.95 L322 71.51 L321.5 70.79 L321 71.6 L320.5 71.52 L320 70.36 L319.5 71.41 L319 71.23 L318.5 71.57 L318 69.78 L317.5 71.37 L317 71.19 L316.5 71.28 L316 69.72 L315.5 70.52 L315 70.04 L314.5 71.56 L314 69.77 L313.5 70.73 L313 69.48 L312.5 70.43 L312 71.02 L311.5 70.47 L311 71.59 L310.5 70.89 L310 71.46 L309.5 70.88 L309 69.83 L308.5 70.82 L308 70.52 L307.5 70.01 L307 71.39 L306.5 70.31 L306 69.91 L305.5 71.59 L305 70.68 L304.5 69.75 L304 70.91 L303.5 71.49 L303 71.06 L302.5 70.42 L302 71.18 L301.5 71.05 L301 71.6 L300.5 70.77 L300 71.25 L299.5 71.45 L299 71.56 L298.5 71.59 L298 71.22 L297.5 71.6 L297 71.35 L296.5 71.15 L296 70.96 L295.5 70.16 L295 71.59 L294.5 70.62 L294 71.55 L293.5 71.53 L293 70.38 L292.5 69.79 L292 69.81 L291.5 71.6 L291 71.56 L290.5 71.41 L290 71.02 L289.5 71.38 L289 69.47 L288.5 71.53 L288 71.59 L287.5 71.05 L287 69.96 L286.5 70.22 L286 70.71 L285.5 71.59 L285 71.59 L284.5 71.6 L284 70.82 L283.5 70.95 L283 71.4 L282.5 70.02 L282 71.36 L281.5 71.26 L281 70.69 L280.5 71.16 L280 71.43 L279.5 71.47 L279 70.95 L278.5 70.64 L278 70.95 L277.5 70.76 L277 71.57 L276.5 69.53 L276 71.59 L275.5 71.15 L275 71.41 L274.5 71.6 L274 70.66 L273.5 71.1 L273 71.41 L272.5 69.53 L272 69.78 L271.5 70.38 L271 71.54 L270.5 71.21 L270 71.47 L269.5 69.88 L269 71.58 L268.5 71.6 L268 70.24 L267.5 71.14 L267 70.9 L266.5 71.44 L266 71.49 L265.5 71.29 L265 70.77 L264.5 70.09 L264 69.95 L263.5 71.6 L263 70.93 L262.5 69.87 L262 70.8 L261.5 71.41 L261 71.3 L260.5 70.81 L260 71.5 L259.5 71.54 L259 70.44 L258.5 69.46 L258 70.56 L257.5 71.34 L257 70.06 L256.5 71.5 L256 70.25 L255.5 71.36 L255 71.6 L254.5 69.93 L254 71.05 L253.5 70.62 L253 71.52 L252.5 70.6 L252 71.34 L251.5 71.03 L251 69.51 L250.5 71.54 L250 69.56 L249.5 71.6 L249 71.6 L248.5 71.22 L248 69.66 L247.5 69.98 L247 69.91 L246.5 71.4 L246 70.72 L245.5 70.87 L245 70.67 L244.5 71.01 L244 69.51 L243.5 70.95 L243 70.51 L242.5 70.46 L242 71.6 L241.5 70.13 L241 71.5 L240.5 69.82 L240 71.52 L239.5 71.27 L239 71.11 L238.5 71.15 L238 71.44 L237.5 70.99 L237 71.59 L236.5 70.74 L236 71.46 L235.5 71.6 L235 71.58 L234.5 70.04 L234 70.13 L233.5 70.2 L233 70.85 L232.5 71.48 L232 71.14 L231.5 70.74 L231 71.34 L230.5 71.08 L230 71.51 L229.5 69.93 L229 71.2 L228.5 71.01 L228 70.39 L227.5 70.12 L227 71.6 L226.5 70.94 L226 71.14 L225.5 69.6 L225 71.48 L224.5 70.96 L224 69.48 L223.5 71.54 L223 70.83 L222.5 70.51 L222 71.6 L221.5 71.26 L221 70.27 L220.5 71.18 L220 70.6 L219.5 70.94 L219 71.22 L218.5 71.47 L218 70.84 L217.5 70.02 L217 70.84 L216.5 70.61 L216 71.21 L215.5 70.49 L215 71.36 L214.5 69.97 L214 71.52 L213.5 70.92 L213 71.6 L212.5 71.14 L212 71.48 L211.5 71.06 L211 71.49 L210.5 71.21 L210 71.28 L209.5 70.96 L209 71.6 L208.5 69.75 L208 70.56 L207.5 71.6 L207 71.25 L206.5 71.6 L206 70.53 L205.5 71.27 L205 71.5 L204.5 70.52Z" fill="#ee1010" stroke="#ee1010" stroke-width="0.4"/>
<path d="M204.61 67.67 L205.41 64.05 L206.21 67.67 Z" fill="#7e3219" stroke="#7e3219" stroke-width="0.5"/>
<path d="M209.6 65.5 L210.4 61.95 L211.2 65.5 Z" fill="#7e3219" stroke="#7e3219" stroke-width="0.5"/>
<path d="M211.15 65.5 L211.95 61.74 L212.75 65.5 Z" fill="#7e3219" stroke="#7e3219" stroke-width="0.5"/>
<path d="M212.48 65.49 L213.28 61.93 L214.08 65.49 Z" fill="#7e3219" stroke="#7e3219" stroke-width="0.5"/>
<path d="M220.77 65.48 L221.57 60.82 L222.37 65.48 Z" fill="#7e3219" stroke="#7e3219" stroke-width="0.5"/>
<path d="M224.22 65.47 L225.02 61.32 L225.82 65.47 Z" fill="#7e3219" stroke="#7e3219" stroke-width="0.5"/>
<path d="M226.86 65.47 L227.66 62.47 L228.46 65.47 Z" fill="#7e3219" stroke="#7e3219" stroke-width="0.5"/>
<path d="M228.38 65.47 L229.18 61.16 L229.98 65.47 Z" fill="#7e3219" stroke="#7e3219" stroke-width="0.5"/>
<path d="M229.49 65.47 L230.29 62.05 L231.09 65.47 Z" fill="#7e3219" stroke="#7e3219" stroke-width="0.5"/>
<path d="M242.03 65.44 L242.83 60.63 L243.63 65.44 Z" fill="#7e3219" stroke="#7e3219" stroke-width="0.5"/>
<path d="M247.05 65.43 L247.85 60.99 L248.65 65.43 Z" fill="#7e3219" stroke="#7e3219" stroke-width="0.5"/>
<path d="M250.47 65.43 L251.27 60.55 L252.07 65.43 Z" fill="#7e3219" stroke="#7e3219" stroke-width="0.5"/>
<path d="M252.09 65.43 L252.89 60.83 L253.69 65.43 Z" fill="#7e3219" stroke="#7e3219" stroke-width="0.5"/>
<path d="M258.07 65.42 L258.87 62.15 L259.67 65.42 Z" fill="#7e3219" stroke="#7e3219" stroke-width="0.5"/>
<path d="M262.61 65.41 L263.41 60.62 L264.21 65.41 Z" fill="#7e3219" stroke="#7e3219" stroke-width="0.5"/>
<path d="M270.49 65.39 L271.29 61.68 L272.09 65.39 Z" fill="#7e3219" stroke="#7e3219" stroke-width="0.5"/>
<path d="M272.63 65.39 L273.43 61.03 L274.23 65.39 Z" fill="#7e3219" stroke="#7e3219" stroke-width="0.5"/>
<path d="M276.76 65.38 L277.56 60.12 L278.36 65.38 Z" fill="#7e3219" stroke="#7e3219" stroke-width="0.5"/>
<path d="M279.82 65.38 L280.62 60.38 L281.42 65.38 Z" fill="#7e3219" stroke="#7e3219" stroke-width="0.5"/>
<path d="M283.78 65.37 L284.58 62.62 L285.38 65.37 Z" fill="#7e3219" stroke="#7e3219" stroke-width="0.5"/>
<path d="M288.41 65.36 L289.21 60.77 L290.01 65.36 Z" fill="#7e3219" stroke="#7e3219" stroke-width="0.5"/>
<path d="M290.07 65.36 L290.87 62.11 L291.67 65.36 Z" fill="#7e3219" stroke="#7e3219" stroke-width="0.5"/>
<path d="M292.26 65.36 L293.06 61.65 L293.86 65.36 Z" fill="#7e3219" stroke="#7e3219" stroke-width="0.5"/>
<path d="M294.46 65.35 L295.26 61.59 L296.06 65.35 Z" fill="#7e3219" stroke="#7e3219" stroke-width="0.5"/>
<path d="M295.81 65.35 L296.61 60.04 L297.41 65.35 Z" fill="#7e3219" stroke="#7e3219" stroke-width="0.5"/>
<path d="M296.98 65.35 L297.78 60.47 L298.58 65.35 Z" fill="#7e3219" stroke="#7e3219" stroke-width="0.5"/>
<path d="M299.42 65.34 L300.22 60.94 L301.02 65.34 Z" fill="#7e3219" stroke="#7e3219" stroke-width="0.5"/>
<path d="M304.34 65.34 L305.14 59.96 L305.94 65.34 Z" fill="#7e3219" stroke="#7e3219" stroke-width="0.5"/>
<path d="M308.63 65.33 L309.43 61.83 L310.23 65.33 Z" fill="#7e3219" stroke="#7e3219" stroke-width="0.5"/>
<path d="M319.61 65.31 L320.41 61.28 L321.21 65.31 Z" fill="#7e3219" stroke="#7e3219" stroke-width="0.5"/>
<path d="M321.97 65.31 L322.77 60.88 L323.57 65.31 Z" fill="#7e3219" stroke="#7e3219" stroke-width="0.5"/>
<path d="M324.75 65.3 L325.55 62.56 L326.35 65.3 Z" fill="#7e3219" stroke="#7e3219" stroke-width="0.5"/>
<path d="M328.56 60.43 L329.36 55.27 L330.16 60.43 Z" fill="#7e3219" stroke="#7e3219" stroke-width="0.5"/>
<path d="M335.26 60.6 L336.06 57.03 L336.86 60.6 Z" fill="#7e3219" stroke="#7e3219" stroke-width="0.5"/>
<path d="M337.67 65.23 L338.47 61.76 L339.27 65.23 Z" fill="#7e3219" stroke="#7e3219" stroke-width="0.5"/>
<path d="M339.53 65.3 L340.33 60.58 L341.13 65.3 Z" fill="#7e3219" stroke="#7e3219" stroke-width="0.5"/>
<path d="M346.47 59.28 L347.27 56.46 L348.07 59.28 Z" fill="#7e3219" stroke="#7e3219" stroke-width="0.5"/>
<path d="M347.45 60.25 L348.25 56.1 L349.05 60.25 Z" fill="#7e3219" stroke="#7e3219" stroke-width="0.5"/>
<path d="M352.44 65.3 L353.24 61.56 L354.04 65.3 Z" fill="#7e3219" stroke="#7e3219" stroke-width="0.5"/>
<path d="M355.41 65.3 L356.21 60.46 L357.01 65.3 Z" fill="#7e3219" stroke="#7e3219" stroke-width="0.5"/>
<path d="M205 67.39 L206 62 L207 67.39 Z" fill="#7e3219" stroke="#7e3219" stroke-width="0.6" stroke-linejoin="round"/>
<path d="M208 65.97 L209 63 L210 65.97 Z" fill="#7e3219" stroke="#7e3219" stroke-width="0.6" stroke-linejoin="round"/>
<path d="M211.5 65.5 L212.5 54 L213.5 65.5 Z" fill="#7e3219" stroke="#7e3219" stroke-width="0.6" stroke-linejoin="round"/>
<path d="M212.5 65.49 L213.5 53.5 L214.5 65.49 Z" fill="#7e3219" stroke="#7e3219" stroke-width="0.6" stroke-linejoin="round"/>
<path d="M214 65.49 L215 54.5 L216 65.49 Z" fill="#7e3219" stroke="#7e3219" stroke-width="0.6" stroke-linejoin="round"/>
<path d="M217.5 65.49 L218.5 54 L219.5 65.49 Z" fill="#7e3219" stroke="#7e3219" stroke-width="0.6" stroke-linejoin="round"/>
<path d="M219 65.48 L220 54.5 L221 65.48 Z" fill="#7e3219" stroke="#7e3219" stroke-width="0.6" stroke-linejoin="round"/>
<path d="M222 65.48 L223 55 L224 65.48 Z" fill="#7e3219" stroke="#7e3219" stroke-width="0.6" stroke-linejoin="round"/>
<path d="M224.4 65.47 L225.4 44.7 L226.4 65.47 Z" fill="#7e3219" stroke="#7e3219" stroke-width="0.6" stroke-linejoin="round"/>
<path d="M229.6 65.46 L230.6 54.6 L231.6 65.46 Z" fill="#7e3219" stroke="#7e3219" stroke-width="0.6" stroke-linejoin="round"/>
<path d="M230.5 65.46 L231.5 55 L232.5 65.46 Z" fill="#7e3219" stroke="#7e3219" stroke-width="0.6" stroke-linejoin="round"/>
<path d="M234.5 65.46 L235.5 61 L236.5 65.46 Z" fill="#7e3219" stroke="#7e3219" stroke-width="0.6" stroke-linejoin="round"/>
<path d="M240.4 65.45 L241.4 57.8 L242.4 65.45 Z" fill="#7e3219" stroke="#7e3219" stroke-width="0.6" stroke-linejoin="round"/>
<path d="M241.5 65.44 L242.5 58 L243.5 65.44 Z" fill="#7e3219" stroke="#7e3219" stroke-width="0.6" stroke-linejoin="round"/>
<path d="M244.3 65.44 L245.3 57.8 L246.3 65.44 Z" fill="#7e3219" stroke="#7e3219" stroke-width="0.6" stroke-linejoin="round"/>
<path d="M249 65.43 L250 58 L251 65.43 Z" fill="#7e3219" stroke="#7e3219" stroke-width="0.6" stroke-linejoin="round"/>
<path d="M253.3 65.42 L254.3 52 L255.3 65.42 Z" fill="#7e3219" stroke="#7e3219" stroke-width="0.6" stroke-linejoin="round"/>
<path d="M257.6 65.42 L258.6 54 L259.6 65.42 Z" fill="#7e3219" stroke="#7e3219" stroke-width="0.6" stroke-linejoin="round"/>
<path d="M260.8 65.41 L261.8 48 L262.8 65.41 Z" fill="#7e3219" stroke="#7e3219" stroke-width="0.6" stroke-linejoin="round"/>
<path d="M264 65.41 L265 59 L266 65.41 Z" fill="#7e3219" stroke="#7e3219" stroke-width="0.6" stroke-linejoin="round"/>
<path d="M269 65.4 L270 20 L271 65.4 Z" fill="#7e3219" stroke="#7e3219" stroke-width="0.6" stroke-linejoin="round"/>
<path d="M271.5 65.39 L272.5 54 L273.5 65.39 Z" fill="#7e3219" stroke="#7e3219" stroke-width="0.6" stroke-linejoin="round"/>
<path d="M273.4 65.39 L274.4 55 L275.4 65.39 Z" fill="#7e3219" stroke="#7e3219" stroke-width="0.6" stroke-linejoin="round"/>
<path d="M279 65.38 L280 55 L281 65.38 Z" fill="#7e3219" stroke="#7e3219" stroke-width="0.6" stroke-linejoin="round"/>
<path d="M285 65.37 L286 55 L287 65.37 Z" fill="#7e3219" stroke="#7e3219" stroke-width="0.6" stroke-linejoin="round"/>
<path d="M288 65.36 L289 62 L290 65.36 Z" fill="#7e3219" stroke="#7e3219" stroke-width="0.6" stroke-linejoin="round"/>
<path d="M295.5 65.35 L296.5 59 L297.5 65.35 Z" fill="#7e3219" stroke="#7e3219" stroke-width="0.6" stroke-linejoin="round"/>
<path d="M302 65.34 L303 57 L304 65.34 Z" fill="#7e3219" stroke="#7e3219" stroke-width="0.6" stroke-linejoin="round"/>
<path d="M307.5 65.33 L308.5 56 L309.5 65.33 Z" fill="#7e3219" stroke="#7e3219" stroke-width="0.6" stroke-linejoin="round"/>
<path d="M309 65.33 L310 57 L311 65.33 Z" fill="#7e3219" stroke="#7e3219" stroke-width="0.6" stroke-linejoin="round"/>
<path d="M313.6 65.32 L314.6 44.5 L315.6 65.32 Z" fill="#7e3219" stroke="#7e3219" stroke-width="0.6" stroke-linejoin="round"/>
<path d="M317 65.31 L318 50.6 L319 65.31 Z" fill="#7e3219" stroke="#7e3219" stroke-width="0.6" stroke-linejoin="round"/>
<path d="M319.4 65.31 L320.4 56.7 L321.4 65.31 Z" fill="#7e3219" stroke="#7e3219" stroke-width="0.6" stroke-linejoin="round"/>
<path d="M322.5 65.3 L323.5 26.1 L324.5 65.3 Z" fill="#7e3219" stroke="#7e3219" stroke-width="0.6" stroke-linejoin="round"/>
<path d="M327.7 59.33 L328.7 39.9 L329.7 59.33 Z" fill="#7e3219" stroke="#7e3219" stroke-width="0.6" stroke-linejoin="round"/>
<path d="M330.4 58.23 L331.4 47.5 L332.4 58.23 Z" fill="#7e3219" stroke="#7e3219" stroke-width="0.6" stroke-linejoin="round"/>
<path d="M332 61 L333 27.6 L334 61 Z" fill="#7e3219" stroke="#7e3219" stroke-width="0.6" stroke-linejoin="round"/>
<path d="M335.3 60.95 L336.3 46 L337.3 60.95 Z" fill="#7e3219" stroke="#7e3219" stroke-width="0.6" stroke-linejoin="round"/>
<path d="M337.3 64.86 L338.3 58.2 L339.3 64.86 Z" fill="#7e3219" stroke="#7e3219" stroke-width="0.6" stroke-linejoin="round"/>
<path d="M341.9 63.78 L342.9 58 L343.9 63.78 Z" fill="#7e3219" stroke="#7e3219" stroke-width="0.6" stroke-linejoin="round"/>
<path d="M345.4 58.1 L346.4 27.6 L347.4 58.1 Z" fill="#7e3219" stroke="#7e3219" stroke-width="0.6" stroke-linejoin="round"/>
<path d="M348.4 59.1 L349.4 46 L350.4 59.1 Z" fill="#7e3219" stroke="#7e3219" stroke-width="0.6" stroke-linejoin="round"/>
<path d="M351.8 65.3 L352.8 58 L353.8 65.3 Z" fill="#7e3219" stroke="#7e3219" stroke-width="0.6" stroke-linejoin="round"/>
<path d="M355.6 65.3 L356.6 58 L357.6 65.3 Z" fill="#7e3219" stroke="#7e3219" stroke-width="0.6" stroke-linejoin="round"/>
<text x="469.75" y="8.3" font-size="6.3" text-anchor="middle" fill="#1a1a1a" stroke="#1a1a1a" stroke-width="0.08" font-family="Liberation Sans, sans-serif">GRID</text>
<path d="M392 18 H547.5" stroke="#3c3c3c" stroke-width="1"/>
<path d="M392 73.4 H547.5" stroke="#5e5e5e" stroke-width="1"/>
<path d="M392.5 17.5 V73.9" stroke="#5e5e5e" stroke-width="1"/>
<path d="M547 17.5 V73.9" stroke="#3c3c3c" stroke-width="1"/>
<path d="M389.9 73.4 H392.5" stroke="#4a4a4a" stroke-width="1"/>
<text x="388.6" y="74.9" font-size="5.6" text-anchor="end" fill="#2a2a2a" stroke="#2a2a2a" stroke-width="0.12" textLength="2.25" lengthAdjust="spacingAndGlyphs" font-family="Liberation Sans, sans-serif">0</text>
<path d="M389.9 54.93 H392.5" stroke="#4a4a4a" stroke-width="1"/>
<text x="388.6" y="56.43" font-size="5.6" text-anchor="end" fill="#2a2a2a" stroke="#2a2a2a" stroke-width="0.12" textLength="2.25" lengthAdjust="spacingAndGlyphs" font-family="Liberation Sans, sans-serif">1</text>
<path d="M389.9 36.47 H392.5" stroke="#4a4a4a" stroke-width="1"/>
<text x="388.6" y="37.97" font-size="5.6" text-anchor="end" fill="#2a2a2a" stroke="#2a2a2a" stroke-width="0.12" textLength="2.25" lengthAdjust="spacingAndGlyphs" font-family="Liberation Sans, sans-serif">2</text>
<path d="M389.9 18 H392.5" stroke="#4a4a4a" stroke-width="1"/>
<text x="388.6" y="19.5" font-size="5.6" text-anchor="end" fill="#2a2a2a" stroke="#2a2a2a" stroke-width="0.12" textLength="2.25" lengthAdjust="spacingAndGlyphs" font-family="Liberation Sans, sans-serif">3</text>
<path d="M396.5 73.4 V76.4 M401.04 73.4 V75 M405.58 73.4 V75 M410.12 73.4 V75 M414.66 73.4 V75 M419.2 73.4 V75 M423.74 73.4 V75 M428.28 73.4 V75 M432.82 73.4 V75 M437.36 73.4 V75 M441.9 73.4 V75 M446.44 73.4 V75 M450.98 73.4 V76.4 M455.52 73.4 V75 M460.06 73.4 V75 M464.6 73.4 V75 M469.14 73.4 V75 M473.68 73.4 V75 M478.22 73.4 V75 M482.76 73.4 V75 M487.3 73.4 V75 M491.84 73.4 V75 M496.38 73.4 V75 M500.92 73.4 V75 M505.46 73.4 V76.4 M510 73.4 V75 M514.54 73.4 V75 M519.08 73.4 V75 M523.62 73.4 V75 M528.16 73.4 V75 M532.7 73.4 V75 M537.24 73.4 V75 M541.78 73.4 V75 M546.32 73.4 V75" stroke="#444" stroke-width="0.9"/>
<text x="424.8" y="82.3" font-size="5.6" text-anchor="middle" fill="#2a2a2a" stroke="#2a2a2a" stroke-width="0.12" textLength="9.6" lengthAdjust="spacingAndGlyphs" font-family="Liberation Sans, sans-serif">2020</text>
<text x="479.1" y="82.3" font-size="5.6" text-anchor="middle" fill="#2a2a2a" stroke="#2a2a2a" stroke-width="0.12" textLength="9.6" lengthAdjust="spacingAndGlyphs" font-family="Liberation Sans, sans-serif">2021</text>
<text x="529.1" y="82.3" font-size="5.6" text-anchor="middle" fill="#2a2a2a" stroke="#2a2a2a" stroke-width="0.12" textLength="9.6" lengthAdjust="spacingAndGlyphs" font-family="Liberation Sans, sans-serif">2022</text>
<path d="M392.5 73.4 L393.2 73.26 L393.9 73.38 L394.6 73.94 L395.3 73.1 L396 73.1 L396.8 73.07 L397.6 73.17 L398.4 72.44 L399.2 72.96 L400 72.9 L400.75 72.95 L401.5 73.05 L402.25 71.69 L403 72.2 L403.67 71.67 L404.33 71.1 L405 71.6 L405.67 72.53 L406.33 72.73 L407 72.8 L407.71 72.11 L408.43 73.79 L409.14 73.85 L409.86 73.4 L410.57 73.43 L411.29 72.73 L412 73.4 L412.75 72.54 L413.5 73.37 L414.25 72.54 L415 72.72 L415.75 72.77 L416.5 72.38 L417.25 73.08 L418 73.1 L418.75 73 L419.5 73.68 L420.25 73.13 L421 73.34 L421.75 73.1 L422.5 73.38 L423.25 73.03 L424 73.1 L424.67 72.49 L425.33 73.48 L426 72.4 L426.8 70.54 L427.6 67 L428.3 68.08 L429 68 L429.67 68.89 L430.33 68.75 L431 69.6 L431.67 69.41 L432.33 69.77 L433 70.4 L433.7 68.47 L434.4 68 L435 69.65 L435.6 70.4 L436.4 70.43 L437.2 71.39 L438 71 L438.8 70.81 L439.6 71.78 L440.4 71.59 L441.2 70.15 L442 71 L442.75 70.26 L443.5 71.2 L444.25 70.2 L445 70 L445.75 70.64 L446.5 69.48 L447.25 68.75 L448 69.3 L448.8 69.66 L449.6 70.05 L450.4 69.33 L451.2 69.16 L452 70 L452.8 69.72 L453.6 70.79 L454.4 70.44 L455.2 69.35 L456 70 L456.8 69.53 L457.6 69.24 L458.4 69.13 L459.2 70.34 L460 69.8 L460.8 69.21 L461.6 69.82 L462.4 69.59 L463.2 69.11 L464 69.6 L464.8 69.93 L465.6 68.84 L466.4 69.4 L467.2 60 L468 69 L468.67 69.04 L469.33 67.95 L470 68.4 L470.67 68.13 L471.33 67.65 L472 68 L472.75 67.96 L473.5 69.5 L474.25 69.57 L475 69.4 L475.71 69.15 L476.43 70.23 L477.14 69.17 L477.86 69.56 L478.57 70.43 L479.29 70.16 L480 70 L480.8 69.12 L481.6 70.43 L482.4 68.91 L483.2 68.79 L484 69 L484.8 69.18 L485.6 68.15 L486.4 67.81 L487.2 67.15 L488 67.6 L488.8 66.78 L489.6 67.5 L490.4 66.8 L491.2 67.29 L492 67 L492.75 66.63 L493.5 66.62 L494.25 67.33 L495 66.4 L495.67 65.24 L496.33 64.26 L497 63 L497.7 64.12 L498.4 64 L499.2 56.46 L500 50 L501 45.6 L501.7 45.71 L502.4 47 L503 45.69 L503.6 43 L504.3 39.84 L505 35.6 L505.7 36.87 L506.4 39 L507 36.47 L507.6 35 L508.3 37.91 L509 40 L509.7 39.75 L510.4 38 L511.2 40.98 L512 45 L512.8 44.77 L513.6 43 L514.3 45.15 L515 46 L515.8 48.18 L516.6 50 L517.3 47.87 L518 46 L518.8 42.83 L519.6 41 L520.6 40 L521.3 41.22 L522 44 L522.8 46.79 L523.6 48 L524.3 48.06 L525 49 L525.7 51.85 L526.4 54 L527.4 62 L528.2 62.39 L529 63.6 L529.67 64.28 L530.33 64.03 L531 64 L531.7 65.65 L532.4 68 L533.2 67.95 L534 69 L534.67 68.71 L535.33 66.93 L536 67 L536.8 66.04 L537.6 66 L538.3 65.6 L539 65 L539.8 66.6 L540.6 67 L541.3 65.69 L542 64 L543 59 L543.6 68 L544.6 70 L545.3 68.63 L546 68" fill="none" stroke="#7e3219" stroke-width="1.55" stroke-linejoin="round" stroke-linecap="round" />
<path d="M502.4 47 L503 45.69 L503.6 43 L504.3 39.84 L505 35.6 L505.7 36.87 L506.4 39 L507 36.47 L507.6 35 L508.3 37.91 L509 40 L509.7 39.75 L510.4 38 L511.2 40.98 L512 45" fill="none" stroke="#d81410" stroke-width="1.05" stroke-linejoin="round" stroke-linecap="round" />
<path d="M535.33 66.93 L536 67 L536.8 66.04 L537.6 66 L538.3 65.6 L539 65 L539.8 66.6 L540.6 67 L541.3 65.69 L542 64 L543 59 L543.6 68 L544.6 70" fill="none" stroke="#d81410" stroke-width="1.05" stroke-linejoin="round" stroke-linecap="round" />
<text x="92.75" y="101.8" font-size="6.3" text-anchor="middle" fill="#1a1a1a" stroke="#1a1a1a" stroke-width="0.08" font-family="Liberation Sans, sans-serif">IDEMV</text>
<path d="M15 111.5 H170.5" stroke="#5e5e5e" stroke-width="1"/>
<path d="M15 167.5 H170.5" stroke="#5e5e5e" stroke-width="1"/>
<path d="M15.5 111 V168" stroke="#5e5e5e" stroke-width="1"/>
<path d="M170 111 V168" stroke="#3c3c3c" stroke-width="1"/>
<path d="M12.9 167.5 H15.5" stroke="#4a4a4a" stroke-width="1"/>
<text x="11.6" y="169" font-size="5.6" text-anchor="end" fill="#2a2a2a" stroke="#2a2a2a" stroke-width="0.12" textLength="2.25" lengthAdjust="spacingAndGlyphs" font-family="Liberation Sans, sans-serif">0</text>
<path d="M12.9 148.83 H15.5" stroke="#4a4a4a" stroke-width="1"/>
<text x="11.6" y="150.33" font-size="5.6" text-anchor="end" fill="#2a2a2a" stroke="#2a2a2a" stroke-width="0.12" textLength="4.5" lengthAdjust="spacingAndGlyphs" font-family="Liberation Sans, sans-serif">40</text>
<path d="M12.9 130.17 H15.5" stroke="#4a4a4a" stroke-width="1"/>
<text x="11.6" y="131.67" font-size="5.6" text-anchor="end" fill="#2a2a2a" stroke="#2a2a2a" stroke-width="0.12" textLength="4.5" lengthAdjust="spacingAndGlyphs" font-family="Liberation Sans, sans-serif">80</text>
<path d="M12.9 111.5 H15.5" stroke="#4a4a4a" stroke-width="1"/>
<text x="11.6" y="113" font-size="5.6" text-anchor="end" fill="#2a2a2a" stroke="#2a2a2a" stroke-width="0.12" textLength="6.75" lengthAdjust="spacingAndGlyphs" font-family="Liberation Sans, sans-serif">120</text>
<path d="M19.5 167.5 V170.5 M24.04 167.5 V169.1 M28.58 167.5 V169.1 M33.12 167.5 V169.1 M37.66 167.5 V169.1 M42.2 167.5 V169.1 M46.74 167.5 V169.1 M51.28 167.5 V169.1 M55.82 167.5 V169.1 M60.36 167.5 V169.1 M64.9 167.5 V169.1 M69.44 167.5 V169.1 M73.98 167.5 V170.5 M78.52 167.5 V169.1 M83.06 167.5 V169.1 M87.6 167.5 V169.1 M92.14 167.5 V169.1 M96.68 167.5 V169.1 M101.22 167.5 V169.1 M105.76 167.5 V169.1 M110.3 167.5 V169.1 M114.84 167.5 V169.1 M119.38 167.5 V169.1 M123.92 167.5 V169.1 M128.46 167.5 V170.5 M133 167.5 V169.1 M137.54 167.5 V169.1 M142.08 167.5 V169.1 M146.62 167.5 V169.1 M151.16 167.5 V169.1 M155.7 167.5 V169.1 M160.24 167.5 V169.1 M164.78 167.5 V169.1 M169.32 167.5 V169.1" stroke="#444" stroke-width="0.9"/>
<text x="47.8" y="176.4" font-size="5.6" text-anchor="middle" fill="#2a2a2a" stroke="#2a2a2a" stroke-width="0.12" textLength="9.6" lengthAdjust="spacingAndGlyphs" font-family="Liberation Sans, sans-serif">2020</text>
<text x="102.1" y="176.4" font-size="5.6" text-anchor="middle" fill="#2a2a2a" stroke="#2a2a2a" stroke-width="0.12" textLength="9.6" lengthAdjust="spacingAndGlyphs" font-family="Liberation Sans, sans-serif">2021</text>
<text x="152.1" y="176.4" font-size="5.6" text-anchor="middle" fill="#2a2a2a" stroke="#2a2a2a" stroke-width="0.12" textLength="9.6" lengthAdjust="spacingAndGlyphs" font-family="Liberation Sans, sans-serif">2022</text>
<path d="M15.5 166.7 L19.8 166.2 L23.3 166.7 L25 166.2 L26.8 162.6 L27.7 163.5 L29.1 152.9 L30.4 140.5 L31.3 114.8 L32.2 121.8 L33 128" fill="none" stroke="#7e3219" stroke-width="1.7" stroke-linejoin="round" stroke-linecap="round" />
<path d="M33 129.34 L33.5 128.26 L34 129.53 L34.5 129.48 L35 129.58 L35.5 129.72 L36 129.69 L36.5 130.28 L37 130.78 L37.5 130.26 L38 129.87 L38.5 130.65 L39 135.87 L39.5 141.4 L40 146.33 L40.5 147.08 L41 147.96 L41.5 148.82 L42 149.75 L42.5 150.15 L43 150.82 L43.5 150.87 L44 152.35 L44.5 152.06 L45 151.66 L45.5 151.71 L46 151.74 L46.5 151.54 L47 152.31 L47.5 151.86 L48 152.08 L48.5 151.39 L49 152.07 L49.5 152.37 L50 152.38 L50.5 152.46 L51 151.83 L51.5 152.05 L52 151.58 L52.5 151.87 L53 152.03 L53.5 152.32 L54 152.45 L54.5 152.23 L55 152.11 L55.5 151.52 L56 151.36 L56.5 152.42 L57 151.53 L57.5 151.83 L58 151.29 L58.5 151.5 L59 151.38 L59.5 151.31 L60 151.32 L60.5 152.43 L61 151.56 L61.5 151.85 L62 152.71 L62.5 151.38 L63 152.2 L63.5 151.51 L64 151.4 L64.5 152.44 L65 152.64 L65.5 152.59 L66 152.05 L66.5 152.33 L67 151.55 L67.5 152.64 L68 152.25 L68.5 152.16 L69 152.79 L69.5 152.3 L70 151.49 L70.5 151.67 L71 151.53 L71.5 151.63 L72 152.21 L72.5 152.82 L73 151.84 L73.5 151.88 L74 152.41 L74.5 152.54 L75 152.15 L75.5 151.57 L76 152.14 L76.5 152.59 L77 151.73 L77.5 151.92 L78 152.34 L78.5 152.05 L79 151.92 L79.5 152.98 L80 152.25 L80.5 152.47 L81 152.25 L81.5 151.92 L82 152.8 L82.5 152.41 L83 152.55 L83.5 153.08 L84 151.74 L84.5 151.86 L85 152.91 L85.5 151.76 L86 152.32 L86.5 152.05 L87 151.87 L87.5 152.3 L88 151.89 L88.5 152.06 L89 152.35 L89.5 152.87 L90 151.99 L90.5 151.94 L91 152.74 L91.5 152.82 L92 152.78 L92.5 152.88 L93 152.38 L93.5 153 L94 152.63 L94.5 153.24 L95 153.22 L95.5 152.34 L96 152.61 L96.5 152.54 L97 153.23 L97.5 153.1 L98 152.46 L98.5 152.18 L99 152.08 L99.5 153.24 L100 152.91 L100.5 152.75 L101 153.61 L101.5 153.61 L102 153.49 L102.5 155 L103 154.13 L103.5 155.33 L104 155.92 L104.5 155.98 L105 156.73 L105.5 156.47 L106 156.62 L106.5 157.21 L107 157 L107.5 157.8 L108 158.49 L108.5 158.86 L109 159.6 L109.5 159.67 L110 160.07 L110.5 159.31 L111 159.56 L111.5 160.37 L112 159.02 L112.5 160 L113 159.91 L113.5 159.02 L114 160.02 L114.5 160.27 L115 159.14 L115.5 160.07 L116 160.04 L116.5 159.27 L117 159.19 L117.5 159.61 L118 159.79 L118.5 159.29 L119 159.1 L119.5 159.68 L120 159.92 L120.5 159.68 L121 159.47 L121.5 159.7 L122 159.11 L122.5 159.24 L123 160.1 L123.5 159.94 L124 160.21 L124.5 159.23 L125 159.65 L125.5 159.01 L126 160.35 L126.5 159.75 L127 159.62 L127.5 158.18 L128 157.18 L128.5 156.53 L129 155.15 L129.5 154.86 L130 154.82 L130.5 155.04 L131 154.7 L131.5 154.52 L132 154.84 L132.5 154.11 L133 154.28 L133.5 153.98 L134 153.7 L134.5 154.03 L135 153.9 L135.5 154.05 L136 153.98 L136.5 154.57 L137 153.89 L137.5 154.53 L138 153.32 L138.5 153.4 L139 153.61 L139.5 154.16 L140 154.13 L140.5 153.66 L141 153.68 L141.5 154.6 L142 154.37 L142.5 154.54 L143 154.82 L143.5 154.75 L144 154.21 L144.5 154.84 L145 154.55 L145.5 155.44 L146 154.87 L146.5 154.56 L147 154.58 L147.5 154.99 L148 155.88 L148.5 155.77 L149 155.56 L149.5 156.07 L150 155.4 L150.5 155.11 L151 156.1 L151.5 154.9 L152 154.95 L152.5 154.85 L153 154.75 L153.5 155.15 L154 154.72 L154.5 154.19 L155 155.19 L155.5 154.99 L156 154.53 L156.5 154.17 L157 154.45 L157.5 154.9 L158 154.06 L158.5 153.74 L159 154.04 L159.5 153.85 L160 154.38 L160.5 153.69 L161 153.84 L161.5 153.31 L162 153.39 L162.5 154.21 L163 153.42 L163.5 154.49 L164 153.57 L164.5 153.72 L165 154.46 L165.5 154.94 L166 153.7 L166.5 154.02 L167 154.52 L167.5 154.49 L168 154.12 L168.5 155.05 L169 154.9 L169.5 154.2 L169.5 165.47 L169 164.31 L168.5 165.4 L168 164.14 L167.5 165.99 L167 165.96 L166.5 165.49 L166 164.22 L165.5 165.07 L165 165.98 L164.5 165.95 L164 165.73 L163.5 166 L163 165.79 L162.5 164.16 L162 164.07 L161.5 163.82 L161 166 L160.5 165.63 L160 164.44 L159.5 163.87 L159 165.24 L158.5 164.46 L158 165.16 L157.5 165.66 L157 165.66 L156.5 164.7 L156 164.43 L155.5 165.96 L155 165.59 L154.5 165.95 L154 164.7 L153.5 165.75 L153 165.87 L152.5 165.74 L152 165.61 L151.5 165.91 L151 165.98 L150.5 165.78 L150 165.11 L149.5 165.67 L149 165.88 L148.5 165.58 L148 164.28 L147.5 165.72 L147 166 L146.5 163.97 L146 164.24 L145.5 165.72 L145 165.93 L144.5 165.7 L144 165.15 L143.5 163.89 L143 164.07 L142.5 164.76 L142 164.02 L141.5 165.44 L141 164.3 L140.5 164.51 L140 165.12 L139.5 165.88 L139 165.72 L138.5 164.99 L138 165.88 L137.5 165.77 L137 165.1 L136.5 164.13 L136 165.81 L135.5 165.94 L135 165.99 L134.5 165.71 L134 164.53 L133.5 163.98 L133 165.88 L132.5 165.88 L132 165.13 L131.5 164.41 L131 165.66 L130.5 165.98 L130 165.66 L129.5 164.61 L129 165.8 L128.5 165.99 L128 165.36 L127.5 165.07 L127 164.41 L126.5 165.69 L126 165.72 L125.5 165.35 L125 165.82 L124.5 165.69 L124 165.96 L123.5 164.7 L123 165.66 L122.5 164.82 L122 164.81 L121.5 166 L121 165.85 L120.5 165.04 L120 164.8 L119.5 164.53 L119 166 L118.5 164.04 L118 165.54 L117.5 165.86 L117 165.21 L116.5 164.64 L116 165.28 L115.5 165.92 L115 164.6 L114.5 164.36 L114 165.23 L113.5 164.13 L113 164.6 L112.5 164.36 L112 165.55 L111.5 165.15 L111 165.07 L110.5 165.19 L110 164.48 L109.5 164.98 L109 165.61 L108.5 165.28 L108 163.77 L107.5 165.26 L107 164.98 L106.5 163.76 L106 165.4 L105.5 165.28 L105 163.9 L104.5 164.82 L104 164.63 L103.5 164.88 L103 164.36 L102.5 163.62 L102 164.16 L101.5 164.12 L101 163.63 L100.5 164.46 L100 164.46 L99.5 162.32 L99 164.42 L98.5 164.02 L98 162.18 L97.5 164.32 L97 163.56 L96.5 163.27 L96 164.1 L95.5 164.1 L95 162.65 L94.5 162.73 L94 163.62 L93.5 163.93 L93 163.6 L92.5 163.49 L92 162.67 L91.5 163.97 L91 161.91 L90.5 162.32 L90 163.84 L89.5 163.5 L89 163.34 L88.5 163.06 L88 162.5 L87.5 161.79 L87 163.51 L86.5 162.89 L86 163.11 L85.5 163.15 L85 162.57 L84.5 163.33 L84 162.47 L83.5 163.16 L83 163.25 L82.5 161.54 L82 163.08 L81.5 163.32 L81 162.71 L80.5 163.28 L80 162.67 L79.5 162.05 L79 161.38 L78.5 162.25 L78 162.65 L77.5 162.99 L77 162.99 L76.5 162.9 L76 162.97 L75.5 162.97 L75 162.33 L74.5 162.76 L74 161.47 L73.5 162.07 L73 162.38 L72.5 160.61 L72 160.62 L71.5 161.83 L71 162.63 L70.5 162.65 L70 161.94 L69.5 162.21 L69 162.41 L68.5 162.49 L68 162.16 L67.5 162.43 L67 162 L66.5 162.19 L66 162.26 L65.5 161.25 L65 161.06 L64.5 161.08 L64 161.81 L63.5 161.97 L63 160.97 L62.5 161.9 L62 162.07 L61.5 162.09 L61 161.01 L60.5 161.98 L60 161.86 L59.5 160.75 L59 159.85 L58.5 160.78 L58 161.41 L57.5 160.49 L57 159.84 L56.5 161.34 L56 160.8 L55.5 159.64 L55 161.09 L54.5 161.17 L54 161.02 L53.5 159.87 L53 160.94 L52.5 158.96 L52 160.7 L51.5 159.96 L51 160.06 L50.5 159.48 L50 160.29 L49.5 160.27 L49 160.29 L48.5 160.04 L48 159.68 L47.5 158.26 L47 159.58 L46.5 158.26 L46 158.38 L45.5 157.94 L45 159.13 L44.5 158.55 L44 159.54 L43.5 157.41 L43 158.08 L42.5 157.57 L42 157.9 L41.5 159.15 L41 156.96 L40.5 159.03 L40 159 L39.5 157.31 L39 155.25 L38.5 155.78 L38 156 L37.5 155.84 L37 155.35 L36.5 153.82 L36 155.66 L35.5 155.94 L35 155.19 L34.5 155.79 L34 154.81 L33.5 155.98 L33 154.02Z" fill="#ee1010" stroke="#ee1010" stroke-width="0.4"/>
<path d="M36 130.88 L36.8 126.59 L37.6 130.88 Z" fill="#7e3219" stroke="#7e3219" stroke-width="0.5"/>
<path d="M38.45 139.5 L39.25 132.12 L40.05 139.5 Z" fill="#7e3219" stroke="#7e3219" stroke-width="0.5"/>
<path d="M40.64 149.3 L41.44 145.95 L42.24 149.3 Z" fill="#7e3219" stroke="#7e3219" stroke-width="0.5"/>
<path d="M44.28 152.52 L45.08 146.2 L45.88 152.52 Z" fill="#7e3219" stroke="#7e3219" stroke-width="0.5"/>
<path d="M49.57 152.61 L50.37 149.8 L51.17 152.61 Z" fill="#7e3219" stroke="#7e3219" stroke-width="0.5"/>
<path d="M51.18 152.64 L51.98 146.56 L52.78 152.64 Z" fill="#7e3219" stroke="#7e3219" stroke-width="0.5"/>
<path d="M53.54 152.68 L54.34 148.91 L55.14 152.68 Z" fill="#7e3219" stroke="#7e3219" stroke-width="0.5"/>
<path d="M57.57 152.76 L58.37 144.24 L59.17 152.76 Z" fill="#7e3219" stroke="#7e3219" stroke-width="0.5"/>
<path d="M58.88 152.78 L59.68 147.72 L60.48 152.78 Z" fill="#7e3219" stroke="#7e3219" stroke-width="0.5"/>
<path d="M61.04 152.82 L61.84 148.2 L62.64 152.82 Z" fill="#7e3219" stroke="#7e3219" stroke-width="0.5"/>
<path d="M62 152.84 L62.8 149.14 L63.6 152.84 Z" fill="#7e3219" stroke="#7e3219" stroke-width="0.5"/>
<path d="M65.2 152.89 L66 148.4 L66.8 152.89 Z" fill="#7e3219" stroke="#7e3219" stroke-width="0.5"/>
<path d="M67.23 152.93 L68.03 147.46 L68.83 152.93 Z" fill="#7e3219" stroke="#7e3219" stroke-width="0.5"/>
<path d="M69.4 152.97 L70.2 149.84 L71 152.97 Z" fill="#7e3219" stroke="#7e3219" stroke-width="0.5"/>
<path d="M70.38 152.99 L71.18 147.19 L71.98 152.99 Z" fill="#7e3219" stroke="#7e3219" stroke-width="0.5"/>
<path d="M72.76 153.03 L73.56 146.5 L74.36 153.03 Z" fill="#7e3219" stroke="#7e3219" stroke-width="0.5"/>
<path d="M78.04 153.12 L78.84 149.49 L79.64 153.12 Z" fill="#7e3219" stroke="#7e3219" stroke-width="0.5"/>
<path d="M79.27 153.14 L80.07 145.07 L80.87 153.14 Z" fill="#7e3219" stroke="#7e3219" stroke-width="0.5"/>
<path d="M81.93 153.19 L82.73 145.87 L83.53 153.19 Z" fill="#7e3219" stroke="#7e3219" stroke-width="0.5"/>
<path d="M84.94 153.25 L85.74 146.86 L86.54 153.25 Z" fill="#7e3219" stroke="#7e3219" stroke-width="0.5"/>
<path d="M89.63 153.33 L90.43 149.5 L91.23 153.33 Z" fill="#7e3219" stroke="#7e3219" stroke-width="0.5"/>
<path d="M91.27 153.36 L92.07 150.62 L92.87 153.36 Z" fill="#7e3219" stroke="#7e3219" stroke-width="0.5"/>
<path d="M93.47 153.4 L94.27 150.4 L95.07 153.4 Z" fill="#7e3219" stroke="#7e3219" stroke-width="0.5"/>
<path d="M101.76 155.21 L102.56 151.62 L103.36 155.21 Z" fill="#7e3219" stroke="#7e3219" stroke-width="0.5"/>
<path d="M103.37 156.28 L104.17 152.79 L104.97 156.28 Z" fill="#7e3219" stroke="#7e3219" stroke-width="0.5"/>
<path d="M108.22 159.76 L109.02 154.8 L109.82 159.76 Z" fill="#7e3219" stroke="#7e3219" stroke-width="0.5"/>
<path d="M110.53 160.5 L111.33 157.56 L112.13 160.5 Z" fill="#7e3219" stroke="#7e3219" stroke-width="0.5"/>
<path d="M115.25 160.5 L116.05 157.37 L116.85 160.5 Z" fill="#7e3219" stroke="#7e3219" stroke-width="0.5"/>
<path d="M116.49 160.5 L117.29 157.41 L118.09 160.5 Z" fill="#7e3219" stroke="#7e3219" stroke-width="0.5"/>
<path d="M119.63 160.5 L120.43 156.36 L121.23 160.5 Z" fill="#7e3219" stroke="#7e3219" stroke-width="0.5"/>
<path d="M124.09 160.5 L124.89 155.88 L125.69 160.5 Z" fill="#7e3219" stroke="#7e3219" stroke-width="0.5"/>
<path d="M126.58 159.55 L127.38 154.7 L128.18 159.55 Z" fill="#7e3219" stroke="#7e3219" stroke-width="0.5"/>
<path d="M131.36 155.21 L132.16 148.26 L132.96 155.21 Z" fill="#7e3219" stroke="#7e3219" stroke-width="0.5"/>
<path d="M137.99 154.61 L138.79 151.84 L139.59 154.61 Z" fill="#7e3219" stroke="#7e3219" stroke-width="0.5"/>
<path d="M143.51 155.36 L144.31 151.21 L145.11 155.36 Z" fill="#7e3219" stroke="#7e3219" stroke-width="0.5"/>
<path d="M147.04 156.07 L147.84 148.55 L148.64 156.07 Z" fill="#7e3219" stroke="#7e3219" stroke-width="0.5"/>
<path d="M149.1 156.48 L149.9 153.21 L150.7 156.48 Z" fill="#7e3219" stroke="#7e3219" stroke-width="0.5"/>
<path d="M151.44 156.05 L152.24 148.51 L153.04 156.05 Z" fill="#7e3219" stroke="#7e3219" stroke-width="0.5"/>
<path d="M155.25 155.29 L156.05 147.62 L156.85 155.29 Z" fill="#7e3219" stroke="#7e3219" stroke-width="0.5"/>
<path d="M156.52 155.04 L157.32 149.97 L158.12 155.04 Z" fill="#7e3219" stroke="#7e3219" stroke-width="0.5"/>
<path d="M158.99 154.54 L159.79 150.52 L160.59 154.54 Z" fill="#7e3219" stroke="#7e3219" stroke-width="0.5"/>
<path d="M161.15 154.71 L161.95 151.23 L162.75 154.71 Z" fill="#7e3219" stroke="#7e3219" stroke-width="0.5"/>
<path d="M163.49 154.95 L164.29 150.26 L165.09 154.95 Z" fill="#7e3219" stroke="#7e3219" stroke-width="0.5"/>
<path d="M164.64 155.07 L165.44 150.79 L166.24 155.07 Z" fill="#7e3219" stroke="#7e3219" stroke-width="0.5"/>
<path d="M166.24 155.24 L167.04 152.37 L167.84 155.24 Z" fill="#7e3219" stroke="#7e3219" stroke-width="0.5"/>
<path d="M34 130.23 L35 125 L36 130.23 Z" fill="#7e3219" stroke="#7e3219" stroke-width="0.6" stroke-linejoin="round"/>
<path d="M37 131.32 L38 133 L39 131.32 Z" fill="#7e3219" stroke="#7e3219" stroke-width="0.6" stroke-linejoin="round"/>
<path d="M40 148.75 L41 138 L42 148.75 Z" fill="#7e3219" stroke="#7e3219" stroke-width="0.6" stroke-linejoin="round"/>
<path d="M41.8 151 L42.8 136 L43.8 151 Z" fill="#7e3219" stroke="#7e3219" stroke-width="0.6" stroke-linejoin="round"/>
<path d="M44.5 152.53 L45.5 142 L46.5 152.53 Z" fill="#7e3219" stroke="#7e3219" stroke-width="0.6" stroke-linejoin="round"/>
<path d="M49.8 152.62 L50.8 146 L51.8 152.62 Z" fill="#7e3219" stroke="#7e3219" stroke-width="0.6" stroke-linejoin="round"/>
<path d="M53 152.68 L54 143 L55 152.68 Z" fill="#7e3219" stroke="#7e3219" stroke-width="0.6" stroke-linejoin="round"/>
<path d="M57.4 152.76 L58.4 141 L59.4 152.76 Z" fill="#7e3219" stroke="#7e3219" stroke-width="0.6" stroke-linejoin="round"/>
<path d="M61.4 152.83 L62.4 141 L63.4 152.83 Z" fill="#7e3219" stroke="#7e3219" stroke-width="0.6" stroke-linejoin="round"/>
<path d="M66.3 152.92 L67.3 145.3 L68.3 152.92 Z" fill="#7e3219" stroke="#7e3219" stroke-width="0.6" stroke-linejoin="round"/>
<path d="M71.2 153 L72.2 147.8 L73.2 153 Z" fill="#7e3219" stroke="#7e3219" stroke-width="0.6" stroke-linejoin="round"/>
<path d="M74.9 153.07 L75.9 141.6 L76.9 153.07 Z" fill="#7e3219" stroke="#7e3219" stroke-width="0.6" stroke-linejoin="round"/>
<path d="M79 153.14 L80 146 L81 153.14 Z" fill="#7e3219" stroke="#7e3219" stroke-width="0.6" stroke-linejoin="round"/>
<path d="M82.3 153.2 L83.3 147 L84.3 153.2 Z" fill="#7e3219" stroke="#7e3219" stroke-width="0.6" stroke-linejoin="round"/>
<path d="M84.1 153.23 L85.1 147 L86.1 153.23 Z" fill="#7e3219" stroke="#7e3219" stroke-width="0.6" stroke-linejoin="round"/>
<path d="M87 153.29 L88 149 L89 153.29 Z" fill="#7e3219" stroke="#7e3219" stroke-width="0.6" stroke-linejoin="round"/>
<path d="M90.9 153.36 L91.9 144.7 L92.9 153.36 Z" fill="#7e3219" stroke="#7e3219" stroke-width="0.6" stroke-linejoin="round"/>
<path d="M95 153.43 L96 148 L97 153.43 Z" fill="#7e3219" stroke="#7e3219" stroke-width="0.6" stroke-linejoin="round"/>
<path d="M99 153.5 L100 146 L101 153.5 Z" fill="#7e3219" stroke="#7e3219" stroke-width="0.6" stroke-linejoin="round"/>
<path d="M103.2 156.3 L104.2 151.4 L105.2 156.3 Z" fill="#7e3219" stroke="#7e3219" stroke-width="0.6" stroke-linejoin="round"/>
<path d="M114.5 160.5 L115.5 149 L116.5 160.5 Z" fill="#7e3219" stroke="#7e3219" stroke-width="0.6" stroke-linejoin="round"/>
<path d="M120 160.5 L121 148.4 L122 160.5 Z" fill="#7e3219" stroke="#7e3219" stroke-width="0.6" stroke-linejoin="round"/>
<path d="M126 160.5 L127 151 L128 160.5 Z" fill="#7e3219" stroke="#7e3219" stroke-width="0.6" stroke-linejoin="round"/>
<path d="M132.4 155.1 L133.4 146 L134.4 155.1 Z" fill="#7e3219" stroke="#7e3219" stroke-width="0.6" stroke-linejoin="round"/>
<path d="M138.5 154.55 L139.5 148.4 L140.5 154.55 Z" fill="#7e3219" stroke="#7e3219" stroke-width="0.6" stroke-linejoin="round"/>
<path d="M142 155.1 L143 151 L144 155.1 Z" fill="#7e3219" stroke="#7e3219" stroke-width="0.6" stroke-linejoin="round"/>
<path d="M146 155.9 L147 147.8 L148 155.9 Z" fill="#7e3219" stroke="#7e3219" stroke-width="0.6" stroke-linejoin="round"/>
<path d="M149 156.5 L150 150.8 L151 156.5 Z" fill="#7e3219" stroke="#7e3219" stroke-width="0.6" stroke-linejoin="round"/>
<path d="M153.3 155.64 L154.3 150.8 L155.3 155.64 Z" fill="#7e3219" stroke="#7e3219" stroke-width="0.6" stroke-linejoin="round"/>
<path d="M157 154.9 L158 152 L159 154.9 Z" fill="#7e3219" stroke="#7e3219" stroke-width="0.6" stroke-linejoin="round"/>
<path d="M163 154.92 L164 150.8 L165 154.92 Z" fill="#7e3219" stroke="#7e3219" stroke-width="0.6" stroke-linejoin="round"/>
<path d="M168.7 155.5 L169.7 144 L170.7 155.5 Z" fill="#7e3219" stroke="#7e3219" stroke-width="0.6" stroke-linejoin="round"/>
<text x="281.25" y="101.8" font-size="6.3" text-anchor="middle" fill="#1a1a1a" stroke="#1a1a1a" stroke-width="0.08" font-family="Liberation Sans, sans-serif">MIOTA</text>
<path d="M203.5 111.5 H359" stroke="#5e5e5e" stroke-width="1"/>
<path d="M203.5 167.5 H359" stroke="#5e5e5e" stroke-width="1"/>
<path d="M204 111 V168" stroke="#3c3c3c" stroke-width="1"/>
<path d="M358.5 111 V168" stroke="#5e5e5e" stroke-width="1"/>
<path d="M201.4 167.5 H204" stroke="#4a4a4a" stroke-width="1"/>
<text x="200.1" y="169" font-size="5.6" text-anchor="end" fill="#2a2a2a" stroke="#2a2a2a" stroke-width="0.12" textLength="2.25" lengthAdjust="spacingAndGlyphs" font-family="Liberation Sans, sans-serif">0</text>
<path d="M201.4 148.83 H204" stroke="#4a4a4a" stroke-width="1"/>
<text x="200.1" y="150.33" font-size="5.6" text-anchor="end" fill="#2a2a2a" stroke="#2a2a2a" stroke-width="0.12" textLength="2.25" lengthAdjust="spacingAndGlyphs" font-family="Liberation Sans, sans-serif">1</text>
<path d="M201.4 130.17 H204" stroke="#4a4a4a" stroke-width="1"/>
<text x="200.1" y="131.67" font-size="5.6" text-anchor="end" fill="#2a2a2a" stroke="#2a2a2a" stroke-width="0.12" textLength="2.25" lengthAdjust="spacingAndGlyphs" font-family="Liberation Sans, sans-serif">2</text>
<path d="M201.4 111.5 H204" stroke="#4a4a4a" stroke-width="1"/>
<text x="200.1" y="113" font-size="5.6" text-anchor="end" fill="#2a2a2a" stroke="#2a2a2a" stroke-width="0.12" textLength="2.25" lengthAdjust="spacingAndGlyphs" font-family="Liberation Sans, sans-serif">3</text>
<path d="M208 167.5 V170.5 M212.54 167.5 V169.1 M217.08 167.5 V169.1 M221.62 167.5 V169.1 M226.16 167.5 V169.1 M230.7 167.5 V169.1 M235.24 167.5 V169.1 M239.78 167.5 V169.1 M244.32 167.5 V169.1 M248.86 167.5 V169.1 M253.4 167.5 V169.1 M257.94 167.5 V169.1 M262.48 167.5 V170.5 M267.02 167.5 V169.1 M271.56 167.5 V169.1 M276.1 167.5 V169.1 M280.64 167.5 V169.1 M285.18 167.5 V169.1 M289.72 167.5 V169.1 M294.26 167.5 V169.1 M298.8 167.5 V169.1 M303.34 167.5 V169.1 M307.88 167.5 V169.1 M312.42 167.5 V169.1 M316.96 167.5 V170.5 M321.5 167.5 V169.1 M326.04 167.5 V169.1 M330.58 167.5 V169.1 M335.12 167.5 V169.1 M339.66 167.5 V169.1 M344.2 167.5 V169.1 M348.74 167.5 V169.1 M353.28 167.5 V169.1 M357.82 167.5 V169.1" stroke="#444" stroke-width="0.9"/>
<text x="236.3" y="176.4" font-size="5.6" text-anchor="middle" fill="#2a2a2a" stroke="#2a2a2a" stroke-width="0.12" textLength="9.6" lengthAdjust="spacingAndGlyphs" font-family="Liberation Sans, sans-serif">2020</text>
<text x="290.6" y="176.4" font-size="5.6" text-anchor="middle" fill="#2a2a2a" stroke="#2a2a2a" stroke-width="0.12" textLength="9.6" lengthAdjust="spacingAndGlyphs" font-family="Liberation Sans, sans-serif">2021</text>
<text x="340.6" y="176.4" font-size="5.6" text-anchor="middle" fill="#2a2a2a" stroke="#2a2a2a" stroke-width="0.12" textLength="9.6" lengthAdjust="spacingAndGlyphs" font-family="Liberation Sans, sans-serif">2022</text>
<path d="M204.5 163.6 L205.33 163.82 L206.17 164.4 L207 164.4 L207.75 164.48 L208.5 163.39 L209.25 162.97 L210 163.6 L210.75 162.89 L211.5 162.22 L212.25 162.63 L213 161.6 L213.67 161.72 L214.33 161.37 L215 161 L215.67 161.43 L216.33 161.94 L217 162 L217.75 162 L218.5 163.1 L219.25 163.23 L220 164.4 L220.75 165.09 L221.5 163.65 L222.25 164.94 L223 164.4 L223.71 163.56 L224.43 164.49 L225.14 163.78 L225.86 163.78 L226.57 164.41 L227.29 162.9 L228 163.6 L228.75 162.8 L229.5 164.21 L230.25 163.47 L231 162.7 L231.75 164.18 L232.5 164.06 L233.25 162.59 L234 163.2 L234.75 162.92 L235.5 162.28 L236.25 162.43 L237 162.81 L237.75 161.88 L238.5 162.63 L239.25 161.39 L240 162 L240.8 160.64 L241.6 160.94 L242.4 159.6 L243.2 159.83 L244 160.4 L244.75 160.66 L245.5 161.36 L246.25 161.56 L247 162 L247.71 161.86 L248.43 161.32 L249.14 162.56 L249.86 163.02 L250.57 163.1 L251.29 162.62 L252 162.4 L252.71 162.16 L253.43 162.17 L254.14 162.72 L254.86 162.7 L255.57 161.74 L256.29 161.95 L257 162.4 L257.7 161.17 L258.4 160.4 L259.27 160.62 L260.13 161.33 L261 161 L261.75 160.75 L262.5 159.7 L263.25 160.8 L264 160 L264.67 159.55 L265.33 159.37 L266 159 L266.8 157.03 L267.6 156 L268.3 152.88 L269 150 L270 143 L271 140 L272 145 L272.8 143.31 L273.6 142 L274.3 140.96 L275 139 L275.8 136.82 L276.6 136 L277.3 133.08 L278 130 L279 120 L280 128 L281 125 L282 130 L283 135 L283.7 138.45 L284.4 143 L285 146.33 L285.6 149 L286.3 145.21 L287 143 L287.7 145.12 L288.4 148 L289.2 149.24 L290 151 L290.67 151.9 L291.33 151.57 L292 153 L292.8 151.93 L293.6 151 L294.3 151.8 L295 153.6 L295.7 151.43 L296.4 150 L297.2 147.96 L298 146 L298.7 138.78 L299.4 130 L300 133.47 L300.6 137 L301.3 140.28 L302 142 L303 138 L303.7 139.93 L304.4 143 L305.2 142.72 L306 141 L306.67 141.1 L307.33 141.14 L308 142 L308.67 141.76 L309.33 141.37 L310 140 L310.67 139.83 L311.33 140.94 L312 142 L312.8 140.96 L313.6 139 L314.3 140.73 L315 143 L315.7 143.56 L316.4 145 L317.2 142.16 L318 141 L318.8 143.72 L319.6 148 L320.3 149.7 L321 151 L321.67 151.16 L322.33 150.51 L323 149 L323.7 151.01 L324.4 153 L325.07 151.86 L325.73 152.03 L326.4 152 L327.2 153.49 L328 154 L328.8 153.76 L329.6 152.4 L330.3 151.94 L331 151 L331.7 152.04 L332.4 154 L333.07 154.71 L333.73 155.29 L334.4 156 L335.07 157.42 L335.73 158 L336.4 159.6 L337.27 160.83 L338.13 161.2 L339 161 L339.75 160.68 L340.5 161.15 L341.25 162.38 L342 162 L342.8 161.62 L343.6 162.75 L344.4 162.03 L345.2 162.33 L346 162 L346.8 162.15 L347.6 161.11 L348.4 161.03 L349.2 160.78 L350 161 L350.75 161.56 L351.5 161.83 L352.25 161.12 L353 162 L353.77 162.66 L354.53 161.86 L355.3 161.56 L356.07 161.89 L356.83 162.82 L357.6 162" fill="none" stroke="#7e3219" stroke-width="1.55" stroke-linejoin="round" stroke-linecap="round" />
<path d="M277.3 133.08 L278 130 L279 120 L280 128 L281 125 L282 130 L283 135" fill="none" stroke="#d81410" stroke-width="1.05" stroke-linejoin="round" stroke-linecap="round" />
<text x="469.75" y="101.8" font-size="6.3" text-anchor="middle" fill="#1a1a1a" stroke="#1a1a1a" stroke-width="0.08" font-family="Liberation Sans, sans-serif">POW</text>
<path d="M392 111.5 H547.5" stroke="#5e5e5e" stroke-width="1"/>
<path d="M392 167.5 H547.5" stroke="#5e5e5e" stroke-width="1"/>
<path d="M392.5 111 V168" stroke="#5e5e5e" stroke-width="1"/>
<path d="M547 111 V168" stroke="#3c3c3c" stroke-width="1"/>
<path d="M389.9 167.5 H392.5" stroke="#4a4a4a" stroke-width="1"/>
<text x="389" y="169" font-size="5.6" text-anchor="end" fill="#2a2a2a" stroke="#2a2a2a" stroke-width="0.12" textLength="7" lengthAdjust="spacingAndGlyphs" font-family="Liberation Sans, sans-serif">0.0</text>
<path d="M389.9 148.83 H392.5" stroke="#4a4a4a" stroke-width="1"/>
<text x="389" y="150.33" font-size="5.6" text-anchor="end" fill="#2a2a2a" stroke="#2a2a2a" stroke-width="0.12" textLength="7" lengthAdjust="spacingAndGlyphs" font-family="Liberation Sans, sans-serif">0.4</text>
<path d="M389.9 130.17 H392.5" stroke="#4a4a4a" stroke-width="1"/>
<text x="389" y="131.67" font-size="5.6" text-anchor="end" fill="#2a2a2a" stroke="#2a2a2a" stroke-width="0.12" textLength="7" lengthAdjust="spacingAndGlyphs" font-family="Liberation Sans, sans-serif">0.8</text>
<path d="M389.9 111.5 H392.5" stroke="#4a4a4a" stroke-width="1"/>
<text x="389" y="113" font-size="5.6" text-anchor="end" fill="#2a2a2a" stroke="#2a2a2a" stroke-width="0.12" textLength="7" lengthAdjust="spacingAndGlyphs" font-family="Liberation Sans, sans-serif">1.2</text>
<path d="M396.5 167.5 V170.5 M401.04 167.5 V169.1 M405.58 167.5 V169.1 M410.12 167.5 V169.1 M414.66 167.5 V169.1 M419.2 167.5 V169.1 M423.74 167.5 V169.1 M428.28 167.5 V169.1 M432.82 167.5 V169.1 M437.36 167.5 V169.1 M441.9 167.5 V169.1 M446.44 167.5 V169.1 M450.98 167.5 V170.5 M455.52 167.5 V169.1 M460.06 167.5 V169.1 M464.6 167.5 V169.1 M469.14 167.5 V169.1 M473.68 167.5 V169.1 M478.22 167.5 V169.1 M482.76 167.5 V169.1 M487.3 167.5 V169.1 M491.84 167.5 V169.1 M496.38 167.5 V169.1 M500.92 167.5 V169.1 M505.46 167.5 V170.5 M510 167.5 V169.1 M514.54 167.5 V169.1 M519.08 167.5 V169.1 M523.62 167.5 V169.1 M528.16 167.5 V169.1 M532.7 167.5 V169.1 M537.24 167.5 V169.1 M541.78 167.5 V169.1 M546.32 167.5 V169.1" stroke="#444" stroke-width="0.9"/>
<text x="424.8" y="176.4" font-size="5.6" text-anchor="middle" fill="#2a2a2a" stroke="#2a2a2a" stroke-width="0.12" textLength="9.6" lengthAdjust="spacingAndGlyphs" font-family="Liberation Sans, sans-serif">2020</text>
<text x="479.1" y="176.4" font-size="5.6" text-anchor="middle" fill="#2a2a2a" stroke="#2a2a2a" stroke-width="0.12" textLength="9.6" lengthAdjust="spacingAndGlyphs" font-family="Liberation Sans, sans-serif">2021</text>
<text x="529.1" y="176.4" font-size="5.6" text-anchor="middle" fill="#2a2a2a" stroke="#2a2a2a" stroke-width="0.12" textLength="9.6" lengthAdjust="spacingAndGlyphs" font-family="Liberation Sans, sans-serif">2022</text>
<path d="M392.5 165 L393.2 164.63 L393.9 165.39 L394.6 165.43 L395.3 165.75 L396 165.2 L396.8 164.63 L397.6 164.66 L398.4 164.48 L399.2 164.57 L400 165 L400.67 165.06 L401.33 163.7 L402 164 L402.67 163.52 L403.33 162.45 L404 162.4 L404.67 162.05 L405.33 162.28 L406 162.4 L406.8 163.77 L407.6 164 L408.3 164.68 L409 165 L409.75 164.02 L410.5 164.32 L411.25 163.95 L412 164.4 L412.8 164.87 L413.6 164.61 L414.4 164.44 L415.2 164.31 L416 163.6 L416.8 163.9 L417.6 164.12 L418.4 163.74 L419.2 162.71 L420 163 L420.71 163.54 L421.43 162.86 L422.14 163.26 L422.86 162.88 L423.57 162.59 L424.29 162.43 L425 162.6 L425.71 162.45 L426.43 162.23 L427.14 161.86 L427.86 163.03 L428.57 162.96 L429.29 163.25 L430 162.4 L430.67 162.46 L431.33 161.96 L432 161.6 L432.67 162.29 L433.33 161.51 L434 162.4 L434.8 162.94 L435.6 162.78 L436.4 162.57 L437.2 162.85 L438 163.6 L438.75 163.64 L439.5 163.18 L440.25 163.53 L441 163.78 L441.75 163.42 L442.5 162.97 L443.25 163.58 L444 163.6 L444.8 162.99 L445.6 162.83 L446.4 162.6 L447.2 162.73 L448 162.8 L448.8 162.03 L449.6 162.98 L450.4 163.45 L451.2 162.45 L452 162.6 L452.72 162.77 L453.44 162.94 L454.16 161.22 L454.88 161.19 L455.6 161.6 L456.3 161.12 L457 159.6 L457.67 158.64 L458.33 156.77 L459 155 L459.67 153.55 L460.33 153.12 L461 152.4 L461.67 151.56 L462.33 150.12 L463 148 L463.67 144.85 L464.33 140.16 L465 137 L466 140 L467 143 L468 148 L469 145 L470 143 L471 150 L472 148 L473 153 L473.7 154.6 L474.4 155 L475.2 155.29 L476 156 L476.7 158.37 L477.4 160 L478.2 157.88 L479 157 L479.67 158.47 L480.33 158.51 L481 159 L481.7 157.88 L482.4 156 L483.2 154.01 L484 153 L484.67 152.87 L485.33 152.47 L486 152 L486.7 151.16 L487.4 150 L488.4 144.4 L489.4 150 L490.2 148.76 L491 148 L492 153 L492.8 151.39 L493.6 149 L494.3 149.23 L495 150 L495.7 148.65 L496.4 148 L497.2 145.93 L498 145 L499 136 L500 131 L501 139 L502 146 L502.8 147.31 L503.6 148 L504.3 146.34 L505 146 L506 132 L507 139 L508 138 L509 143 L510 139 L510.7 139.53 L511.4 141 L512 138.77 L512.6 138 L513.3 141.74 L514 145 L514.8 144.1 L515.6 143 L516.3 144.07 L517 145 L517.8 142.72 L518.6 142 L519.6 135 L520.3 138.4 L521 142 L521.7 142.23 L522.4 143 L523.2 145.81 L524 150 L524.7 153.16 L525.4 158 L526.2 157.85 L527 156 L527.67 154.36 L528.33 153.66 L529 153 L529.7 154.61 L530.4 157 L531.2 157.17 L532 157 L532.67 155.81 L533.33 156.02 L534 155.6 L534.67 155.51 L535.33 156.44 L536 156 L536.67 154.83 L537.33 155.05 L538 155 L538.67 155.66 L539.33 157.13 L540 157 L540.67 157.36 L541.33 157.62 L542 158 L542.67 158.15 L543.33 157.39 L544 157.6 L544.67 157.07 L545.33 158.14 L546 158.4" fill="none" stroke="#7e3219" stroke-width="1.55" stroke-linejoin="round" stroke-linecap="round" />
<path d="M462.33 150.12 L463 148 L463.67 144.85 L464.33 140.16 L465 137 L466 140 L467 143 L468 148 L469 145 L470 143 L471 150 L472 148" fill="none" stroke="#d81410" stroke-width="1.05" stroke-linejoin="round" stroke-linecap="round" />
<path d="M499 136 L500 131 L501 139 L502 146 L502.8 147.31 L503.6 148 L504.3 146.34 L505 146 L506 132 L507 139 L508 138 L509 143 L510 139 L510.7 139.53 L511.4 141 L512 138.77" fill="none" stroke="#d81410" stroke-width="1.05" stroke-linejoin="round" stroke-linecap="round" />
<text x="92.75" y="195.6" font-size="6.3" text-anchor="middle" fill="#1a1a1a" stroke="#1a1a1a" stroke-width="0.08" font-family="Liberation Sans, sans-serif">SNC</text>
<path d="M15 205.3 H170.5" stroke="#5e5e5e" stroke-width="1"/>
<path d="M15 261.3 H170.5" stroke="#5e5e5e" stroke-width="1"/>
<path d="M15.5 204.8 V261.8" stroke="#5e5e5e" stroke-width="1"/>
<path d="M170 204.8 V261.8" stroke="#3c3c3c" stroke-width="1"/>
<path d="M12.9 261.3 H15.5" stroke="#4a4a4a" stroke-width="1"/>
<text x="12" y="262.8" font-size="5.6" text-anchor="end" fill="#2a2a2a" stroke="#2a2a2a" stroke-width="0.12" textLength="9.25" lengthAdjust="spacingAndGlyphs" font-family="Liberation Sans, sans-serif">0.00</text>
<path d="M12.9 247.3 H15.5" stroke="#4a4a4a" stroke-width="1"/>
<text x="12" y="248.8" font-size="5.6" text-anchor="end" fill="#2a2a2a" stroke="#2a2a2a" stroke-width="0.12" textLength="9.25" lengthAdjust="spacingAndGlyphs" font-family="Liberation Sans, sans-serif">0.02</text>
<path d="M12.9 233.3 H15.5" stroke="#4a4a4a" stroke-width="1"/>
<text x="12" y="234.8" font-size="5.6" text-anchor="end" fill="#2a2a2a" stroke="#2a2a2a" stroke-width="0.12" textLength="9.25" lengthAdjust="spacingAndGlyphs" font-family="Liberation Sans, sans-serif">0.04</text>
<path d="M12.9 219.3 H15.5" stroke="#4a4a4a" stroke-width="1"/>
<text x="12" y="220.8" font-size="5.6" text-anchor="end" fill="#2a2a2a" stroke="#2a2a2a" stroke-width="0.12" textLength="9.25" lengthAdjust="spacingAndGlyphs" font-family="Liberation Sans, sans-serif">0.06</text>
<path d="M12.9 205.3 H15.5" stroke="#4a4a4a" stroke-width="1"/>
<text x="12" y="206.8" font-size="5.6" text-anchor="end" fill="#2a2a2a" stroke="#2a2a2a" stroke-width="0.12" textLength="9.25" lengthAdjust="spacingAndGlyphs" font-family="Liberation Sans, sans-serif">0.08</text>
<path d="M19.5 261.3 V264.3 M24.04 261.3 V262.9 M28.58 261.3 V262.9 M33.12 261.3 V262.9 M37.66 261.3 V262.9 M42.2 261.3 V262.9 M46.74 261.3 V262.9 M51.28 261.3 V262.9 M55.82 261.3 V262.9 M60.36 261.3 V262.9 M64.9 261.3 V262.9 M69.44 261.3 V262.9 M73.98 261.3 V264.3 M78.52 261.3 V262.9 M83.06 261.3 V262.9 M87.6 261.3 V262.9 M92.14 261.3 V262.9 M96.68 261.3 V262.9 M101.22 261.3 V262.9 M105.76 261.3 V262.9 M110.3 261.3 V262.9 M114.84 261.3 V262.9 M119.38 261.3 V262.9 M123.92 261.3 V262.9 M128.46 261.3 V264.3 M133 261.3 V262.9 M137.54 261.3 V262.9 M142.08 261.3 V262.9 M146.62 261.3 V262.9 M151.16 261.3 V262.9 M155.7 261.3 V262.9 M160.24 261.3 V262.9 M164.78 261.3 V262.9 M169.32 261.3 V262.9" stroke="#444" stroke-width="0.9"/>
<text x="47.8" y="270.2" font-size="5.6" text-anchor="middle" fill="#2a2a2a" stroke="#2a2a2a" stroke-width="0.12" textLength="9.6" lengthAdjust="spacingAndGlyphs" font-family="Liberation Sans, sans-serif">2020</text>
<text x="102.1" y="270.2" font-size="5.6" text-anchor="middle" fill="#2a2a2a" stroke="#2a2a2a" stroke-width="0.12" textLength="9.6" lengthAdjust="spacingAndGlyphs" font-family="Liberation Sans, sans-serif">2021</text>
<text x="152.1" y="270.2" font-size="5.6" text-anchor="middle" fill="#2a2a2a" stroke="#2a2a2a" stroke-width="0.12" textLength="9.6" lengthAdjust="spacingAndGlyphs" font-family="Liberation Sans, sans-serif">2022</text>
<path d="M15.5 249 L16.33 248.46 L17.17 249.61 L18 249.4 L18.67 250.06 L19.33 250.95 L20 250.6 L20.67 249.54 L21.33 248.85 L22 248.6 L22.67 247.66 L23.33 246.2 L24 244.6 L24.67 243.4 L25.33 243.18 L26 242 L26.8 239.82 L27.6 238 L28.3 237.97 L29 237 L30 240 L30.7 240.85 L31.4 243 L32.4 252 L33.2 250.83 L34 250.6 L34.67 250.88 L35.33 249.56 L36 249.4 L36.67 248.19 L37.33 248.32 L38 247 L39 234.6 L39.6 246 L40.4 245.76 L41.2 244.47 L42 244.6 L42.67 244.15 L43.33 243.81 L44 243 L44.67 242.1 L45.33 242.59 L46 242 L46.7 240.66 L47.4 240.6 L48 234 L48.6 241 L49.3 237.22 L50 234 L50.6 231.4 L51.6 237 L52.3 235.29 L53 235 L53.67 235.03 L54.33 236.88 L55 236.6 L55.67 237.24 L56.33 239.03 L57 239 L57.67 240.23 L58.33 241.85 L59 243 L59.67 243.97 L60.33 243.98 L61 244 L61.67 243.01 L62.33 243.48 L63 243 L63.67 242.23 L64.33 240.46 L65 240 L65.67 237.98 L66.33 237.97 L67 236 L67.67 235.36 L68.33 234.15 L69 234 L69.67 234.92 L70.33 235.52 L71 237 L71.75 238.01 L72.5 238 L73.25 237 L74 236 L74.8 229.82 L75.6 225 L76.3 219.04 L77 212 L78 224 L78.8 226.8 L79.6 231 L80.3 226.63 L81 223 L81.67 219.86 L82.33 218.74 L83 216 L83.7 223.34 L84.4 232 L85.2 229.54 L86 227 L86.8 224.31 L87.6 223 L88.3 218.97 L89 215 L90 214 L91 217 L92 229 L92.8 226.82 L93.6 224 L94.3 227.56 L95 231 L95.7 234.42 L96.4 238 L97.2 237.47 L98 237 L98.8 237.89 L99.6 239 L100.3 240.66 L101 242 L101.67 241.64 L102.33 242.62 L103 243 L103.67 241.55 L104.33 241.62 L105 240 L105.67 239.08 L106.33 235.93 L107 235 L107.67 232.73 L108.33 232.01 L109 230 L109.67 231.79 L110.33 232.52 L111 235 L111.67 235.01 L112.33 235.09 L113 234 L113.67 234.87 L114.33 235.74 L115 237 L116 242 L116.67 240.12 L117.33 238.75 L118 236 L118.67 236.26 L119.33 237 L120 238 L120.67 237.14 L121.33 237.55 L122 237 L122.67 237.75 L123.33 238.19 L124 239.4 L124.67 239.74 L125.33 239.68 L126 241 L126.67 242.01 L127.33 244.49 L128 245 L128.67 243.48 L129.33 241.3 L130 240 L130.67 241.74 L131.33 241.76 L132 243 L132.67 243.11 L133.33 243.28 L134 244.6 L134.67 244.13 L135.33 244.36 L136 245 L136.67 243.87 L137.33 244.3 L138 243 L138.67 243.13 L139.33 243.64 L140 244.6 L140.67 244.11 L141.33 243.98 L142 242.6 L142.67 242.71 L143.33 243.98 L144 244 L144.67 244.11 L145.33 244.77 L146 245 L146.67 244.5 L147.33 244.42 L148 243 L148.8 245.94 L149.6 248 L150.3 245.51 L151 243 L151.8 243.08 L152.6 242 L153.3 242.77 L154 244 L154.8 245.8 L155.6 248 L156.3 249.78 L157 250 L158 240 L159 244 L159.67 243.41 L160.33 243.13 L161 242 L161.67 242.02 L162.33 243.37 L163 243 L163.67 243.72 L164.33 243.64 L165 244.6 L165.67 245.8 L166.33 245.48 L167 246 L167.83 245.26 L168.67 244.66 L169.5 244.6" fill="none" stroke="#7e3219" stroke-width="1.55" stroke-linejoin="round" stroke-linecap="round" />
<path d="M76.3 219.04 L77 212 L78 224 L78.8 226.8 L79.6 231 L80.3 226.63 L81 223 L81.67 219.86 L82.33 218.74 L83 216 L83.7 223.34 L84.4 232 L85.2 229.54 L86 227 L86.8 224.31 L87.6 223 L88.3 218.97 L89 215 L90 214 L91 217 L92 229 L92.8 226.82 L93.6 224" fill="none" stroke="#d81410" stroke-width="1.05" stroke-linejoin="round" stroke-linecap="round" />
<text x="281.25" y="195.6" font-size="6.3" text-anchor="middle" fill="#1a1a1a" stroke="#1a1a1a" stroke-width="0.08" font-family="Liberation Sans, sans-serif">UEPU</text>
<path d="M203.5 205.3 H359" stroke="#5e5e5e" stroke-width="1"/>
<path d="M203.5 261.3 H359" stroke="#5e5e5e" stroke-width="1"/>
<path d="M204 204.8 V261.8" stroke="#3c3c3c" stroke-width="1"/>
<path d="M358.5 204.8 V261.8" stroke="#5e5e5e" stroke-width="1"/>
<path d="M201.4 261.3 H204" stroke="#4a4a4a" stroke-width="1"/>
<text x="200.1" y="262.8" font-size="5.6" text-anchor="end" fill="#2a2a2a" stroke="#2a2a2a" stroke-width="0.12" textLength="2.25" lengthAdjust="spacingAndGlyphs" font-family="Liberation Sans, sans-serif">0</text>
<path d="M201.4 247.3 H204" stroke="#4a4a4a" stroke-width="1"/>
<text x="200.1" y="248.8" font-size="5.6" text-anchor="end" fill="#2a2a2a" stroke="#2a2a2a" stroke-width="0.12" textLength="6.75" lengthAdjust="spacingAndGlyphs" font-family="Liberation Sans, sans-serif">250</text>
<path d="M201.4 233.3 H204" stroke="#4a4a4a" stroke-width="1"/>
<text x="200.1" y="234.8" font-size="5.6" text-anchor="end" fill="#2a2a2a" stroke="#2a2a2a" stroke-width="0.12" textLength="6.75" lengthAdjust="spacingAndGlyphs" font-family="Liberation Sans, sans-serif">500</text>
<path d="M201.4 219.3 H204" stroke="#4a4a4a" stroke-width="1"/>
<text x="200.1" y="220.8" font-size="5.6" text-anchor="end" fill="#2a2a2a" stroke="#2a2a2a" stroke-width="0.12" textLength="6.75" lengthAdjust="spacingAndGlyphs" font-family="Liberation Sans, sans-serif">750</text>
<path d="M201.4 205.3 H204" stroke="#4a4a4a" stroke-width="1"/>
<text x="200.1" y="206.8" font-size="5.6" text-anchor="end" fill="#2a2a2a" stroke="#2a2a2a" stroke-width="0.12" textLength="9" lengthAdjust="spacingAndGlyphs" font-family="Liberation Sans, sans-serif">1000</text>
<path d="M208 261.3 V264.3 M212.54 261.3 V262.9 M217.08 261.3 V262.9 M221.62 261.3 V262.9 M226.16 261.3 V262.9 M230.7 261.3 V262.9 M235.24 261.3 V262.9 M239.78 261.3 V262.9 M244.32 261.3 V262.9 M248.86 261.3 V262.9 M253.4 261.3 V262.9 M257.94 261.3 V262.9 M262.48 261.3 V264.3 M267.02 261.3 V262.9 M271.56 261.3 V262.9 M276.1 261.3 V262.9 M280.64 261.3 V262.9 M285.18 261.3 V262.9 M289.72 261.3 V262.9 M294.26 261.3 V262.9 M298.8 261.3 V262.9 M303.34 261.3 V262.9 M307.88 261.3 V262.9 M312.42 261.3 V262.9 M316.96 261.3 V264.3 M321.5 261.3 V262.9 M326.04 261.3 V262.9 M330.58 261.3 V262.9 M335.12 261.3 V262.9 M339.66 261.3 V262.9 M344.2 261.3 V262.9 M348.74 261.3 V262.9 M353.28 261.3 V262.9 M357.82 261.3 V262.9" stroke="#444" stroke-width="0.9"/>
<text x="236.3" y="270.2" font-size="5.6" text-anchor="middle" fill="#2a2a2a" stroke="#2a2a2a" stroke-width="0.12" textLength="9.6" lengthAdjust="spacingAndGlyphs" font-family="Liberation Sans, sans-serif">2020</text>
<text x="290.6" y="270.2" font-size="5.6" text-anchor="middle" fill="#2a2a2a" stroke="#2a2a2a" stroke-width="0.12" textLength="9.6" lengthAdjust="spacingAndGlyphs" font-family="Liberation Sans, sans-serif">2021</text>
<text x="340.6" y="270.2" font-size="5.6" text-anchor="middle" fill="#2a2a2a" stroke="#2a2a2a" stroke-width="0.12" textLength="9.6" lengthAdjust="spacingAndGlyphs" font-family="Liberation Sans, sans-serif">2022</text>
<path d="M204.5 249.33 L205 249.54 L205.5 249.91 L206 249.08 L206.5 249.44 L207 250.49 L207.5 250.29 L208 250.03 L208.5 250.04 L209 249.91 L209.5 250.13 L210 250.27 L210.5 249.65 L211 250.46 L211.5 250.28 L212 250.29 L212.5 249.86 L213 249.95 L213.5 250.58 L214 249.56 L214.5 250.74 L215 250.28 L215.5 250.13 L216 249.93 L216.5 250.28 L217 250.44 L217.5 250.7 L218 247.27 L218.5 244.37 L219 241.27 L219.5 237.25 L220 233.66 L220.5 229.15 L221 226.2 L221.5 224.81 L222 224.95 L222.5 224.47 L223 224.97 L223.5 224.3 L224 224.13 L224.5 224.05 L225 223.21 L225.5 223.02 L226 223.51 L226.5 223.03 L227 223.69 L227.5 222.98 L228 223.44 L228.5 225.76 L229 226.64 L229.5 228.15 L230 229.28 L230.5 231.07 L231 231.6 L231.5 232.38 L232 233.65 L232.5 233.28 L233 233.33 L233.5 233 L234 234.09 L234.5 234.32 L235 234.63 L235.5 234.9 L236 234.17 L236.5 235.32 L237 234.96 L237.5 235.67 L238 235.58 L238.5 235.82 L239 235.96 L239.5 236.85 L240 236.8 L240.5 236.58 L241 237.43 L241.5 236.71 L242 237.58 L242.5 237.2 L243 238.07 L243.5 238.25 L244 237.67 L244.5 238.59 L245 237.82 L245.5 238.39 L246 238.93 L246.5 238.21 L247 239.23 L247.5 239.38 L248 238.58 L248.5 239.66 L249 239.18 L249.5 239.44 L250 240.29 L250.5 239.13 L251 240.48 L251.5 239.98 L252 240.8 L252.5 240.67 L253 240.68 L253.5 240.28 L254 240.32 L254.5 240.95 L255 241.38 L255.5 241.64 L256 241.79 L256.5 241.88 L257 240.77 L257.5 241.12 L258 241.93 L258.5 241.7 L259 242.11 L259.5 241.73 L260 242.17 L260.5 242.12 L261 242.5 L261.5 242.11 L262 243.29 L262.5 243.65 L263 243.88 L263.5 243.57 L264 244.38 L264.5 245.09 L265 246.09 L265.5 245.58 L266 246.17 L266.5 247.37 L267 246.13 L267.5 246.46 L268 246.52 L268.5 246.85 L269 246.31 L269.5 246.22 L270 247.05 L270.5 246.17 L271 246.59 L271.5 247.17 L272 247.2 L272.5 246.69 L273 246.78 L273.5 246.68 L274 246.75 L274.5 246.86 L275 246.21 L275.5 246.72 L276 247.44 L276.5 247.39 L277 246.51 L277.5 246.32 L278 247.08 L278.5 247.27 L279 247.19 L279.5 246.32 L280 246.18 L280.5 247.27 L281 246.32 L281.5 247.43 L282 246.24 L282.5 246.38 L283 247.16 L283.5 247.55 L284 247.35 L284.5 247.31 L285 247.24 L285.5 247.3 L286 246.34 L286.5 247.05 L287 246.6 L287.5 246.62 L288 247.33 L288.5 246.8 L289 246.78 L289.5 246.41 L290 247.67 L290.5 247.36 L291 247.28 L291.5 247.27 L292 247.01 L292.5 247.59 L293 246.48 L293.5 247.63 L294 246.97 L294.5 246.62 L295 246.65 L295.5 246.81 L296 247.35 L296.5 246.8 L297 246.97 L297.5 247.22 L298 246.71 L298.5 247.08 L299 246.66 L299.5 246.87 L300 246.63 L300.5 247.11 L301 247.1 L301.5 247.6 L302 247.13 L302.5 247.66 L303 247.5 L303.5 247.13 L304 246.81 L304.5 247.43 L305 247.69 L305.5 246.77 L306 246.77 L306.5 247.71 L307 246.88 L307.5 246.96 L308 247.55 L308.5 246.67 L309 246.95 L309.5 247.36 L310 246.57 L310.5 247.17 L311 246.86 L311.5 247.91 L312 247.34 L312.5 246.97 L313 246.75 L313.5 247.87 L314 247.93 L314.5 247.7 L315 247.03 L315.5 247.54 L316 247 L316.5 247.99 L317 247.4 L317.5 247.34 L318 247.66 L318.5 247.46 L319 247.57 L319.5 246.93 L320 247.6 L320.5 247.99 L321 247.16 L321.5 247.54 L322 247.62 L322.5 247.15 L323 246.82 L323.5 247.78 L324 247.77 L324.5 247.11 L325 247.97 L325.5 247.46 L326 247.84 L326.5 247.23 L327 247.53 L327.5 247.27 L328 246.94 L328.5 246.93 L329 247.89 L329.5 247.06 L330 247.39 L330.5 247.96 L331 247.65 L331.5 247.39 L332 247.57 L332.5 247.12 L333 247.94 L333.5 247.98 L334 248.19 L334.5 247.64 L335 247.76 L335.5 247.84 L336 248.09 L336.5 247.73 L337 246.9 L337.5 247.83 L338 247.64 L338.5 247.19 L339 246.98 L339.5 247.83 L340 247.73 L340.5 248.19 L341 248.06 L341.5 247.03 L342 247.29 L342.5 247.72 L343 247.43 L343.5 247.95 L344 248.19 L344.5 248.29 L345 248.04 L345.5 248.33 L346 248.61 L346.5 248.66 L347 247.95 L347.5 248.11 L348 248.43 L348.5 249.38 L349 249.19 L349.5 249.23 L350 250.06 L350.5 249.37 L351 250.23 L351.5 249.86 L352 250.29 L352.5 249.57 L353 250.78 L353.5 250.44 L354 250.2 L354.5 250.59 L355 250.17 L355.5 250.48 L356 250.44 L356.5 251.1 L357 251.57 L357.5 251.26 L357.5 257.37 L357 257.69 L356.5 257.32 L356 257.67 L355.5 257.13 L355 257.63 L354.5 257.58 L354 257.57 L353.5 257.54 L353 257.57 L352.5 257.51 L352 257.49 L351.5 256.97 L351 257.28 L350.5 255.79 L350 257.21 L349.5 257.08 L349 256.61 L348.5 256.9 L348 256.98 L347.5 257.43 L347 257.5 L346.5 256.98 L346 257.07 L345.5 255.57 L345 257.21 L344.5 256.33 L344 256.65 L343.5 257.4 L343 255.76 L342.5 255.52 L342 257.4 L341.5 257.12 L341 256.54 L340.5 257.34 L340 255.35 L339.5 256.93 L339 256.81 L338.5 256.73 L338 256.87 L337.5 256.8 L337 256.01 L336.5 256.15 L336 256.79 L335.5 257.09 L335 255.18 L334.5 256.52 L334 256.94 L333.5 255.51 L333 257.24 L332.5 257.1 L332 256.52 L331.5 257.13 L331 257.16 L330.5 255.97 L330 255.97 L329.5 257.1 L329 256.01 L328.5 257.13 L328 256.99 L327.5 255.56 L327 255.82 L326.5 256.77 L326 256.84 L325.5 256.97 L325 257.09 L324.5 256.76 L324 256.79 L323.5 256.42 L323 255.93 L322.5 256.98 L322 256.58 L321.5 256.35 L321 255.88 L320.5 256.97 L320 256.97 L319.5 255.25 L319 256.11 L318.5 256.9 L318 255.95 L317.5 256.68 L317 256.92 L316.5 255.94 L316 255.68 L315.5 255.49 L315 255.91 L314.5 255.64 L314 256.58 L313.5 256.86 L313 255.14 L312.5 255.89 L312 256.82 L311.5 256.51 L311 256.08 L310.5 256.31 L310 256.57 L309.5 255.8 L309 256.52 L308.5 255.26 L308 256.76 L307.5 256.38 L307 255.12 L306.5 254.97 L306 255.65 L305.5 256.59 L305 256.6 L304.5 254.69 L304 255.57 L303.5 256.58 L303 254.66 L302.5 256.33 L302 255.53 L301.5 255.98 L301 255.12 L300.5 255.85 L300 254.47 L299.5 255.3 L299 256.33 L298.5 256.28 L298 256.59 L297.5 256.43 L297 254.97 L296.5 255.47 L296 254.56 L295.5 256.43 L295 255.78 L294.5 256.37 L294 255.38 L293.5 255.92 L293 255.27 L292.5 256.44 L292 255.57 L291.5 255.89 L291 255.21 L290.5 256.4 L290 256.07 L289.5 255.89 L289 256.04 L288.5 256.07 L288 256.07 L287.5 255.56 L287 256.32 L286.5 254.87 L286 256.14 L285.5 254.44 L285 256.33 L284.5 255.77 L284 256.33 L283.5 255.59 L283 254.78 L282.5 254.74 L282 254.74 L281.5 256.22 L281 256.26 L280.5 256.27 L280 256.21 L279.5 255.49 L279 255.54 L278.5 255.25 L278 254.49 L277.5 254.76 L277 255.73 L276.5 254.82 L276 255.88 L275.5 254.47 L275 255.77 L274.5 255.09 L274 256.02 L273.5 255.08 L273 255.04 L272.5 255.82 L272 255.26 L271.5 255.78 L271 255.29 L270.5 256.01 L270 255.76 L269.5 255.39 L269 255.82 L268.5 255.76 L268 255.12 L267.5 255.81 L267 255.46 L266.5 254.4 L266 255.99 L265.5 255.46 L265 255 L264.5 254.01 L264 253.39 L263.5 253.34 L263 251.36 L262.5 252.5 L262 250.57 L261.5 250.53 L261 250.35 L260.5 251.64 L260 250.29 L259.5 249.91 L259 251.2 L258.5 249.42 L258 250.67 L257.5 250.98 L257 249.87 L256.5 250.27 L256 249.14 L255.5 249.76 L255 250.72 L254.5 250.46 L254 250.54 L253.5 250.2 L253 249.77 L252.5 248.73 L252 250.07 L251.5 248.1 L251 247.86 L250.5 247.95 L250 249.76 L249.5 249.36 L249 249.25 L248.5 249.38 L248 249.27 L247.5 249.1 L247 248.37 L246.5 249.01 L246 247.54 L245.5 248.92 L245 248.88 L244.5 248.37 L244 247.8 L243.5 248.57 L243 248.12 L242.5 248.21 L242 248.34 L241.5 247.86 L241 248.06 L240.5 247.98 L240 246.81 L239.5 247.82 L239 247.34 L238.5 246.7 L238 247.09 L237.5 246.9 L237 246.5 L236.5 244.74 L236 246.6 L235.5 245.23 L235 245.98 L234.5 245.6 L234 245.9 L233.5 244.9 L233 244.82 L232.5 245.38 L232 244.61 L231.5 244.84 L231 243.19 L230.5 242.93 L230 241.81 L229.5 241.03 L229 240.38 L228.5 239.82 L228 237.28 L227.5 237.64 L227 239.25 L226.5 238.93 L226 239.3 L225.5 239.29 L225 237.11 L224.5 237.18 L224 239.06 L223.5 239.3 L223 239.3 L222.5 238 L222 239.25 L221.5 237.89 L221 237.14 L220.5 241.97 L220 243.93 L219.5 247.23 L219 249.29 L218.5 250.95 L218 255.94 L217.5 256.84 L217 257.1 L216.5 257.2 L216 258.25 L215.5 258.67 L215 258.8 L214.5 258.58 L214 258.9 L213.5 258.98 L213 257.07 L212.5 257.59 L212 257.13 L211.5 257.3 L211 258.51 L210.5 259 L210 258.23 L209.5 258.99 L209 257.79 L208.5 257.34 L208 258.95 L207.5 258.5 L207 258.51 L206.5 258.88 L206 257.46 L205.5 258.99 L205 258.2 L204.5 258.35Z" fill="#ee1010" stroke="#ee1010" stroke-width="0.4"/>
<path d="M203.73 250.5 L204.53 245.27 L205.33 250.5 Z" fill="#7e3219" stroke="#7e3219" stroke-width="0.5"/>
<path d="M220.74 226.16 L221.54 223.08 L222.34 226.16 Z" fill="#7e3219" stroke="#7e3219" stroke-width="0.5"/>
<path d="M224.39 224.03 L225.19 218.77 L225.99 224.03 Z" fill="#7e3219" stroke="#7e3219" stroke-width="0.5"/>
<path d="M229.52 230.79 L230.32 227.58 L231.12 230.79 Z" fill="#7e3219" stroke="#7e3219" stroke-width="0.5"/>
<path d="M237.04 236.49 L237.84 231.63 L238.64 236.49 Z" fill="#7e3219" stroke="#7e3219" stroke-width="0.5"/>
<path d="M241.08 238.06 L241.88 235.09 L242.68 238.06 Z" fill="#7e3219" stroke="#7e3219" stroke-width="0.5"/>
<path d="M245.11 239.27 L245.91 234.88 L246.71 239.27 Z" fill="#7e3219" stroke="#7e3219" stroke-width="0.5"/>
<path d="M247.72 240.05 L248.52 236.7 L249.32 240.05 Z" fill="#7e3219" stroke="#7e3219" stroke-width="0.5"/>
<path d="M252.52 241.33 L253.32 237.67 L254.12 241.33 Z" fill="#7e3219" stroke="#7e3219" stroke-width="0.5"/>
<path d="M254.92 241.93 L255.72 239.21 L256.52 241.93 Z" fill="#7e3219" stroke="#7e3219" stroke-width="0.5"/>
<path d="M265.02 247.32 L265.82 244.35 L266.62 247.32 Z" fill="#7e3219" stroke="#7e3219" stroke-width="0.5"/>
<path d="M272.89 247.6 L273.69 243.8 L274.49 247.6 Z" fill="#7e3219" stroke="#7e3219" stroke-width="0.5"/>
<path d="M276.34 247.64 L277.14 243.29 L277.94 247.64 Z" fill="#7e3219" stroke="#7e3219" stroke-width="0.5"/>
<path d="M278.39 247.67 L279.19 243.08 L279.99 247.67 Z" fill="#7e3219" stroke="#7e3219" stroke-width="0.5"/>
<path d="M283.38 247.73 L284.18 244.08 L284.98 247.73 Z" fill="#7e3219" stroke="#7e3219" stroke-width="0.5"/>
<path d="M291.5 247.83 L292.3 244.65 L293.1 247.83 Z" fill="#7e3219" stroke="#7e3219" stroke-width="0.5"/>
<path d="M294.01 247.86 L294.81 244.7 L295.61 247.86 Z" fill="#7e3219" stroke="#7e3219" stroke-width="0.5"/>
<path d="M297.28 247.91 L298.08 242.66 L298.88 247.91 Z" fill="#7e3219" stroke="#7e3219" stroke-width="0.5"/>
<path d="M298.57 247.92 L299.37 245.16 L300.17 247.92 Z" fill="#7e3219" stroke="#7e3219" stroke-width="0.5"/>
<path d="M300.23 247.94 L301.03 244 L301.83 247.94 Z" fill="#7e3219" stroke="#7e3219" stroke-width="0.5"/>
<path d="M302.21 247.97 L303.01 243.98 L303.81 247.97 Z" fill="#7e3219" stroke="#7e3219" stroke-width="0.5"/>
<path d="M308.63 248.05 L309.43 242.81 L310.23 248.05 Z" fill="#7e3219" stroke="#7e3219" stroke-width="0.5"/>
<path d="M309.89 248.07 L310.69 243.37 L311.49 248.07 Z" fill="#7e3219" stroke="#7e3219" stroke-width="0.5"/>
<path d="M312.24 248.1 L313.04 243.84 L313.84 248.1 Z" fill="#7e3219" stroke="#7e3219" stroke-width="0.5"/>
<path d="M314.25 248.12 L315.05 244.97 L315.85 248.12 Z" fill="#7e3219" stroke="#7e3219" stroke-width="0.5"/>
<path d="M316.52 248.15 L317.32 243.61 L318.12 248.15 Z" fill="#7e3219" stroke="#7e3219" stroke-width="0.5"/>
<path d="M318.04 248.17 L318.84 245.21 L319.64 248.17 Z" fill="#7e3219" stroke="#7e3219" stroke-width="0.5"/>
<path d="M322.15 248.22 L322.95 245.31 L323.75 248.22 Z" fill="#7e3219" stroke="#7e3219" stroke-width="0.5"/>
<path d="M331.15 248.33 L331.95 245.61 L332.75 248.33 Z" fill="#7e3219" stroke="#7e3219" stroke-width="0.5"/>
<path d="M335.44 248.39 L336.24 245.42 L337.04 248.39 Z" fill="#7e3219" stroke="#7e3219" stroke-width="0.5"/>
<path d="M344.96 248.8 L345.76 245.19 L346.56 248.8 Z" fill="#7e3219" stroke="#7e3219" stroke-width="0.5"/>
<path d="M347.43 249.79 L348.23 244.4 L349.03 249.79 Z" fill="#7e3219" stroke="#7e3219" stroke-width="0.5"/>
<path d="M349.44 250.55 L350.24 245.58 L351.04 250.55 Z" fill="#7e3219" stroke="#7e3219" stroke-width="0.5"/>
<path d="M353.91 251.57 L354.71 246.8 L355.51 251.57 Z" fill="#7e3219" stroke="#7e3219" stroke-width="0.5"/>
<path d="M204.2 250.53 L205.2 248 L206.2 250.53 Z" fill="#7e3219" stroke="#7e3219" stroke-width="0.6" stroke-linejoin="round"/>
<path d="M206.9 250.63 L207.9 249 L208.9 250.63 Z" fill="#7e3219" stroke="#7e3219" stroke-width="0.6" stroke-linejoin="round"/>
<path d="M221.7 225.44 L222.7 218.3 L223.7 225.44 Z" fill="#7e3219" stroke="#7e3219" stroke-width="0.6" stroke-linejoin="round"/>
<path d="M225.2 224.2 L226.2 213 L227.2 224.2 Z" fill="#7e3219" stroke="#7e3219" stroke-width="0.6" stroke-linejoin="round"/>
<path d="M227.8 226.9 L228.8 212.2 L229.8 226.9 Z" fill="#7e3219" stroke="#7e3219" stroke-width="0.6" stroke-linejoin="round"/>
<path d="M234 235.17 L235 228.8 L236 235.17 Z" fill="#7e3219" stroke="#7e3219" stroke-width="0.6" stroke-linejoin="round"/>
<path d="M237.8 236.94 L238.8 225.3 L239.8 236.94 Z" fill="#7e3219" stroke="#7e3219" stroke-width="0.6" stroke-linejoin="round"/>
<path d="M240.9 238.07 L241.9 231.4 L242.9 238.07 Z" fill="#7e3219" stroke="#7e3219" stroke-width="0.6" stroke-linejoin="round"/>
<path d="M244 239 L245 233.2 L246 239 Z" fill="#7e3219" stroke="#7e3219" stroke-width="0.6" stroke-linejoin="round"/>
<path d="M247 239.9 L248 232.3 L249 239.9 Z" fill="#7e3219" stroke="#7e3219" stroke-width="0.6" stroke-linejoin="round"/>
<path d="M250.5 240.88 L251.5 234 L252.5 240.88 Z" fill="#7e3219" stroke="#7e3219" stroke-width="0.6" stroke-linejoin="round"/>
<path d="M250.7 240.93 L251.7 233 L252.7 240.93 Z" fill="#7e3219" stroke="#7e3219" stroke-width="0.6" stroke-linejoin="round"/>
<path d="M254.2 241.8 L255.2 235 L256.2 241.8 Z" fill="#7e3219" stroke="#7e3219" stroke-width="0.6" stroke-linejoin="round"/>
<path d="M256.9 242.47 L257.9 237.5 L258.9 242.47 Z" fill="#7e3219" stroke="#7e3219" stroke-width="0.6" stroke-linejoin="round"/>
<path d="M261.7 244.2 L262.7 221.8 L263.7 244.2 Z" fill="#7e3219" stroke="#7e3219" stroke-width="0.6" stroke-linejoin="round"/>
<path d="M263.8 246.3 L264.8 240 L265.8 246.3 Z" fill="#7e3219" stroke="#7e3219" stroke-width="0.6" stroke-linejoin="round"/>
<path d="M265.6 247.51 L266.6 243.6 L267.6 247.51 Z" fill="#7e3219" stroke="#7e3219" stroke-width="0.6" stroke-linejoin="round"/>
<path d="M272.6 247.6 L273.6 242 L274.6 247.6 Z" fill="#7e3219" stroke="#7e3219" stroke-width="0.6" stroke-linejoin="round"/>
<path d="M274.8 247.62 L275.8 243.6 L276.8 247.62 Z" fill="#7e3219" stroke="#7e3219" stroke-width="0.6" stroke-linejoin="round"/>
<path d="M281.3 247.71 L282.3 243.6 L283.3 247.71 Z" fill="#7e3219" stroke="#7e3219" stroke-width="0.6" stroke-linejoin="round"/>
<path d="M289 247.8 L290 243.6 L291 247.8 Z" fill="#7e3219" stroke="#7e3219" stroke-width="0.6" stroke-linejoin="round"/>
<path d="M295.8 247.89 L296.8 237.5 L297.8 247.89 Z" fill="#7e3219" stroke="#7e3219" stroke-width="0.6" stroke-linejoin="round"/>
<path d="M297.5 247.91 L298.5 243 L299.5 247.91 Z" fill="#7e3219" stroke="#7e3219" stroke-width="0.6" stroke-linejoin="round"/>
<path d="M309 248.06 L310 240.2 L311 248.06 Z" fill="#7e3219" stroke="#7e3219" stroke-width="0.6" stroke-linejoin="round"/>
<path d="M316 248.15 L317 243 L318 248.15 Z" fill="#7e3219" stroke="#7e3219" stroke-width="0.6" stroke-linejoin="round"/>
<path d="M319.5 248.19 L320.5 232.3 L321.5 248.19 Z" fill="#7e3219" stroke="#7e3219" stroke-width="0.6" stroke-linejoin="round"/>
<path d="M327.3 248.29 L328.3 241 L329.3 248.29 Z" fill="#7e3219" stroke="#7e3219" stroke-width="0.6" stroke-linejoin="round"/>
<path d="M329.6 248.32 L330.6 238.5 L331.6 248.32 Z" fill="#7e3219" stroke="#7e3219" stroke-width="0.6" stroke-linejoin="round"/>
<path d="M331.7 248.34 L332.7 242 L333.7 248.34 Z" fill="#7e3219" stroke="#7e3219" stroke-width="0.6" stroke-linejoin="round"/>
<path d="M335.2 248.39 L336.2 243 L337.2 248.39 Z" fill="#7e3219" stroke="#7e3219" stroke-width="0.6" stroke-linejoin="round"/>
<path d="M344 248.5 L345 242.8 L346 248.5 Z" fill="#7e3219" stroke="#7e3219" stroke-width="0.6" stroke-linejoin="round"/>
<path d="M349.2 250.55 L350.2 246.3 L351.2 250.55 Z" fill="#7e3219" stroke="#7e3219" stroke-width="0.6" stroke-linejoin="round"/>
<text x="469.75" y="195.6" font-size="6.3" text-anchor="middle" fill="#1a1a1a" stroke="#1a1a1a" stroke-width="0.08" font-family="Liberation Sans, sans-serif">UKEPU</text>
<path d="M392 205.3 H547.5" stroke="#5e5e5e" stroke-width="1"/>
<path d="M392 261.3 H547.5" stroke="#5e5e5e" stroke-width="1"/>
<path d="M392.5 204.8 V261.8" stroke="#5e5e5e" stroke-width="1"/>
<path d="M547 204.8 V261.8" stroke="#3c3c3c" stroke-width="1"/>
<path d="M389.9 261.3 H392.5" stroke="#4a4a4a" stroke-width="1"/>
<text x="388.6" y="262.8" font-size="5.6" text-anchor="end" fill="#2a2a2a" stroke="#2a2a2a" stroke-width="0.12" textLength="2.25" lengthAdjust="spacingAndGlyphs" font-family="Liberation Sans, sans-serif">0</text>
<path d="M389.9 247.3 H392.5" stroke="#4a4a4a" stroke-width="1"/>
<text x="388.6" y="248.8" font-size="5.6" text-anchor="end" fill="#2a2a2a" stroke="#2a2a2a" stroke-width="0.12" textLength="6.75" lengthAdjust="spacingAndGlyphs" font-family="Liberation Sans, sans-serif">400</text>
<path d="M389.9 233.3 H392.5" stroke="#4a4a4a" stroke-width="1"/>
<text x="388.6" y="234.8" font-size="5.6" text-anchor="end" fill="#2a2a2a" stroke="#2a2a2a" stroke-width="0.12" textLength="6.75" lengthAdjust="spacingAndGlyphs" font-family="Liberation Sans, sans-serif">800</text>
<path d="M389.9 219.3 H392.5" stroke="#4a4a4a" stroke-width="1"/>
<text x="388.6" y="220.8" font-size="5.6" text-anchor="end" fill="#2a2a2a" stroke="#2a2a2a" stroke-width="0.12" textLength="9" lengthAdjust="spacingAndGlyphs" font-family="Liberation Sans, sans-serif">1200</text>
<path d="M389.9 205.3 H392.5" stroke="#4a4a4a" stroke-width="1"/>
<text x="388.6" y="206.8" font-size="5.6" text-anchor="end" fill="#2a2a2a" stroke="#2a2a2a" stroke-width="0.12" textLength="9" lengthAdjust="spacingAndGlyphs" font-family="Liberation Sans, sans-serif">1600</text>
<path d="M396.5 261.3 V264.3 M401.04 261.3 V262.9 M405.58 261.3 V262.9 M410.12 261.3 V262.9 M414.66 261.3 V262.9 M419.2 261.3 V262.9 M423.74 261.3 V262.9 M428.28 261.3 V262.9 M432.82 261.3 V262.9 M437.36 261.3 V262.9 M441.9 261.3 V262.9 M446.44 261.3 V262.9 M450.98 261.3 V264.3 M455.52 261.3 V262.9 M460.06 261.3 V262.9 M464.6 261.3 V262.9 M469.14 261.3 V262.9 M473.68 261.3 V262.9 M478.22 261.3 V262.9 M482.76 261.3 V262.9 M487.3 261.3 V262.9 M491.84 261.3 V262.9 M496.38 261.3 V262.9 M500.92 261.3 V262.9 M505.46 261.3 V264.3 M510 261.3 V262.9 M514.54 261.3 V262.9 M519.08 261.3 V262.9 M523.62 261.3 V262.9 M528.16 261.3 V262.9 M532.7 261.3 V262.9 M537.24 261.3 V262.9 M541.78 261.3 V262.9 M546.32 261.3 V262.9" stroke="#444" stroke-width="0.9"/>
<text x="424.8" y="270.2" font-size="5.6" text-anchor="middle" fill="#2a2a2a" stroke="#2a2a2a" stroke-width="0.12" textLength="9.6" lengthAdjust="spacingAndGlyphs" font-family="Liberation Sans, sans-serif">2020</text>
<text x="479.1" y="270.2" font-size="5.6" text-anchor="middle" fill="#2a2a2a" stroke="#2a2a2a" stroke-width="0.12" textLength="9.6" lengthAdjust="spacingAndGlyphs" font-family="Liberation Sans, sans-serif">2021</text>
<text x="529.1" y="270.2" font-size="5.6" text-anchor="middle" fill="#2a2a2a" stroke="#2a2a2a" stroke-width="0.12" textLength="9.6" lengthAdjust="spacingAndGlyphs" font-family="Liberation Sans, sans-serif">2022</text>
<path d="M392.5 248.83 L393 249.05 L393.5 248.59 L394 249.79 L394.5 249.57 L395 249.25 L395.5 248.74 L396 248.8 L396.5 249.66 L397 249.62 L397.5 248.93 L398 249.52 L398.5 249.73 L399 249.35 L399.5 249.21 L400 249.16 L400.5 249.81 L401 249.27 L401.5 249.77 L402 249.74 L402.5 249.21 L403 249.34 L403.5 248.73 L404 249.64 L404.5 248.56 L405 248.89 L405.5 249.16 L406 249.9 L406.5 249.08 L407 244.56 L407.5 238.15 L408 232.07 L408.5 228.62 L409 225.82 L409.5 225.19 L410 222.83 L410.5 222.69 L411 222.43 L411.5 223.57 L412 223.28 L412.5 222.21 L413 223.48 L413.5 222.64 L414 222.87 L414.5 222.35 L415 222.5 L415.5 222.35 L416 222.21 L416.5 221.75 L417 222.72 L417.5 221.97 L418 222.87 L418.5 222.42 L419 222.83 L419.5 224.32 L420 224.06 L420.5 224.85 L421 225.17 L421.5 226.58 L422 227.38 L422.5 226.84 L423 227.05 L423.5 227.85 L424 229.16 L424.5 228.38 L425 229.01 L425.5 229.32 L426 229.53 L426.5 230.97 L427 231.39 L427.5 231.59 L428 231.77 L428.5 231.69 L429 231.63 L429.5 232.93 L430 232.47 L430.5 233.45 L431 233.81 L431.5 233.92 L432 233.71 L432.5 235.01 L433 235.36 L433.5 235.15 L434 235.69 L434.5 236 L435 234.94 L435.5 235.96 L436 236.33 L436.5 235.81 L437 237.01 L437.5 237.16 L438 237.28 L438.5 237.59 L439 237.8 L439.5 237.73 L440 238.25 L440.5 237.77 L441 237.25 L441.5 238.15 L442 238.64 L442.5 237.73 L443 238.72 L443.5 237.76 L444 239.02 L444.5 238.73 L445 239.17 L445.5 238.51 L446 239.64 L446.5 238.55 L447 239.74 L447.5 239.21 L448 239.8 L448.5 240.06 L449 239.35 L449.5 239.63 L450 239.38 L450.5 239.5 L451 240.05 L451.5 240.22 L452 240.57 L452.5 240.12 L453 240.47 L453.5 240.57 L454 240.34 L454.5 241.25 L455 242.88 L455.5 243.2 L456 243.44 L456.5 244.4 L457 244.93 L457.5 246.35 L458 246.62 L458.5 247.09 L459 246.94 L459.5 246.13 L460 247.16 L460.5 247.29 L461 246.84 L461.5 246.91 L462 246.61 L462.5 246.3 L463 246.51 L463.5 246.1 L464 247.4 L464.5 247.2 L465 247.41 L465.5 246.9 L466 246.89 L466.5 247.16 L467 246.27 L467.5 247.05 L468 246.98 L468.5 246.54 L469 246.69 L469.5 247.39 L470 246.57 L470.5 246.6 L471 247.54 L471.5 246.71 L472 247.3 L472.5 246.74 L473 246.43 L473.5 247.15 L474 246.69 L474.5 247.06 L475 246.29 L475.5 247.58 L476 247.05 L476.5 246.34 L477 246.53 L477.5 247.47 L478 246.44 L478.5 246.65 L479 246.47 L479.5 247.2 L480 247.59 L480.5 246.99 L481 246.4 L481.5 246.71 L482 246.36 L482.5 246.68 L483 247.27 L483.5 247.21 L484 247.53 L484.5 247.09 L485 247.32 L485.5 247.02 L486 247.5 L486.5 246.42 L487 247.56 L487.5 246.88 L488 247.55 L488.5 246.89 L489 246.39 L489.5 246.39 L490 246.58 L490.5 247.56 L491 246.7 L491.5 247.05 L492 246.65 L492.5 247.79 L493 247.69 L493.5 246.94 L494 247.58 L494.5 246.57 L495 247.7 L495.5 247.33 L496 247.27 L496.5 247.32 L497 247.65 L497.5 246.88 L498 247.33 L498.5 247.63 L499 247.72 L499.5 247.4 L500 247.33 L500.5 247.87 L501 246.61 L501.5 247.19 L502 247.34 L502.5 246.79 L503 247.61 L503.5 247.5 L504 247.9 L504.5 247.24 L505 247.72 L505.5 247.41 L506 247.57 L506.5 247.22 L507 247.06 L507.5 247.61 L508 246.99 L508.5 247.42 L509 247.16 L509.5 247.64 L510 247.01 L510.5 247.7 L511 247.22 L511.5 246.64 L512 247.92 L512.5 247.68 L513 247.51 L513.5 247.08 L514 247 L514.5 246.69 L515 247.05 L515.5 246.84 L516 246.78 L516.5 246.9 L517 246.97 L517.5 247.62 L518 247.38 L518.5 247.17 L519 248.08 L519.5 247.04 L520 246.87 L520.5 247.13 L521 247.64 L521.5 246.83 L522 246.98 L522.5 246.78 L523 247 L523.5 246.8 L524 247.21 L524.5 247.61 L525 248.15 L525.5 247.07 L526 248.11 L526.5 248.15 L527 248.05 L527.5 247.73 L528 246.95 L528.5 247 L529 247.58 L529.5 247.32 L530 248 L530.5 246.88 L531 247.14 L531.5 247.64 L532 247.72 L532.5 247.36 L533 248.18 L533.5 247.35 L534 247.17 L534.5 247.14 L535 247.9 L535.5 247.58 L536 247.32 L536.5 247.45 L537 247.43 L537.5 247.41 L538 247.11 L538.5 248.02 L539 247.51 L539.5 247.35 L540 248.19 L540.5 248.31 L541 247.2 L541.5 247.79 L542 247.97 L542.5 247.58 L543 247.16 L543.5 247.23 L544 247.59 L544.5 247.88 L545 247.48 L545.5 247.76 L545.5 254.48 L545 255.49 L544.5 256.43 L544 256.27 L543.5 256.31 L543 256.48 L542.5 255.07 L542 256.48 L541.5 255.69 L541 255.64 L540.5 255.86 L540 255.96 L539.5 255.78 L539 256.43 L538.5 255.28 L538 256.46 L537.5 256.02 L537 255.98 L536.5 256.41 L536 255.31 L535.5 256.44 L535 254.5 L534.5 254.94 L534 256.43 L533.5 254.31 L533 256.35 L532.5 255.32 L532 256.16 L531.5 256.34 L531 256.29 L530.5 256.36 L530 255.15 L529.5 255.19 L529 255.76 L528.5 255.9 L528 256.31 L527.5 254.83 L527 255.3 L526.5 256.38 L526 255.36 L525.5 254.37 L525 256.32 L524.5 256.09 L524 254.25 L523.5 256.14 L523 256.28 L522.5 255.08 L522 255.23 L521.5 254.79 L521 254.55 L520.5 255.65 L520 254.28 L519.5 254.79 L519 256.29 L518.5 255.89 L518 256.31 L517.5 254.6 L517 254.42 L516.5 256.32 L516 254.19 L515.5 255.06 L515 254.49 L514.5 256.17 L514 255.75 L513.5 255.47 L513 254.75 L512.5 255.95 L512 256.14 L511.5 254.57 L511 256.24 L510.5 255.21 L510 255.25 L509.5 254.66 L509 254.2 L508.5 256.29 L508 255.95 L507.5 254.82 L507 254.54 L506.5 256.23 L506 256.27 L505.5 256.27 L505 255.41 L504.5 256.27 L504 254.76 L503.5 256.23 L503 254.44 L502.5 256.24 L502 256.11 L501.5 255.59 L501 255.13 L500.5 255.97 L500 255.63 L499.5 255.16 L499 254.52 L498.5 254.48 L498 255.98 L497.5 254.46 L497 255.26 L496.5 256.08 L496 256.21 L495.5 254.44 L495 256.01 L494.5 255.36 L494 255.45 L493.5 254.62 L493 254.27 L492.5 255.1 L492 254.7 L491.5 255.06 L491 255.51 L490.5 254.69 L490 256.13 L489.5 254.15 L489 254.49 L488.5 255.78 L488 255.93 L487.5 255.14 L487 256.02 L486.5 256.1 L486 255.64 L485.5 256.1 L485 255.48 L484.5 255.09 L484 255.01 L483.5 254.15 L483 254.97 L482.5 254.4 L482 253.97 L481.5 256.1 L481 256.13 L480.5 256.07 L480 255.97 L479.5 255.46 L479 254.75 L478.5 254.14 L478 255.99 L477.5 254.78 L477 254.21 L476.5 255.96 L476 255.89 L475.5 254.24 L475 254.01 L474.5 256.04 L474 254.1 L473.5 255.26 L473 255.44 L472.5 256.08 L472 255.9 L471.5 255.72 L471 254.3 L470.5 255.21 L470 255.95 L469.5 254.98 L469 255.27 L468.5 254.17 L468 254.54 L467.5 254.83 L467 255.12 L466.5 253.99 L466 254.11 L465.5 255.5 L465 255.98 L464.5 254.6 L464 254.52 L463.5 256.03 L463 255.83 L462.5 255.08 L462 254.09 L461.5 256 L461 255.75 L460.5 255.71 L460 255.94 L459.5 255.96 L459 255.97 L458.5 255.71 L458 255.96 L457.5 254.8 L457 253.59 L456.5 253.05 L456 252.67 L455.5 253.31 L455 252.89 L454.5 252.08 L454 251.42 L453.5 252.84 L453 251.59 L452.5 251.92 L452 252.43 L451.5 250.49 L451 251.89 L450.5 251.95 L450 250.18 L449.5 250.31 L449 250.03 L448.5 251.34 L448 251.28 L447.5 249.52 L447 250.42 L446.5 250.01 L446 250.69 L445.5 250.05 L445 250.22 L444.5 249.97 L444 250.13 L443.5 248.46 L443 249.26 L442.5 249.43 L442 248.76 L441.5 248.9 L441 249.28 L440.5 248.53 L440 247.68 L439.5 248.62 L439 248.62 L438.5 247.9 L438 247.08 L437.5 248.26 L437 248.14 L436.5 248 L436 245.96 L435.5 247 L435 247.51 L434.5 246.45 L434 247.25 L433.5 247.14 L433 244.96 L432.5 246.82 L432 244.79 L431.5 245.46 L431 245.72 L430.5 245.26 L430 245.05 L429.5 243.95 L429 243.99 L428.5 245.48 L428 244.11 L427.5 244.23 L427 244.64 L426.5 244.13 L426 244.66 L425.5 242.84 L425 244.24 L424.5 244.02 L424 243.45 L423.5 241.76 L423 242.61 L422.5 242.13 L422 241.5 L421.5 241.13 L421 240.38 L420.5 238.31 L420 239.47 L419.5 239.87 L419 239.77 L418.5 239.74 L418 239.26 L417.5 239.55 L417 239.2 L416.5 239.34 L416 239.32 L415.5 237.2 L415 239.1 L414.5 238.98 L414 237.5 L413.5 236.93 L413 237.48 L412.5 238.53 L412 236.61 L411.5 236.54 L411 237.39 L410.5 237.91 L410 238.05 L409.5 237.37 L409 238 L408.5 238.01 L408 240.77 L407.5 246 L407 252.82 L406.5 257.51 L406 257.52 L405.5 257.34 L405 256.97 L404.5 256.74 L404 257.6 L403.5 257.4 L403 257.19 L402.5 257.22 L402 256.02 L401.5 256.88 L401 257.4 L400.5 255.95 L400 257.58 L399.5 257.53 L399 256.61 L398.5 257.58 L398 255.99 L397.5 256.74 L397 257.52 L396.5 256.17 L396 255.71 L395.5 257.58 L395 257.43 L394.5 257.49 L394 256.19 L393.5 257.25 L393 257.55 L392.5 257.58Z" fill="#ee1010" stroke="#ee1010" stroke-width="0.4"/>
<path d="M402.71 250 L403.51 247.08 L404.31 250 Z" fill="#7e3219" stroke="#7e3219" stroke-width="0.5"/>
<path d="M407.57 229.28 L408.37 226.36 L409.17 229.28 Z" fill="#7e3219" stroke="#7e3219" stroke-width="0.5"/>
<path d="M408.56 226.07 L409.36 221.88 L410.16 226.07 Z" fill="#7e3219" stroke="#7e3219" stroke-width="0.5"/>
<path d="M413.63 223.45 L414.43 219.48 L415.23 223.45 Z" fill="#7e3219" stroke="#7e3219" stroke-width="0.5"/>
<path d="M418.75 224.93 L419.55 220.43 L420.35 224.93 Z" fill="#7e3219" stroke="#7e3219" stroke-width="0.5"/>
<path d="M421.43 227.73 L422.23 224.32 L423.03 227.73 Z" fill="#7e3219" stroke="#7e3219" stroke-width="0.5"/>
<path d="M424.06 230.07 L424.86 225.42 L425.66 230.07 Z" fill="#7e3219" stroke="#7e3219" stroke-width="0.5"/>
<path d="M428.82 233.25 L429.62 228.89 L430.42 233.25 Z" fill="#7e3219" stroke="#7e3219" stroke-width="0.5"/>
<path d="M435.86 237.07 L436.66 231.92 L437.46 237.07 Z" fill="#7e3219" stroke="#7e3219" stroke-width="0.5"/>
<path d="M440.78 238.84 L441.58 233.93 L442.38 238.84 Z" fill="#7e3219" stroke="#7e3219" stroke-width="0.5"/>
<path d="M447.28 240.23 L448.08 237.09 L448.88 240.23 Z" fill="#7e3219" stroke="#7e3219" stroke-width="0.5"/>
<path d="M449.39 240.68 L450.19 237.59 L450.99 240.68 Z" fill="#7e3219" stroke="#7e3219" stroke-width="0.5"/>
<path d="M451.21 241.07 L452.01 238.37 L452.81 241.07 Z" fill="#7e3219" stroke="#7e3219" stroke-width="0.5"/>
<path d="M456.12 245.88 L456.92 242.06 L457.72 245.88 Z" fill="#7e3219" stroke="#7e3219" stroke-width="0.5"/>
<path d="M459 247.52 L459.8 244.64 L460.6 247.52 Z" fill="#7e3219" stroke="#7e3219" stroke-width="0.5"/>
<path d="M460.12 247.53 L460.92 244.39 L461.72 247.53 Z" fill="#7e3219" stroke="#7e3219" stroke-width="0.5"/>
<path d="M461.14 247.55 L461.94 242.4 L462.74 247.55 Z" fill="#7e3219" stroke="#7e3219" stroke-width="0.5"/>
<path d="M462.32 247.56 L463.12 243.7 L463.92 247.56 Z" fill="#7e3219" stroke="#7e3219" stroke-width="0.5"/>
<path d="M473.58 247.69 L474.38 244.49 L475.18 247.69 Z" fill="#7e3219" stroke="#7e3219" stroke-width="0.5"/>
<path d="M475.46 247.71 L476.26 244.86 L477.06 247.71 Z" fill="#7e3219" stroke="#7e3219" stroke-width="0.5"/>
<path d="M480.01 247.76 L480.81 244.39 L481.61 247.76 Z" fill="#7e3219" stroke="#7e3219" stroke-width="0.5"/>
<path d="M482.21 247.79 L483.01 242.64 L483.81 247.79 Z" fill="#7e3219" stroke="#7e3219" stroke-width="0.5"/>
<path d="M494.07 247.92 L494.87 243.88 L495.67 247.92 Z" fill="#7e3219" stroke="#7e3219" stroke-width="0.5"/>
<path d="M495.56 247.94 L496.36 243.65 L497.16 247.94 Z" fill="#7e3219" stroke="#7e3219" stroke-width="0.5"/>
<path d="M500.38 247.99 L501.18 243.49 L501.98 247.99 Z" fill="#7e3219" stroke="#7e3219" stroke-width="0.5"/>
<path d="M501.28 248 L502.08 244.79 L502.88 248 Z" fill="#7e3219" stroke="#7e3219" stroke-width="0.5"/>
<path d="M504.52 248.04 L505.32 242.8 L506.12 248.04 Z" fill="#7e3219" stroke="#7e3219" stroke-width="0.5"/>
<path d="M507.83 248.08 L508.63 244.43 L509.43 248.08 Z" fill="#7e3219" stroke="#7e3219" stroke-width="0.5"/>
<path d="M517.49 248.19 L518.29 245.44 L519.09 248.19 Z" fill="#7e3219" stroke="#7e3219" stroke-width="0.5"/>
<path d="M521.67 248.24 L522.47 244.88 L523.27 248.24 Z" fill="#7e3219" stroke="#7e3219" stroke-width="0.5"/>
<path d="M524.84 248.27 L525.64 245.46 L526.44 248.27 Z" fill="#7e3219" stroke="#7e3219" stroke-width="0.5"/>
<path d="M526.62 248.29 L527.42 243.28 L528.22 248.29 Z" fill="#7e3219" stroke="#7e3219" stroke-width="0.5"/>
<path d="M528.3 248.31 L529.1 244.68 L529.9 248.31 Z" fill="#7e3219" stroke="#7e3219" stroke-width="0.5"/>
<path d="M535.81 248.4 L536.61 244.6 L537.41 248.4 Z" fill="#7e3219" stroke="#7e3219" stroke-width="0.5"/>
<path d="M540.4 248.45 L541.2 243.79 L542 248.45 Z" fill="#7e3219" stroke="#7e3219" stroke-width="0.5"/>
<path d="M542.02 248.47 L542.82 243.63 L543.62 248.47 Z" fill="#7e3219" stroke="#7e3219" stroke-width="0.5"/>
<path d="M543.1 248.48 L543.9 243.59 L544.7 248.48 Z" fill="#7e3219" stroke="#7e3219" stroke-width="0.5"/>
<path d="M396 250 L397 247 L398 250 Z" fill="#7e3219" stroke="#7e3219" stroke-width="0.6" stroke-linejoin="round"/>
<path d="M402 250 L403 248 L404 250 Z" fill="#7e3219" stroke="#7e3219" stroke-width="0.6" stroke-linejoin="round"/>
<path d="M409 224 L410 214.8 L411 224 Z" fill="#7e3219" stroke="#7e3219" stroke-width="0.6" stroke-linejoin="round"/>
<path d="M412.6 223.55 L413.6 207 L414.6 223.55 Z" fill="#7e3219" stroke="#7e3219" stroke-width="0.6" stroke-linejoin="round"/>
<path d="M416 223.12 L417 210.5 L418 223.12 Z" fill="#7e3219" stroke="#7e3219" stroke-width="0.6" stroke-linejoin="round"/>
<path d="M417.8 224 L418.8 220 L419.8 224 Z" fill="#7e3219" stroke="#7e3219" stroke-width="0.6" stroke-linejoin="round"/>
<path d="M423 229.5 L424 230.5 L425 229.5 Z" fill="#7e3219" stroke="#7e3219" stroke-width="0.6" stroke-linejoin="round"/>
<path d="M426.5 231.83 L427.5 228.8 L428.5 231.83 Z" fill="#7e3219" stroke="#7e3219" stroke-width="0.6" stroke-linejoin="round"/>
<path d="M433.5 236.14 L434.5 221 L435.5 236.14 Z" fill="#7e3219" stroke="#7e3219" stroke-width="0.6" stroke-linejoin="round"/>
<path d="M438.8 238.41 L439.8 225.3 L440.8 238.41 Z" fill="#7e3219" stroke="#7e3219" stroke-width="0.6" stroke-linejoin="round"/>
<path d="M441.4 239.01 L442.4 233 L443.4 239.01 Z" fill="#7e3219" stroke="#7e3219" stroke-width="0.6" stroke-linejoin="round"/>
<path d="M446.9 240.19 L447.9 235 L448.9 240.19 Z" fill="#7e3219" stroke="#7e3219" stroke-width="0.6" stroke-linejoin="round"/>
<path d="M449.5 240.75 L450.5 217.5 L451.5 240.75 Z" fill="#7e3219" stroke="#7e3219" stroke-width="0.6" stroke-linejoin="round"/>
<path d="M450.9 241.05 L451.9 220 L452.9 241.05 Z" fill="#7e3219" stroke="#7e3219" stroke-width="0.6" stroke-linejoin="round"/>
<path d="M460.8 247.54 L461.8 209.6 L462.8 247.54 Z" fill="#7e3219" stroke="#7e3219" stroke-width="0.6" stroke-linejoin="round"/>
<path d="M462.6 247.56 L463.6 228 L464.6 247.56 Z" fill="#7e3219" stroke="#7e3219" stroke-width="0.6" stroke-linejoin="round"/>
<path d="M465.2 247.59 L466.2 244.5 L467.2 247.59 Z" fill="#7e3219" stroke="#7e3219" stroke-width="0.6" stroke-linejoin="round"/>
<path d="M469.6 247.64 L470.6 243.6 L471.6 247.64 Z" fill="#7e3219" stroke="#7e3219" stroke-width="0.6" stroke-linejoin="round"/>
<path d="M477.4 247.73 L478.4 242 L479.4 247.73 Z" fill="#7e3219" stroke="#7e3219" stroke-width="0.6" stroke-linejoin="round"/>
<path d="M483.5 247.8 L484.5 239.3 L485.5 247.8 Z" fill="#7e3219" stroke="#7e3219" stroke-width="0.6" stroke-linejoin="round"/>
<path d="M485.3 247.82 L486.3 242 L487.3 247.82 Z" fill="#7e3219" stroke="#7e3219" stroke-width="0.6" stroke-linejoin="round"/>
<path d="M497 247.96 L498 241 L499 247.96 Z" fill="#7e3219" stroke="#7e3219" stroke-width="0.6" stroke-linejoin="round"/>
<path d="M504.6 248.04 L505.6 242 L506.6 248.04 Z" fill="#7e3219" stroke="#7e3219" stroke-width="0.6" stroke-linejoin="round"/>
<path d="M509.4 248.1 L510.4 246 L511.4 248.1 Z" fill="#7e3219" stroke="#7e3219" stroke-width="0.6" stroke-linejoin="round"/>
<path d="M517.2 248.19 L518.2 236.7 L519.2 248.19 Z" fill="#7e3219" stroke="#7e3219" stroke-width="0.6" stroke-linejoin="round"/>
<path d="M521.6 248.24 L522.6 242.8 L523.6 248.24 Z" fill="#7e3219" stroke="#7e3219" stroke-width="0.6" stroke-linejoin="round"/>
<path d="M526 248.29 L527 242 L528 248.29 Z" fill="#7e3219" stroke="#7e3219" stroke-width="0.6" stroke-linejoin="round"/>
<path d="M533 248.37 L534 239.3 L535 248.37 Z" fill="#7e3219" stroke="#7e3219" stroke-width="0.6" stroke-linejoin="round"/>
<path d="M537.3 248.42 L538.3 247 L539.3 248.42 Z" fill="#7e3219" stroke="#7e3219" stroke-width="0.6" stroke-linejoin="round"/>
<path d="M542.6 248.48 L543.6 241 L544.6 248.48 Z" fill="#7e3219" stroke="#7e3219" stroke-width="0.6" stroke-linejoin="round"/>
<path d="M544.6 248.5 L545.6 215 L546.6 248.5 Z" fill="#7e3219" stroke="#7e3219" stroke-width="0.6" stroke-linejoin="round"/>
<text x="92.75" y="289.3" font-size="6.3" text-anchor="middle" fill="#1a1a1a" stroke="#1a1a1a" stroke-width="0.08" font-family="Liberation Sans, sans-serif">XLM</text>
<path d="M15 299 H170.5" stroke="#3c3c3c" stroke-width="1"/>
<path d="M15 354.4 H170.5" stroke="#5e5e5e" stroke-width="1"/>
<path d="M15.5 298.5 V354.9" stroke="#5e5e5e" stroke-width="1"/>
<path d="M170 298.5 V354.9" stroke="#3c3c3c" stroke-width="1"/>
<path d="M12.9 354.4 H15.5" stroke="#4a4a4a" stroke-width="1"/>
<text x="12" y="355.9" font-size="5.6" text-anchor="end" fill="#2a2a2a" stroke="#2a2a2a" stroke-width="0.12" textLength="7" lengthAdjust="spacingAndGlyphs" font-family="Liberation Sans, sans-serif">0.0</text>
<path d="M12.9 340.55 H15.5" stroke="#4a4a4a" stroke-width="1"/>
<text x="12" y="342.05" font-size="5.6" text-anchor="end" fill="#2a2a2a" stroke="#2a2a2a" stroke-width="0.12" textLength="7" lengthAdjust="spacingAndGlyphs" font-family="Liberation Sans, sans-serif">0.2</text>
<path d="M12.9 326.7 H15.5" stroke="#4a4a4a" stroke-width="1"/>
<text x="12" y="328.2" font-size="5.6" text-anchor="end" fill="#2a2a2a" stroke="#2a2a2a" stroke-width="0.12" textLength="7" lengthAdjust="spacingAndGlyphs" font-family="Liberation Sans, sans-serif">0.4</text>
<path d="M12.9 312.85 H15.5" stroke="#4a4a4a" stroke-width="1"/>
<text x="12" y="314.35" font-size="5.6" text-anchor="end" fill="#2a2a2a" stroke="#2a2a2a" stroke-width="0.12" textLength="7" lengthAdjust="spacingAndGlyphs" font-family="Liberation Sans, sans-serif">0.6</text>
<path d="M12.9 299 H15.5" stroke="#4a4a4a" stroke-width="1"/>
<text x="12" y="300.5" font-size="5.6" text-anchor="end" fill="#2a2a2a" stroke="#2a2a2a" stroke-width="0.12" textLength="7" lengthAdjust="spacingAndGlyphs" font-family="Liberation Sans, sans-serif">0.8</text>
<path d="M19.5 354.4 V357.4 M24.04 354.4 V356 M28.58 354.4 V356 M33.12 354.4 V356 M37.66 354.4 V356 M42.2 354.4 V356 M46.74 354.4 V356 M51.28 354.4 V356 M55.82 354.4 V356 M60.36 354.4 V356 M64.9 354.4 V356 M69.44 354.4 V356 M73.98 354.4 V357.4 M78.52 354.4 V356 M83.06 354.4 V356 M87.6 354.4 V356 M92.14 354.4 V356 M96.68 354.4 V356 M101.22 354.4 V356 M105.76 354.4 V356 M110.3 354.4 V356 M114.84 354.4 V356 M119.38 354.4 V356 M123.92 354.4 V356 M128.46 354.4 V357.4 M133 354.4 V356 M137.54 354.4 V356 M142.08 354.4 V356 M146.62 354.4 V356 M151.16 354.4 V356 M155.7 354.4 V356 M160.24 354.4 V356 M164.78 354.4 V356 M169.32 354.4 V356" stroke="#444" stroke-width="0.9"/>
<text x="47.8" y="363.3" font-size="5.6" text-anchor="middle" fill="#2a2a2a" stroke="#2a2a2a" stroke-width="0.12" textLength="9.6" lengthAdjust="spacingAndGlyphs" font-family="Liberation Sans, sans-serif">2020</text>
<text x="102.1" y="363.3" font-size="5.6" text-anchor="middle" fill="#2a2a2a" stroke="#2a2a2a" stroke-width="0.12" textLength="9.6" lengthAdjust="spacingAndGlyphs" font-family="Liberation Sans, sans-serif">2021</text>
<text x="152.1" y="363.3" font-size="5.6" text-anchor="middle" fill="#2a2a2a" stroke="#2a2a2a" stroke-width="0.12" textLength="9.6" lengthAdjust="spacingAndGlyphs" font-family="Liberation Sans, sans-serif">2022</text>
<path d="M15.5 350.4 L16.2 351.31 L16.9 349.81 L17.6 351.16 L18.3 350.3 L19 351 L19.75 351.68 L20.5 349.88 L21.25 351.2 L22 350.4 L22.75 350.51 L23.5 350.61 L24.25 350.65 L25 349.6 L25.67 348.96 L26.33 348.92 L27 349 L27.67 349.69 L28.33 349.29 L29 350 L29.67 350.26 L30.33 350.87 L31 352 L31.67 352.47 L32.33 352.37 L33 351.6 L33.75 351.81 L34.5 350.53 L35.25 351.42 L36 350.4 L36.75 350.22 L37.5 349.54 L38.25 349.72 L39 349.6 L39.75 349.46 L40.5 348.88 L41.25 349.71 L42 349.6 L42.75 349.21 L43.5 349.42 L44.25 349.88 L45 349 L45.75 349.4 L46.5 349.14 L47.25 350.07 L48 349.6 L48.67 349.91 L49.33 348.52 L50 348 L50.75 348.66 L51.5 346.98 L52.25 347.09 L53 347.6 L53.67 346.84 L54.33 347.94 L55 347 L55.67 347.79 L56.33 348.31 L57 348.4 L57.75 348.34 L58.5 348.99 L59.25 349.96 L60 349.6 L60.75 348.82 L61.5 348.75 L62.25 348.53 L63 349.2 L63.75 349.1 L64.5 349.68 L65.25 349.14 L66 349 L66.67 348.63 L67.33 348.6 L68 348.4 L69 341 L69.7 341.15 L70.4 342.4 L71.2 343.76 L72 343.6 L72.8 343.55 L73.6 344 L74.3 344.05 L75 345 L75.6 331 L76.3 332.68 L77 335 L77.7 337.05 L78.4 338 L79 334.19 L79.6 331 L80.3 324.19 L81 316 L81.7 320.22 L82.4 325 L83.07 325.57 L83.73 325.61 L84.4 327 L85.07 328.03 L85.73 328.17 L86.4 328 L87.2 325.96 L88 324 L88.8 315.85 L89.6 309 L90.3 314.49 L91 320 L91.7 317.79 L92.4 316 L93 314.08 L93.6 311 L94.6 304.4 L95.6 317 L96.6 326 L97.3 328.23 L98 329 L98.67 331.41 L99.33 332.64 L100 335 L100.8 335.72 L101.6 338 L102.3 338.17 L103 337 L103.7 338.76 L104.4 339 L105.2 336.92 L106 336 L106.8 333.5 L107.6 331 L108.3 328.97 L109 327 L109.7 329.31 L110.4 330 L111 327.02 L111.6 325.6 L112.6 331 L113.3 331.25 L114 333 L115 336 L115.7 335.08 L116.4 333 L117.2 330.62 L118 328 L118.8 328.44 L119.6 329 L120.3 328.17 L121 326.4 L121.7 327.86 L122.4 329 L123.2 330.33 L124 331 L124.8 332.08 L125.6 334 L126.3 334.29 L127 336 L127.67 334.83 L128.33 335.05 L129 335 L129.67 335.92 L130.33 336.13 L131 337 L131.67 337.74 L132.33 339.2 L133 340 L133.67 340.02 L134.33 339.5 L135 339 L135.67 339.35 L136.33 340.88 L137 341 L137.67 341.71 L138.33 342.07 L139 341.6 L139.67 341.6 L140.33 339.44 L141 339.6 L141.7 339.09 L142.4 338 L143.2 338.74 L144 340 L144.67 340.34 L145.33 341.1 L146 341.6 L146.67 341.66 L147.33 342.51 L148 343.6 L148.67 345.09 L149.33 344.65 L150 345.6 L150.67 346.1 L151.33 345.51 L152 345 L152.67 345.22 L153.33 345.76 L154 346.6 L154.67 346.71 L155.33 346.81 L156 346.4 L156.67 346.33 L157.33 346.05 L158 347 L158.75 346.09 L159.5 346.91 L160.25 346.34 L161 345.6 L161.75 345.28 L162.5 346.87 L163.25 346.78 L164 347 L164.75 346.82 L165.5 347.87 L166.25 346.67 L167 347.4 L167.83 346.52 L168.67 346.73 L169.5 346.8" fill="none" stroke="#7e3219" stroke-width="1.55" stroke-linejoin="round" stroke-linecap="round" />
<path d="M81 316 L81.7 320.22 L82.4 325 L83.07 325.57 L83.73 325.61 L84.4 327 L85.07 328.03 L85.73 328.17 L86.4 328 L87.2 325.96 L88 324 L88.8 315.85 L89.6 309 L90.3 314.49 L91 320 L91.7 317.79 L92.4 316 L93 314.08 L93.6 311 L94.6 304.4 L95.6 317" fill="none" stroke="#d81410" stroke-width="1.05" stroke-linejoin="round" stroke-linecap="round" />
<text x="281.25" y="289.3" font-size="6.3" text-anchor="middle" fill="#1a1a1a" stroke="#1a1a1a" stroke-width="0.08" font-family="Liberation Sans, sans-serif">XNO</text>
<path d="M203.5 299 H359" stroke="#3c3c3c" stroke-width="1"/>
<path d="M203.5 354.4 H359" stroke="#5e5e5e" stroke-width="1"/>
<path d="M204 298.5 V354.9" stroke="#3c3c3c" stroke-width="1"/>
<path d="M358.5 298.5 V354.9" stroke="#5e5e5e" stroke-width="1"/>
<path d="M201.4 354.4 H204" stroke="#4a4a4a" stroke-width="1"/>
<text x="200.1" y="355.9" font-size="5.6" text-anchor="end" fill="#2a2a2a" stroke="#2a2a2a" stroke-width="0.12" textLength="2.25" lengthAdjust="spacingAndGlyphs" font-family="Liberation Sans, sans-serif">0</text>
<path d="M201.4 335.93 H204" stroke="#4a4a4a" stroke-width="1"/>
<text x="200.1" y="337.43" font-size="5.6" text-anchor="end" fill="#2a2a2a" stroke="#2a2a2a" stroke-width="0.12" textLength="2.25" lengthAdjust="spacingAndGlyphs" font-family="Liberation Sans, sans-serif">5</text>
<path d="M201.4 317.47 H204" stroke="#4a4a4a" stroke-width="1"/>
<text x="200.1" y="318.97" font-size="5.6" text-anchor="end" fill="#2a2a2a" stroke="#2a2a2a" stroke-width="0.12" textLength="4.5" lengthAdjust="spacingAndGlyphs" font-family="Liberation Sans, sans-serif">10</text>
<path d="M201.4 299 H204" stroke="#4a4a4a" stroke-width="1"/>
<text x="200.1" y="300.5" font-size="5.6" text-anchor="end" fill="#2a2a2a" stroke="#2a2a2a" stroke-width="0.12" textLength="4.5" lengthAdjust="spacingAndGlyphs" font-family="Liberation Sans, sans-serif">15</text>
<path d="M208 354.4 V357.4 M212.54 354.4 V356 M217.08 354.4 V356 M221.62 354.4 V356 M226.16 354.4 V356 M230.7 354.4 V356 M235.24 354.4 V356 M239.78 354.4 V356 M244.32 354.4 V356 M248.86 354.4 V356 M253.4 354.4 V356 M257.94 354.4 V356 M262.48 354.4 V357.4 M267.02 354.4 V356 M271.56 354.4 V356 M276.1 354.4 V356 M280.64 354.4 V356 M285.18 354.4 V356 M289.72 354.4 V356 M294.26 354.4 V356 M298.8 354.4 V356 M303.34 354.4 V356 M307.88 354.4 V356 M312.42 354.4 V356 M316.96 354.4 V357.4 M321.5 354.4 V356 M326.04 354.4 V356 M330.58 354.4 V356 M335.12 354.4 V356 M339.66 354.4 V356 M344.2 354.4 V356 M348.74 354.4 V356 M353.28 354.4 V356 M357.82 354.4 V356" stroke="#444" stroke-width="0.9"/>
<text x="236.3" y="363.3" font-size="5.6" text-anchor="middle" fill="#2a2a2a" stroke="#2a2a2a" stroke-width="0.12" textLength="9.6" lengthAdjust="spacingAndGlyphs" font-family="Liberation Sans, sans-serif">2020</text>
<text x="290.6" y="363.3" font-size="5.6" text-anchor="middle" fill="#2a2a2a" stroke="#2a2a2a" stroke-width="0.12" textLength="9.6" lengthAdjust="spacingAndGlyphs" font-family="Liberation Sans, sans-serif">2021</text>
<text x="340.6" y="363.3" font-size="5.6" text-anchor="middle" fill="#2a2a2a" stroke="#2a2a2a" stroke-width="0.12" textLength="9.6" lengthAdjust="spacingAndGlyphs" font-family="Liberation Sans, sans-serif">2022</text>
<path d="M204.5 352 L205.25 351.26 L206 351 L206.67 350.77 L207.33 350.46 L208 350.4 L208.67 350.31 L209.33 350.25 L210 350.4 L210.8 349.97 L211.6 349 L212.3 347.89 L213 347.6 L213.67 347.43 L214.33 345.97 L215 346.4 L215.67 345.4 L216.33 344.79 L217 344.4 L217.7 344.09 L218.4 345 L219.2 346.91 L220 348 L220.67 347.81 L221.33 348.76 L222 348.4 L222.67 348.71 L223.33 347.05 L224 347 L224.67 347.47 L225.33 347.12 L226 346.4 L226.67 346.88 L227.33 346 L228 347 L228.67 345.79 L229.33 344.95 L230 343.6 L230.8 342.65 L231.6 342.4 L232.3 341.23 L233 341 L233.7 339.18 L234.4 338 L235.2 336.09 L236 335 L236.67 334.49 L237.33 332.74 L238 332 L238.67 332.2 L239.33 332.91 L240 333 L240.67 334.1 L241.33 333.31 L242 334 L242.8 333.72 L243.6 335 L244.3 337.31 L245 338 L245.7 336.57 L246.4 334 L247.2 331.99 L248 329 L248.8 329.54 L249.6 330 L250.3 329.05 L251 329 L251.7 330.41 L252.4 333 L253.2 335.17 L254 338 L254.8 340.13 L255.6 342.4 L256.3 340.26 L257 339.6 L257.7 338.64 L258.4 337 L259.2 337.89 L260 338 L260.8 333.17 L261.6 330 L262.3 326.58 L263 322 L264 328 L265 309 L266 314 L267 323 L268 316 L269 306 L270 325 L270.8 328.99 L271.6 333 L272.3 335.71 L273 337 L273.7 335.96 L274.4 335 L275.2 336 L276 336 L276.8 331.92 L277.6 328 L278.6 331 L279.6 340 L280.3 341.39 L281 342.4 L281.7 342 L282.4 341.6 L283 338.99 L283.6 338 L284.4 349 L285.2 348.89 L286 350 L286.75 349.64 L287.5 350.04 L288.25 350.08 L289 350.4 L289.67 350.2 L290.33 350.14 L291 349.6 L291.67 349.9 L292.33 350.23 L293 351 L293.8 351.02 L294.6 351.77 L295.4 351.48 L296.2 351.26 L297 351 L297.8 351.5 L298.6 350.46 L299.4 350.2 L300.2 350.15 L301 350.8 L301.68 349.92 L302.36 349.49 L303.04 350.29 L303.72 350.55 L304.4 349.6 L305.27 349.21 L306.13 350.45 L307 350.4 L307.8 351.19 L308.6 350.93 L309.4 349.93 L310.2 350.8 L311 350.6 L311.68 350.06 L312.36 349.81 L313.04 349.41 L313.72 350.16 L314.4 350 L315.12 351.03 L315.84 349.97 L316.56 350.36 L317.28 351.09 L318 351.6 L318.8 350.98 L319.6 351.86 L320.4 352.47 L321.2 352.17 L322 352.4 L322.75 351.67 L323.5 351.7 L324.25 352.04 L325 352.6 L325.87 353.08 L326.73 353.72 L327.6 353.2 L328.4 352.67 L329.2 351.46 L330 351.6 L330.8 350.72 L331.6 350.66 L332.4 350.4 L333.07 350.13 L333.73 350.55 L334.4 351.6 L335.12 351.57 L335.84 352.34 L336.56 351.39 L337.28 352.57 L338 352 L338.8 352.48 L339.6 351.57 L340.4 351.05 L341.2 350.82 L342 351.2 L342.8 351.36 L343.6 351.51 L344.4 351.45 L345.2 350.22 L346 350.6 L346.8 350.44 L347.6 349.71 L348.4 350.15 L349.2 350.09 L350 350.4 L350.8 349.88 L351.6 349.92 L352.4 351.6 L353.2 350.55 L354 351 L354.8 351.08 L355.6 351.22 L356.4 351.19 L357.2 351.47 L358 351.4" fill="none" stroke="#7e3219" stroke-width="1.55" stroke-linejoin="round" stroke-linecap="round" />
<path d="M262.3 326.58 L263 322 L264 328 L265 309 L266 314 L267 323 L268 316 L269 306 L270 325" fill="none" stroke="#d81410" stroke-width="1.05" stroke-linejoin="round" stroke-linecap="round" />
<text x="469.75" y="289.3" font-size="6.3" text-anchor="middle" fill="#1a1a1a" stroke="#1a1a1a" stroke-width="0.08" font-family="Liberation Sans, sans-serif">XRP</text>
<path d="M392 299 H547.5" stroke="#3c3c3c" stroke-width="1"/>
<path d="M392 354.4 H547.5" stroke="#5e5e5e" stroke-width="1"/>
<path d="M392.5 298.5 V354.9" stroke="#5e5e5e" stroke-width="1"/>
<path d="M547 298.5 V354.9" stroke="#3c3c3c" stroke-width="1"/>
<path d="M389.9 354.4 H392.5" stroke="#4a4a4a" stroke-width="1"/>
<text x="389" y="355.9" font-size="5.6" text-anchor="end" fill="#2a2a2a" stroke="#2a2a2a" stroke-width="0.12" textLength="7" lengthAdjust="spacingAndGlyphs" font-family="Liberation Sans, sans-serif">0.0</text>
<path d="M389.9 340.55 H392.5" stroke="#4a4a4a" stroke-width="1"/>
<text x="389" y="342.05" font-size="5.6" text-anchor="end" fill="#2a2a2a" stroke="#2a2a2a" stroke-width="0.12" textLength="7" lengthAdjust="spacingAndGlyphs" font-family="Liberation Sans, sans-serif">0.5</text>
<path d="M389.9 326.7 H392.5" stroke="#4a4a4a" stroke-width="1"/>
<text x="389" y="328.2" font-size="5.6" text-anchor="end" fill="#2a2a2a" stroke="#2a2a2a" stroke-width="0.12" textLength="7" lengthAdjust="spacingAndGlyphs" font-family="Liberation Sans, sans-serif">1.0</text>
<path d="M389.9 312.85 H392.5" stroke="#4a4a4a" stroke-width="1"/>
<text x="389" y="314.35" font-size="5.6" text-anchor="end" fill="#2a2a2a" stroke="#2a2a2a" stroke-width="0.12" textLength="7" lengthAdjust="spacingAndGlyphs" font-family="Liberation Sans, sans-serif">1.5</text>
<path d="M389.9 299 H392.5" stroke="#4a4a4a" stroke-width="1"/>
<text x="389" y="300.5" font-size="5.6" text-anchor="end" fill="#2a2a2a" stroke="#2a2a2a" stroke-width="0.12" textLength="7" lengthAdjust="spacingAndGlyphs" font-family="Liberation Sans, sans-serif">2.0</text>
<path d="M396.5 354.4 V357.4 M401.04 354.4 V356 M405.58 354.4 V356 M410.12 354.4 V356 M414.66 354.4 V356 M419.2 354.4 V356 M423.74 354.4 V356 M428.28 354.4 V356 M432.82 354.4 V356 M437.36 354.4 V356 M441.9 354.4 V356 M446.44 354.4 V356 M450.98 354.4 V357.4 M455.52 354.4 V356 M460.06 354.4 V356 M464.6 354.4 V356 M469.14 354.4 V356 M473.68 354.4 V356 M478.22 354.4 V356 M482.76 354.4 V356 M487.3 354.4 V356 M491.84 354.4 V356 M496.38 354.4 V356 M500.92 354.4 V356 M505.46 354.4 V357.4 M510 354.4 V356 M514.54 354.4 V356 M519.08 354.4 V356 M523.62 354.4 V356 M528.16 354.4 V356 M532.7 354.4 V356 M537.24 354.4 V356 M541.78 354.4 V356 M546.32 354.4 V356" stroke="#444" stroke-width="0.9"/>
<text x="424.8" y="363.3" font-size="5.6" text-anchor="middle" fill="#2a2a2a" stroke="#2a2a2a" stroke-width="0.12" textLength="9.6" lengthAdjust="spacingAndGlyphs" font-family="Liberation Sans, sans-serif">2020</text>
<text x="479.1" y="363.3" font-size="5.6" text-anchor="middle" fill="#2a2a2a" stroke="#2a2a2a" stroke-width="0.12" textLength="9.6" lengthAdjust="spacingAndGlyphs" font-family="Liberation Sans, sans-serif">2021</text>
<text x="529.1" y="363.3" font-size="5.6" text-anchor="middle" fill="#2a2a2a" stroke="#2a2a2a" stroke-width="0.12" textLength="9.6" lengthAdjust="spacingAndGlyphs" font-family="Liberation Sans, sans-serif">2022</text>
<path d="M392.5 348.4 L393.33 348.64 L394.17 349.32 L395 349 L395.75 349.78 L396.5 348.64 L397.25 349.45 L398 349 L398.75 349.1 L399.5 348.77 L400.25 347.59 L401 348 L401.67 346.66 L402.33 346.74 L403 346.4 L403.7 346.42 L404.4 345.6 L405.2 345.88 L406 347 L406.67 347.67 L407.33 348.02 L408 349 L408.67 349.92 L409.33 350.42 L410 350 L410.75 349.58 L411.5 350.35 L412.25 348.51 L413 349 L413.75 349.38 L414.5 349.34 L415.25 347.96 L416 348.4 L416.8 348.87 L417.6 348.74 L418.4 349.53 L419.2 348.39 L420 349 L420.8 349.11 L421.6 349.73 L422.4 349.36 L423.2 348.84 L424 349.2 L424.75 348.29 L425.5 349.55 L426.25 348.56 L427 348.4 L427.67 348.58 L428.33 346.46 L429 346.4 L429.67 347 L430.33 347.07 L431 346.6 L431.75 347.66 L432.5 346.48 L433.25 347.43 L434 348 L434.8 347.24 L435.6 348.43 L436.4 347.75 L437.2 348.78 L438 348 L438.8 347.71 L439.6 348.31 L440.4 348.39 L441.2 347.24 L442 347.6 L442.8 347.3 L443.6 347.58 L444.4 346.4 L445 341.25 L445.6 336 L446.3 336.76 L447 338 L447.7 337.4 L448.4 337.6 L449 339.79 L449.6 341 L450.3 343.98 L451 348 L451.7 348.68 L452.4 349 L453.2 348.09 L454 347 L454.8 347.39 L455.6 347.6 L456.3 343.97 L457 341.6 L457.7 340.07 L458.4 338 L459 339.71 L459.6 340 L460.3 340.89 L461 342.4 L461.7 341.71 L462.4 341.6 L463.2 342 L464 341 L465 338 L466 320 L467 304 L468 326 L469 316 L470 310 L471 312 L472 310 L473 326 L474 327 L475 330 L476 329 L476.8 332.13 L477.6 335 L478.3 336.11 L479 338 L479.7 336.67 L480.4 337 L481.2 338.43 L482 339 L482.8 335.74 L483.6 333 L484.3 327.94 L485 323 L485.7 321.11 L486.4 320 L487 321.23 L487.6 322 L488.6 316 L489.3 320.89 L490 325 L490.8 324.18 L491.6 324 L492.3 321.78 L493 321 L493.7 322.83 L494.4 323 L495.2 323.2 L496 322 L496.67 320.52 L497.33 320.78 L498 320 L498.8 322.82 L499.6 325 L500.3 326.34 L501 328 L501.67 329.39 L502.33 330.78 L503 331 L503.7 329.65 L504.4 328 L505.2 329.82 L506 332 L506.67 331.82 L507.33 332.24 L508 333 L508.67 334.07 L509.33 335.67 L510 338 L510.8 334.01 L511.6 331 L512.3 332.08 L513 332 L513.67 332.4 L514.33 333.19 L515 333 L515.67 333.38 L516.33 332.86 L517 332 L517.67 330.9 L518.33 332.06 L519 331 L519.67 330.97 L520.33 332.79 L521 333 L521.67 334.58 L522.33 335.27 L523 336 L523.67 337.5 L524.33 338.61 L525 341 L526 343.6 L526.67 342.89 L527.33 343.83 L528 343.6 L528.75 343.51 L529.5 344.35 L530.25 344.25 L531 345 L531.67 344.23 L532.33 344.25 L533 344.4 L533.75 344.78 L534.5 344.38 L535.25 344.22 L536 344.4 L536.75 344.28 L537.5 344.29 L538.25 344.13 L539 344 L539.75 344.16 L540.5 345.29 L541.25 345.18 L542 345 L542.67 344.21 L543.33 344.02 L544 344 L544.8 341.47 L545.6 340" fill="none" stroke="#7e3219" stroke-width="1.55" stroke-linejoin="round" stroke-linecap="round" />
<path d="M466 320 L467 304 L468 326 L469 316 L470 310 L471 312 L472 310 L473 326" fill="none" stroke="#d81410" stroke-width="1.05" stroke-linejoin="round" stroke-linecap="round" />
</svg>
</body></html>
